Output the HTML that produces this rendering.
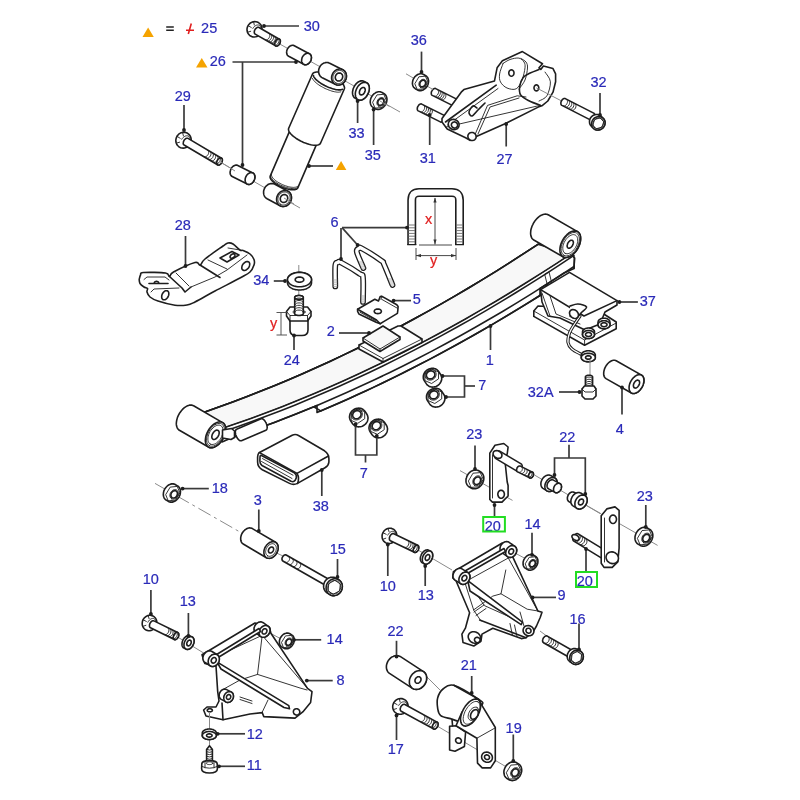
<!DOCTYPE html>
<html><head><meta charset="utf-8"><style>
html,body{margin:0;padding:0;background:#fff;width:800px;height:800px;overflow:hidden}
svg{display:block;will-change:transform}
.lb{font-family:"Liberation Sans",sans-serif;font-size:14.5px;stroke-width:0.2px}
.ld{fill:none;stroke:#3a3a3a;stroke-width:1.7}
.o{fill:#fff;stroke:#1e1e1e;stroke-width:1.6;stroke-linejoin:round;stroke-linecap:round}
.g{fill:#f8f8f8;stroke:#1e1e1e;stroke-width:1.6;stroke-linejoin:round;stroke-linecap:round}
.n{fill:none;stroke:#1e1e1e;stroke-width:1.6;stroke-linejoin:round;stroke-linecap:round}
.t{fill:none;stroke:#1e1e1e;stroke-width:0.9;stroke-linecap:round}
.c{fill:none;stroke:#8a8a8a;stroke-width:1}
</style></head><body>
<svg width="800" height="800" viewBox="0 0 800 800">
<path d="M278.0,43.0 L400.0,112.0" class="c"/>
<path d="M220.0,162.0 L300.0,208.0" class="c"/>
<path d="M250.6,36.1 L251.8,36.6 L253.0,36.9 L254.3,37.0 L255.7,36.8 L256.9,36.5 L258.1,35.9 L259.2,35.1 L260.1,34.1 L260.9,33.0 L261.5,31.8 L261.9,30.4 L262.0,29.1 L261.9,27.8 L261.6,26.5 L261.1,25.3 L260.3,24.2 L259.4,23.3 L258.4,22.5 L257.2,22.0 L256.0,21.7 L254.7,21.6 L253.3,21.8 L252.1,22.1 L250.9,22.7 L249.8,23.5 L248.9,24.5 L248.1,25.6 L247.5,26.8 L247.1,28.2 L247.0,29.5 L247.1,30.8 L247.4,32.1 L247.9,33.3 L248.7,34.4 L249.6,35.3 L250.6,36.1 Z" class="o" />
<path d="M247.6,32.2 L250.7,31.3" class="t" />
<path d="M248.2,25.7 L251.3,27.5" class="t" />
<path d="M253.6,21.9 L254.3,25.0" class="t" />
<path d="M259.9,32.4 L260.4,31.6 L260.7,30.8 L260.9,29.9 L261.0,29.1 L261.0,28.2 L260.8,27.5 L260.6,26.8 L260.3,26.2 L259.8,25.7 L259.3,25.3 L258.7,25.1 L258.1,24.9 L257.4,25.0 L256.7,25.1 L256.0,25.4 L255.3,25.8 L254.6,26.3 L254.0,26.9 L253.4,27.6 L252.9,28.4" class="t" />
<path d="M255.2,34.1 L275.6,45.8 L275.8,46.0 L276.1,46.0 L276.4,46.0 L276.7,46.0 L277.0,46.0 L277.3,45.9 L277.6,45.7 L277.9,45.5 L278.2,45.3 L278.5,45.0 L278.8,44.7 L279.1,44.4 L279.4,44.1 L279.6,43.7 L279.8,43.3 L280.0,42.9 L280.1,42.5 L280.2,42.1 L280.3,41.7 L280.3,41.4 L280.3,41.0 L280.3,40.6 L280.2,40.3 L280.1,40.0 L280.0,39.7 L279.8,39.5 L279.6,39.3 L279.4,39.2 L259.0,27.5 L258.8,27.3 L258.5,27.3 L258.2,27.2 L257.9,27.3 L257.6,27.3 L257.3,27.4 L257.0,27.6 L256.7,27.8 L256.4,28.0 L256.1,28.3 L255.8,28.6 L255.5,28.9 L255.2,29.2 L255.0,29.6 L254.8,30.0 L254.6,30.4 L254.5,30.8 L254.4,31.2 L254.3,31.6 L254.3,31.9 L254.3,32.3 L254.3,32.7 L254.4,33.0 L254.5,33.3 L254.6,33.6 L254.8,33.8 L255.0,34.0 L255.2,34.1 Z" class="o" />
<path d="M275.6,45.8 L275.9,46.0 L276.3,46.0 L276.7,46.0 L277.2,45.9 L277.6,45.7 L278.1,45.4 L278.5,45.1 L278.9,44.7 L279.3,44.2 L279.6,43.7 L279.9,43.2 L280.1,42.6 L280.2,42.0 L280.3,41.5 L280.3,41.0 L280.3,40.5 L280.2,40.1 L280.0,39.7 L279.7,39.4 L279.4,39.2 L279.1,39.0 L278.7,39.0 L278.3,39.0 L277.8,39.1 L277.4,39.3 L276.9,39.6 L276.5,39.9 L276.1,40.3 L275.7,40.8 L275.4,41.3 L275.1,41.8 L274.9,42.4 L274.8,43.0 L274.7,43.5 L274.7,44.0 L274.7,44.5 L274.8,44.9 L275.0,45.3 L275.3,45.6 L275.6,45.8 Z" class="o" />
<path d="M265.6,39.7 L266.4,39.8 L267.4,39.5 L268.4,38.8 L269.2,37.7 L269.7,36.5 L269.8,35.3 L269.6,34.3 L269.0,33.6" class="t"/>
<path d="M267.4,40.7 L268.3,40.9 L269.2,40.6 L270.2,39.8 L271.0,38.8 L271.5,37.5 L271.7,36.3 L271.4,35.3 L270.9,34.7" class="t"/>
<path d="M269.2,41.8 L270.1,41.9 L271.1,41.6 L272.0,40.9 L272.8,39.8 L273.4,38.6 L273.5,37.4 L273.3,36.4 L272.7,35.7" class="t"/>
<path d="M271.1,42.8 L271.9,43.0 L272.9,42.7 L273.9,42.0 L274.7,40.9 L275.2,39.7 L275.4,38.4 L275.1,37.4 L274.5,36.8" class="t"/>
<path d="M272.9,43.9 L273.8,44.0 L274.7,43.7 L275.7,43.0 L276.5,41.9 L277.0,40.7 L277.2,39.5 L277.0,38.5 L276.4,37.9" class="t"/>
<path d="M274.8,44.9 L275.6,45.1 L276.6,44.8 L277.6,44.1 L278.4,43.0 L278.9,41.8 L279.0,40.5 L278.8,39.5 L278.2,38.9" class="t"/>
<path d="M288.7,56.3 L303.7,64.3 L304.1,64.5 L304.6,64.6 L305.1,64.7 L305.7,64.7 L306.2,64.6 L306.8,64.5 L307.3,64.2 L307.8,64.0 L308.4,63.6 L308.9,63.2 L309.3,62.7 L309.7,62.2 L310.1,61.7 L310.5,61.1 L310.8,60.5 L311.0,59.9 L311.2,59.3 L311.3,58.6 L311.4,58.0 L311.4,57.4 L311.3,56.8 L311.2,56.2 L311.0,55.6 L310.8,55.1 L310.5,54.7 L310.1,54.3 L309.8,54.0 L309.3,53.7 L294.3,45.7 L293.9,45.5 L293.4,45.4 L292.9,45.3 L292.3,45.3 L291.8,45.4 L291.2,45.5 L290.7,45.8 L290.2,46.0 L289.6,46.4 L289.1,46.8 L288.7,47.3 L288.3,47.8 L287.9,48.3 L287.5,48.9 L287.2,49.5 L287.0,50.1 L286.8,50.7 L286.7,51.4 L286.6,52.0 L286.6,52.6 L286.7,53.2 L286.8,53.8 L287.0,54.4 L287.2,54.9 L287.5,55.3 L287.9,55.7 L288.2,56.0 L288.7,56.3 Z" class="o" />
<path d="M303.7,64.3 L304.3,64.6 L305.0,64.7 L305.8,64.7 L306.5,64.5 L307.3,64.2 L308.1,63.8 L308.8,63.3 L309.4,62.6 L310.0,61.9 L310.5,61.1 L310.9,60.3 L311.1,59.4 L311.3,58.5 L311.4,57.6 L311.3,56.8 L311.1,56.0 L310.8,55.2 L310.4,54.6 L309.9,54.1 L309.3,53.7 L308.7,53.4 L308.0,53.3 L307.2,53.3 L306.5,53.5 L305.7,53.8 L304.9,54.2 L304.2,54.7 L303.6,55.4 L303.0,56.1 L302.5,56.9 L302.1,57.7 L301.9,58.6 L301.7,59.5 L301.6,60.4 L301.7,61.2 L301.9,62.0 L302.2,62.8 L302.6,63.4 L303.1,63.9 L303.7,64.3 Z" class="o" />
<path d="M322.8,129.9 L297.8,187.9 L297.4,188.5 L296.9,188.9 L296.3,189.3 L295.5,189.5 L294.5,189.7 L293.4,189.8 L292.2,189.8 L290.9,189.7 L289.5,189.4 L288.0,189.1 L286.5,188.7 L284.9,188.2 L283.4,187.7 L281.8,187.1 L280.3,186.4 L278.8,185.6 L277.4,184.8 L276.1,184.0 L274.8,183.1 L273.7,182.2 L272.7,181.4 L271.9,180.5 L271.2,179.7 L270.6,178.8 L270.3,178.1 L270.1,177.3 L270.1,176.7 L270.2,176.1 L295.2,118.1 Z" class="o" />
<path d="M271.5,174.5 L271.5,175.1 L271.6,175.8 L271.9,176.5 L272.3,177.2 L272.9,178.0 L273.6,178.8 L274.4,179.6 L275.4,180.4 L276.4,181.2 L277.6,182.0 L278.8,182.7 L280.1,183.4 L281.4,184.1 L282.8,184.8 L284.2,185.3 L285.6,185.8 L287.1,186.3 L288.5,186.7 L289.8,187.0 L291.1,187.2 L292.3,187.3 L293.5,187.4 L294.5,187.3 L295.5,187.2 L296.3,187.0 L297.0,186.7 L297.6,186.4 L298.1,185.9" class="t" />
<path d="M270.7,175.6 L270.7,176.2 L270.8,176.8 L271.1,177.6 L271.6,178.3 L272.1,179.1 L272.9,179.9 L273.7,180.7 L274.7,181.5 L275.8,182.3 L276.9,183.1 L278.2,183.9 L279.5,184.6 L280.9,185.3 L282.3,185.9 L283.7,186.5 L285.2,187.1 L286.6,187.5 L288.1,187.9 L289.4,188.2 L290.8,188.4 L292.0,188.6 L293.2,188.6 L294.3,188.6 L295.2,188.5 L296.1,188.3 L296.8,188.0 L297.4,187.7 L297.8,187.3" class="t" />
<path d="M344.3,89.0 L344.5,88.3 L344.5,87.5 L344.3,86.7 L343.9,85.7 L343.4,84.7 L342.6,83.7 L341.6,82.7 L340.5,81.6 L339.2,80.5 L337.8,79.5 L336.3,78.4 L334.6,77.4 L332.9,76.5 L331.2,75.6 L329.4,74.8 L327.6,74.1 L325.8,73.5 L324.0,72.9 L322.3,72.5 L320.7,72.2 L319.1,72.0 L317.7,72.0 L316.4,72.0 L315.3,72.2 L314.3,72.5 L313.5,72.9 L312.9,73.4 L312.5,74.0 L288.7,128.2 L288.5,128.9 L288.5,129.7 L288.7,130.5 L289.1,131.5 L289.6,132.5 L290.4,133.5 L291.4,134.5 L292.5,135.6 L293.8,136.7 L295.2,137.7 L296.7,138.8 L298.4,139.8 L300.1,140.7 L301.8,141.6 L303.6,142.4 L305.4,143.1 L307.2,143.7 L309.0,144.3 L310.7,144.7 L312.3,145.0 L313.9,145.2 L315.3,145.2 L316.6,145.2 L317.7,145.0 L318.7,144.7 L319.5,144.3 L320.1,143.8 L320.5,143.2 Z" class="o" />
<path d="M313.5,75.6 L313.6,76.2 L313.9,76.9 L314.3,77.6 L314.9,78.3 L315.6,79.1 L316.4,79.9 L317.3,80.7 L318.3,81.5 L319.5,82.4 L320.7,83.2 L322.0,84.0 L323.3,84.7 L324.7,85.5 L326.2,86.2 L327.6,86.9 L329.1,87.5 L330.6,88.0 L332.0,88.5 L333.4,88.9 L334.8,89.3 L336.0,89.6 L337.3,89.8 L338.4,89.9 L339.4,89.9 L340.4,89.9 L341.2,89.8 L341.9,89.6 L342.5,89.3" class="n" />
<path d="M312.5,78.5 L312.8,79.1 L313.2,79.7 L313.7,80.4 L314.3,81.1 L315.0,81.9 L315.8,82.6 L316.8,83.4 L317.8,84.2 L318.8,84.9 L320.0,85.7 L321.2,86.4 L322.5,87.1 L323.8,87.8 L325.1,88.5 L326.5,89.1 L327.8,89.6 L329.2,90.2 L330.5,90.6 L331.8,91.1 L333.1,91.4 L334.3,91.7 L335.5,91.9 L336.6,92.1 L337.6,92.2 L338.6,92.2 L339.4,92.1 L340.2,92.0 L340.8,91.8" class="t" />
<path d="M322.3,77.8 L335.3,84.3 L336.1,84.6 L336.9,84.9 L337.7,85.0 L338.5,85.0 L339.3,84.9 L340.1,84.7 L341.0,84.5 L341.7,84.1 L342.5,83.6 L343.2,83.1 L343.9,82.5 L344.5,81.8 L345.0,81.0 L345.4,80.2 L345.8,79.4 L346.1,78.5 L346.3,77.6 L346.4,76.7 L346.4,75.8 L346.3,74.9 L346.1,74.1 L345.9,73.3 L345.5,72.5 L345.1,71.8 L344.6,71.1 L344.0,70.6 L343.4,70.1 L342.7,69.7 L329.7,63.2 L328.9,62.9 L328.1,62.6 L327.3,62.5 L326.5,62.5 L325.7,62.6 L324.9,62.8 L324.0,63.0 L323.3,63.4 L322.5,63.9 L321.8,64.4 L321.1,65.0 L320.5,65.7 L320.0,66.5 L319.6,67.3 L319.2,68.1 L318.9,69.0 L318.7,69.9 L318.6,70.8 L318.6,71.7 L318.7,72.6 L318.9,73.4 L319.1,74.2 L319.5,75.0 L319.9,75.7 L320.4,76.4 L321.0,76.9 L321.6,77.4 L322.3,77.8 Z" class="o" />
<path d="M335.3,84.3 L336.4,84.7 L337.5,85.0 L338.7,85.0 L339.8,84.8 L341.0,84.5 L342.1,83.9 L343.1,83.2 L344.0,82.3 L344.8,81.3 L345.4,80.2 L345.9,79.0 L346.3,77.8 L346.4,76.5 L346.4,75.3 L346.1,74.1 L345.8,73.0 L345.2,71.9 L344.5,71.0 L343.6,70.3 L342.7,69.7 L341.6,69.3 L340.5,69.0 L339.3,69.0 L338.2,69.2 L337.0,69.5 L335.9,70.1 L334.9,70.8 L334.0,71.7 L333.2,72.7 L332.6,73.8 L332.1,75.0 L331.7,76.2 L331.6,77.5 L331.6,78.7 L331.9,79.9 L332.2,81.0 L332.8,82.1 L333.5,83.0 L334.4,83.7 L335.3,84.3 Z" class="o" />
<path d="M336.0,83.0 L336.9,83.4 L337.8,83.5 L338.7,83.6 L339.7,83.4 L340.6,83.1 L341.5,82.7 L342.3,82.1 L343.1,81.4 L343.7,80.5 L344.3,79.6 L344.7,78.7 L345.0,77.7 L345.1,76.6 L345.0,75.6 L344.9,74.6 L344.5,73.7 L344.1,72.8 L343.5,72.1 L342.8,71.5 L342.0,71.0 L341.1,70.6 L340.2,70.5 L339.3,70.4 L338.3,70.6 L337.4,70.9 L336.5,71.3 L335.7,71.9 L334.9,72.6 L334.3,73.5 L333.7,74.4 L333.3,75.3 L333.0,76.3 L332.9,77.4 L333.0,78.4 L333.1,79.4 L333.5,80.3 L333.9,81.2 L334.5,81.9 L335.2,82.5 L336.0,83.0 Z" class="t" />
<path d="M337.2,80.7 L337.8,80.9 L338.5,81.0 L339.3,80.9 L340.0,80.7 L340.7,80.4 L341.3,79.9 L341.8,79.3 L342.2,78.6 L342.5,77.9 L342.7,77.1 L342.7,76.3 L342.6,75.5 L342.3,74.8 L341.9,74.2 L341.4,73.7 L340.8,73.3 L340.2,73.1 L339.5,73.0 L338.7,73.1 L338.0,73.3 L337.3,73.6 L336.7,74.1 L336.2,74.7 L335.8,75.4 L335.5,76.1 L335.3,76.9 L335.3,77.7 L335.4,78.5 L335.7,79.2 L336.1,79.8 L336.6,80.3 L337.2,80.7 Z" class="o" />
<path d="M267.1,198.7 L280.1,205.7 L280.8,206.1 L281.6,206.3 L282.4,206.4 L283.2,206.5 L284.1,206.4 L284.9,206.3 L285.7,206.0 L286.5,205.7 L287.3,205.2 L288.0,204.7 L288.7,204.1 L289.3,203.4 L289.9,202.7 L290.3,201.9 L290.7,201.1 L291.0,200.2 L291.3,199.3 L291.4,198.4 L291.4,197.5 L291.4,196.7 L291.2,195.8 L291.0,195.0 L290.7,194.2 L290.3,193.5 L289.8,192.8 L289.2,192.2 L288.6,191.7 L287.9,191.3 L274.9,184.3 L274.2,183.9 L273.4,183.7 L272.6,183.6 L271.8,183.5 L270.9,183.6 L270.1,183.7 L269.3,184.0 L268.5,184.3 L267.7,184.8 L267.0,185.3 L266.3,185.9 L265.7,186.6 L265.1,187.3 L264.7,188.1 L264.3,188.9 L264.0,189.8 L263.7,190.7 L263.6,191.6 L263.6,192.5 L263.6,193.3 L263.8,194.2 L264.0,195.0 L264.3,195.8 L264.7,196.5 L265.2,197.2 L265.8,197.8 L266.4,198.3 L267.1,198.7 Z" class="o" />
<path d="M280.1,205.7 L281.2,206.2 L282.3,206.4 L283.4,206.5 L284.6,206.3 L285.7,206.0 L286.8,205.5 L287.9,204.8 L288.8,204.0 L289.7,203.0 L290.3,201.9 L290.9,200.7 L291.2,199.5 L291.4,198.3 L291.4,197.0 L291.2,195.8 L290.9,194.7 L290.3,193.6 L289.7,192.7 L288.8,191.9 L287.9,191.3 L286.8,190.8 L285.7,190.6 L284.6,190.5 L283.4,190.7 L282.3,191.0 L281.2,191.5 L280.1,192.2 L279.2,193.0 L278.3,194.0 L277.7,195.1 L277.1,196.3 L276.8,197.5 L276.6,198.7 L276.6,200.0 L276.8,201.2 L277.1,202.3 L277.7,203.4 L278.3,204.3 L279.2,205.1 L280.1,205.7 Z" class="o" />
<path d="M280.8,204.4 L281.7,204.8 L282.6,205.0 L283.5,205.0 L284.5,204.9 L285.4,204.7 L286.3,204.2 L287.2,203.7 L288.0,203.0 L288.6,202.2 L289.2,201.3 L289.6,200.3 L289.9,199.3 L290.1,198.3 L290.1,197.3 L289.9,196.3 L289.6,195.4 L289.2,194.5 L288.6,193.7 L288.0,193.1 L287.2,192.6 L286.3,192.2 L285.4,192.0 L284.5,192.0 L283.5,192.1 L282.6,192.3 L281.7,192.8 L280.8,193.3 L280.0,194.0 L279.4,194.8 L278.8,195.7 L278.4,196.7 L278.1,197.7 L277.9,198.7 L277.9,199.7 L278.1,200.7 L278.4,201.6 L278.8,202.5 L279.4,203.3 L280.0,203.9 L280.8,204.4 Z" class="t" />
<path d="M282.1,202.1 L282.7,202.4 L283.4,202.5 L284.1,202.4 L284.9,202.3 L285.6,201.9 L286.2,201.5 L286.7,200.9 L287.2,200.2 L287.5,199.5 L287.7,198.7 L287.7,197.9 L287.6,197.2 L287.4,196.4 L287.0,195.8 L286.5,195.3 L285.9,194.9 L285.3,194.6 L284.6,194.5 L283.9,194.6 L283.1,194.7 L282.4,195.1 L281.8,195.5 L281.3,196.1 L280.8,196.8 L280.5,197.5 L280.3,198.3 L280.3,199.1 L280.4,199.8 L280.6,200.6 L281.0,201.2 L281.5,201.7 L282.1,202.1 Z" class="o" />
<path d="M284.0,198.0 L294.0,204.0" class="c"/>
<path d="M355.3,98.3 L358.1,99.7 L358.7,100.0 L359.4,100.1 L360.1,100.1 L360.9,100.1 L361.7,99.9 L362.4,99.6 L363.2,99.2 L364.0,98.7 L364.7,98.1 L365.5,97.4 L366.1,96.6 L366.8,95.8 L367.3,94.9 L367.8,94.0 L368.3,93.0 L368.7,92.0 L368.9,91.0 L369.1,90.0 L369.3,89.0 L369.3,88.1 L369.2,87.2 L369.1,86.3 L368.8,85.5 L368.5,84.7 L368.1,84.1 L367.7,83.5 L367.1,83.1 L366.5,82.7 L363.7,81.3 L363.1,81.0 L362.4,80.9 L361.7,80.9 L360.9,80.9 L360.1,81.1 L359.4,81.4 L358.6,81.8 L357.8,82.3 L357.1,82.9 L356.3,83.6 L355.7,84.4 L355.0,85.2 L354.5,86.1 L354.0,87.0 L353.5,88.0 L353.1,89.0 L352.9,90.0 L352.7,91.0 L352.5,92.0 L352.5,92.9 L352.6,93.8 L352.7,94.7 L353.0,95.5 L353.3,96.3 L353.7,96.9 L354.1,97.5 L354.7,97.9 L355.3,98.3 Z" class="o" />
<path d="M358.1,99.7 L359.0,100.0 L360.0,100.1 L361.0,100.0 L362.1,99.7 L363.2,99.2 L364.3,98.4 L365.3,97.5 L366.3,96.5 L367.1,95.3 L367.8,94.0 L368.4,92.6 L368.9,91.2 L369.2,89.8 L369.3,88.4 L369.2,87.2 L369.0,86.0 L368.6,84.9 L368.1,84.0 L367.4,83.2 L366.5,82.7 L365.6,82.4 L364.6,82.3 L363.6,82.4 L362.5,82.7 L361.4,83.2 L360.3,84.0 L359.3,84.9 L358.3,85.9 L357.5,87.1 L356.8,88.4 L356.2,89.8 L355.7,91.2 L355.4,92.6 L355.3,94.0 L355.4,95.2 L355.6,96.4 L356.0,97.5 L356.5,98.4 L357.2,99.2 L358.1,99.7 Z" class="o" />
<path d="M360.5,94.8 L361.0,94.9 L361.5,94.9 L362.1,94.8 L362.7,94.5 L363.2,94.2 L363.8,93.6 L364.2,93.0 L364.6,92.4 L364.9,91.6 L365.1,90.9 L365.2,90.2 L365.2,89.5 L365.1,88.9 L364.8,88.3 L364.5,87.9 L364.1,87.6 L363.6,87.5 L363.1,87.5 L362.5,87.6 L361.9,87.9 L361.4,88.2 L360.8,88.8 L360.4,89.4 L360.0,90.0 L359.7,90.8 L359.5,91.5 L359.4,92.2 L359.4,92.9 L359.5,93.5 L359.8,94.1 L360.1,94.5 L360.5,94.8 Z" class="o" />
<path d="M373.1,107.5 L375.1,108.7 L375.8,109.0 L376.5,109.3 L377.3,109.4 L378.1,109.5 L378.9,109.4 L379.7,109.2 L380.5,109.0 L381.4,108.6 L382.1,108.1 L382.9,107.6 L383.6,107.0 L384.3,106.3 L384.9,105.5 L385.4,104.7 L385.9,103.8 L386.3,102.9 L386.6,102.0 L386.8,101.1 L386.9,100.2 L387.0,99.3 L386.9,98.4 L386.7,97.5 L386.5,96.7 L386.2,96.0 L385.8,95.3 L385.3,94.7 L384.7,94.2 L384.1,93.7 L382.1,92.5 L381.4,92.2 L380.7,91.9 L379.9,91.8 L379.1,91.7 L378.3,91.8 L377.5,92.0 L376.7,92.2 L375.8,92.6 L375.1,93.1 L374.3,93.6 L373.6,94.2 L372.9,94.9 L372.3,95.7 L371.8,96.5 L371.3,97.4 L370.9,98.3 L370.6,99.2 L370.4,100.1 L370.3,101.0 L370.2,101.9 L370.3,102.8 L370.5,103.7 L370.7,104.5 L371.0,105.2 L371.4,105.9 L371.9,106.5 L372.5,107.0 L373.1,107.5 Z" class="o" />
<path d="M375.4,108.1 L382.2,107.5 L386.4,100.5 L383.8,94.3 L377.0,94.9 L372.8,101.9 Z" class="t" />
<path d="M378.4,105.9 L379.3,106.3 L380.3,106.3 L381.3,106.1 L382.3,105.5 L383.2,104.8 L383.9,103.8 L384.4,102.7 L384.7,101.5 L384.7,100.4 L384.4,99.4 L383.9,98.5 L383.2,97.9 L382.3,97.6 L381.3,97.5 L380.3,97.8 L379.3,98.3 L378.4,99.1 L377.7,100.0 L377.2,101.2 L376.9,102.3 L376.9,103.4 L377.2,104.5 L377.7,105.3 L378.4,105.9 Z" class="t" />
<path d="M378.9,105.0 L379.6,105.3 L380.4,105.3 L381.2,105.1 L382.0,104.7 L382.6,104.1 L383.2,103.4 L383.6,102.5 L383.8,101.6 L383.8,100.8 L383.6,100.0 L383.2,99.3 L382.7,98.8 L382.0,98.6 L381.2,98.5 L380.4,98.7 L379.6,99.1 L379.0,99.7 L378.4,100.5 L378.0,101.3 L377.8,102.2 L377.8,103.1 L378.0,103.9 L378.4,104.5 L378.9,105.0 Z" class="n" />
<path d="M380.0,101.0 L389.5,106.5" class="c"/>
<path d="M179.4,147.1 L180.6,147.7 L181.9,148.0 L183.2,148.1 L184.6,148.0 L185.9,147.6 L187.1,147.0 L188.3,146.2 L189.2,145.2 L190.0,144.1 L190.6,142.8 L191.0,141.5 L191.2,140.1 L191.1,138.7 L190.8,137.4 L190.3,136.2 L189.6,135.1 L188.6,134.1 L187.6,133.3 L186.4,132.7 L185.1,132.4 L183.8,132.3 L182.4,132.4 L181.1,132.8 L179.9,133.4 L178.7,134.2 L177.8,135.2 L177.0,136.3 L176.4,137.6 L176.0,138.9 L175.8,140.3 L175.9,141.7 L176.2,143.0 L176.7,144.2 L177.4,145.3 L178.4,146.3 L179.4,147.1 Z" class="o" />
<path d="M176.4,143.1 L179.6,142.2" class="t" />
<path d="M177.1,136.4 L180.2,138.3" class="t" />
<path d="M182.6,132.6 L183.4,135.8" class="t" />
<path d="M189.0,143.4 L189.4,142.6 L189.8,141.7 L190.0,140.9 L190.1,140.0 L190.1,139.2 L190.0,138.4 L189.7,137.7 L189.4,137.1 L189.0,136.6 L188.4,136.2 L187.8,135.9 L187.2,135.8 L186.5,135.8 L185.8,135.9 L185.0,136.2 L184.3,136.6 L183.6,137.1 L182.9,137.7 L182.3,138.4 L181.8,139.2" class="t" />
<path d="M184.1,145.0 L217.5,164.8 L217.8,164.9 L218.0,165.0 L218.3,165.0 L218.6,165.0 L218.9,165.0 L219.3,164.9 L219.6,164.7 L219.9,164.5 L220.2,164.3 L220.5,164.0 L220.8,163.7 L221.1,163.4 L221.3,163.1 L221.6,162.7 L221.8,162.3 L221.9,162.0 L222.1,161.6 L222.2,161.2 L222.3,160.8 L222.3,160.4 L222.3,160.0 L222.3,159.7 L222.3,159.3 L222.2,159.0 L222.0,158.8 L221.9,158.5 L221.7,158.3 L221.5,158.2 L188.0,138.4 L187.8,138.3 L187.5,138.2 L187.3,138.2 L187.0,138.2 L186.6,138.3 L186.3,138.4 L186.0,138.5 L185.7,138.7 L185.4,138.9 L185.1,139.2 L184.8,139.5 L184.5,139.8 L184.2,140.1 L184.0,140.5 L183.8,140.9 L183.6,141.3 L183.5,141.7 L183.4,142.1 L183.3,142.5 L183.2,142.8 L183.2,143.2 L183.3,143.6 L183.3,143.9 L183.4,144.2 L183.5,144.5 L183.7,144.7 L183.9,144.9 L184.1,145.0 Z" class="o" />
<path d="M217.5,164.8 L217.9,165.0 L218.3,165.0 L218.7,165.0 L219.1,164.9 L219.6,164.7 L220.0,164.4 L220.5,164.1 L220.9,163.7 L221.2,163.2 L221.6,162.7 L221.8,162.2 L222.1,161.6 L222.2,161.1 L222.3,160.5 L222.3,160.0 L222.3,159.5 L222.2,159.1 L222.0,158.7 L221.8,158.4 L221.5,158.2 L221.1,158.0 L220.7,158.0 L220.3,158.0 L219.9,158.1 L219.4,158.3 L219.0,158.6 L218.5,158.9 L218.1,159.3 L217.8,159.8 L217.4,160.3 L217.2,160.8 L216.9,161.4 L216.8,161.9 L216.7,162.5 L216.7,163.0 L216.7,163.5 L216.8,163.9 L217.0,164.3 L217.2,164.6 L217.5,164.8 Z" class="o" />
<path d="M204.4,156.6 L205.2,156.8 L206.2,156.5 L207.2,155.7 L208.0,154.7 L208.5,153.5 L208.7,152.3 L208.5,151.3 L207.9,150.6" class="t"/>
<path d="M206.7,158.0 L207.6,158.2 L208.5,157.9 L209.5,157.1 L210.3,156.1 L210.9,154.9 L211.0,153.6 L210.8,152.6 L210.2,152.0" class="t"/>
<path d="M209.0,159.3 L209.9,159.5 L210.9,159.2 L211.9,158.5 L212.7,157.5 L213.2,156.2 L213.4,155.0 L213.2,154.0 L212.6,153.4" class="t"/>
<path d="M211.4,160.7 L212.2,160.9 L213.2,160.6 L214.2,159.9 L215.0,158.8 L215.5,157.6 L215.7,156.4 L215.5,155.4 L214.9,154.8" class="t"/>
<path d="M213.7,162.1 L214.6,162.3 L215.6,162.0 L216.5,161.3 L217.3,160.2 L217.9,159.0 L218.1,157.8 L217.8,156.8 L217.3,156.1" class="t"/>
<path d="M216.1,163.5 L216.9,163.7 L217.9,163.4 L218.9,162.7 L219.7,161.6 L220.2,160.4 L220.4,159.2 L220.2,158.2 L219.6,157.5" class="t"/>
<path d="M232.2,176.5 L247.2,184.0 L247.7,184.2 L248.2,184.4 L248.7,184.4 L249.2,184.4 L249.8,184.3 L250.3,184.1 L250.9,183.8 L251.4,183.5 L251.9,183.2 L252.4,182.7 L252.9,182.2 L253.3,181.7 L253.7,181.1 L254.0,180.5 L254.3,179.9 L254.5,179.2 L254.7,178.6 L254.8,177.9 L254.9,177.3 L254.9,176.6 L254.8,176.0 L254.7,175.4 L254.5,174.9 L254.2,174.4 L253.9,173.9 L253.6,173.5 L253.2,173.2 L252.8,173.0 L237.8,165.5 L237.3,165.3 L236.8,165.1 L236.3,165.1 L235.8,165.1 L235.2,165.2 L234.7,165.4 L234.1,165.7 L233.6,166.0 L233.1,166.3 L232.6,166.8 L232.1,167.3 L231.7,167.8 L231.3,168.4 L231.0,169.0 L230.7,169.6 L230.5,170.3 L230.3,170.9 L230.2,171.6 L230.1,172.2 L230.1,172.9 L230.2,173.5 L230.3,174.1 L230.5,174.6 L230.8,175.1 L231.1,175.6 L231.4,176.0 L231.8,176.3 L232.2,176.5 Z" class="o" />
<path d="M247.2,184.0 L247.9,184.3 L248.6,184.4 L249.4,184.4 L250.1,184.2 L250.9,183.8 L251.6,183.4 L252.3,182.8 L253.0,182.1 L253.5,181.4 L254.0,180.5 L254.4,179.6 L254.7,178.7 L254.8,177.8 L254.9,176.9 L254.8,176.0 L254.6,175.2 L254.3,174.5 L253.9,173.8 L253.4,173.3 L252.8,173.0 L252.1,172.7 L251.4,172.6 L250.6,172.6 L249.9,172.8 L249.1,173.2 L248.4,173.6 L247.7,174.2 L247.0,174.9 L246.5,175.6 L246.0,176.5 L245.6,177.4 L245.3,178.3 L245.2,179.2 L245.1,180.1 L245.2,181.0 L245.4,181.8 L245.7,182.5 L246.1,183.2 L246.6,183.7 L247.2,184.0 Z" class="o" />
<path d="M219.0,161.0 L235.0,171.0" class="c"/>
<path d="M432.3,95.4 L453.3,105.9 L453.6,106.0 L453.8,106.1 L454.1,106.1 L454.4,106.0 L454.7,105.9 L455.0,105.8 L455.3,105.7 L455.6,105.5 L455.9,105.2 L456.2,104.9 L456.5,104.6 L456.7,104.3 L456.9,103.9 L457.1,103.6 L457.3,103.2 L457.5,102.8 L457.6,102.4 L457.7,102.0 L457.7,101.6 L457.7,101.2 L457.7,100.9 L457.7,100.5 L457.6,100.2 L457.5,99.9 L457.3,99.6 L457.1,99.4 L456.9,99.2 L456.7,99.1 L435.7,88.6 L435.4,88.5 L435.2,88.4 L434.9,88.4 L434.6,88.5 L434.3,88.6 L434.0,88.7 L433.7,88.8 L433.4,89.0 L433.1,89.3 L432.8,89.6 L432.5,89.9 L432.3,90.2 L432.1,90.6 L431.9,90.9 L431.7,91.3 L431.5,91.7 L431.4,92.1 L431.3,92.5 L431.3,92.9 L431.3,93.3 L431.3,93.6 L431.3,94.0 L431.4,94.3 L431.5,94.6 L431.7,94.9 L431.9,95.1 L432.1,95.3 L432.3,95.4 Z" class="o" />
<path d="M434.6,96.1 L435.4,96.2 L436.4,95.9 L437.3,95.1 L438.0,94.0 L438.5,92.8 L438.5,91.6 L438.3,90.6 L437.6,90.0" class="t"/>
<path d="M436.4,97.0 L437.3,97.2 L438.2,96.8 L439.1,96.0 L439.9,94.9 L440.3,93.7 L440.4,92.5 L440.1,91.5 L439.5,90.9" class="t"/>
<path d="M438.2,97.9 L439.1,98.1 L440.1,97.7 L441.0,97.0 L441.7,95.9 L442.1,94.6 L442.2,93.4 L441.9,92.4 L441.3,91.8" class="t"/>
<path d="M440.1,98.9 L440.9,99.0 L441.9,98.7 L442.8,97.9 L443.5,96.8 L444.0,95.5 L444.1,94.3 L443.8,93.3 L443.1,92.7" class="t"/>
<path d="M441.9,99.8 L442.8,99.9 L443.7,99.6 L444.6,98.8 L445.4,97.7 L445.8,96.4 L445.9,95.2 L445.6,94.3 L445.0,93.7" class="t"/>
<path d="M418.3,110.9 L440.3,121.9 L440.6,122.0 L440.8,122.1 L441.1,122.1 L441.4,122.0 L441.7,121.9 L442.0,121.8 L442.3,121.7 L442.6,121.5 L442.9,121.2 L443.2,120.9 L443.5,120.6 L443.7,120.3 L443.9,119.9 L444.1,119.6 L444.3,119.2 L444.5,118.8 L444.6,118.4 L444.7,118.0 L444.7,117.6 L444.7,117.2 L444.7,116.9 L444.7,116.5 L444.6,116.2 L444.5,115.9 L444.3,115.6 L444.1,115.4 L443.9,115.2 L443.7,115.1 L421.7,104.1 L421.4,104.0 L421.2,103.9 L420.9,103.9 L420.6,104.0 L420.3,104.1 L420.0,104.2 L419.7,104.3 L419.4,104.5 L419.1,104.8 L418.8,105.1 L418.5,105.4 L418.3,105.7 L418.1,106.1 L417.9,106.4 L417.7,106.8 L417.5,107.2 L417.4,107.6 L417.3,108.0 L417.3,108.4 L417.3,108.8 L417.3,109.1 L417.3,109.5 L417.4,109.8 L417.5,110.1 L417.7,110.4 L417.9,110.6 L418.1,110.8 L418.3,110.9 Z" class="o" />
<path d="M420.7,111.7 L421.5,111.8 L422.5,111.4 L423.4,110.7 L424.1,109.6 L424.6,108.3 L424.6,107.1 L424.4,106.1 L423.7,105.5" class="t"/>
<path d="M422.6,112.6 L423.5,112.8 L424.4,112.4 L425.3,111.6 L426.1,110.5 L426.5,109.3 L426.6,108.1 L426.3,107.1 L425.7,106.5" class="t"/>
<path d="M424.5,113.6 L425.4,113.7 L426.3,113.4 L427.2,112.6 L428.0,111.5 L428.4,110.2 L428.5,109.0 L428.2,108.1 L427.6,107.5" class="t"/>
<path d="M426.4,114.5 L427.3,114.7 L428.3,114.3 L429.2,113.6 L429.9,112.5 L430.3,111.2 L430.4,110.0 L430.1,109.0 L429.5,108.4" class="t"/>
<path d="M428.4,115.5 L429.2,115.6 L430.2,115.3 L431.1,114.5 L431.8,113.4 L432.3,112.2 L432.3,111.0 L432.1,110.0 L431.4,109.4" class="t"/>
<path d="M406.0,73.8 L433.0,89.5" class="c"/>
<path d="M415.3,88.7 L417.3,89.9 L417.9,90.2 L418.6,90.4 L419.4,90.6 L420.1,90.6 L420.9,90.6 L421.7,90.4 L422.5,90.2 L423.3,89.9 L424.0,89.4 L424.8,88.9 L425.4,88.3 L426.1,87.7 L426.6,87.0 L427.2,86.2 L427.6,85.4 L428.0,84.5 L428.2,83.7 L428.4,82.8 L428.5,81.9 L428.6,81.0 L428.5,80.2 L428.3,79.4 L428.1,78.6 L427.8,77.9 L427.4,77.2 L426.9,76.7 L426.3,76.2 L425.7,75.7 L423.7,74.5 L423.1,74.2 L422.4,74.0 L421.6,73.8 L420.9,73.8 L420.1,73.8 L419.3,74.0 L418.5,74.2 L417.7,74.5 L417.0,75.0 L416.2,75.5 L415.6,76.1 L414.9,76.7 L414.4,77.4 L413.8,78.2 L413.4,79.0 L413.0,79.9 L412.8,80.7 L412.6,81.6 L412.5,82.5 L412.4,83.4 L412.5,84.2 L412.7,85.0 L412.9,85.8 L413.2,86.5 L413.6,87.2 L414.1,87.7 L414.7,88.2 L415.3,88.7 Z" class="o" />
<path d="M417.6,89.4 L424.1,88.8 L428.0,82.2 L425.4,76.2 L418.9,76.8 L415.0,83.4 Z" class="t" />
<path d="M420.4,87.3 L421.3,87.6 L422.2,87.7 L423.2,87.5 L424.2,87.0 L425.0,86.2 L425.7,85.3 L426.2,84.3 L426.4,83.2 L426.4,82.1 L426.2,81.1 L425.6,80.3 L424.9,79.7 L424.1,79.4 L423.1,79.3 L422.1,79.5 L421.2,80.0 L420.3,80.8 L419.6,81.7 L419.1,82.7 L418.9,83.8 L418.9,84.9 L419.2,85.9 L419.7,86.7 L420.4,87.3 Z" class="t" />
<path d="M420.9,86.4 L421.6,86.7 L422.3,86.7 L423.1,86.6 L423.8,86.2 L424.5,85.6 L425.0,84.9 L425.4,84.1 L425.6,83.3 L425.6,82.4 L425.3,81.7 L425.0,81.0 L424.4,80.6 L423.8,80.3 L423.0,80.3 L422.3,80.4 L421.5,80.8 L420.9,81.4 L420.3,82.1 L420.0,82.9 L419.8,83.7 L419.8,84.6 L420.0,85.3 L420.4,86.0 L420.9,86.4 Z" class="n" />
<path d="M442.0,118.5 L461.2,92.2 L463.9,89.6 L494.5,80.9 L497.1,67.8 L502.4,60.8 L522.4,51.6 L542.5,63.8 L539.0,67.8 L540.8,69.5 L543.4,66.0 L553.0,68.6 L555.6,73.9 L555.6,81.8 L553.0,92.2 L547.8,101.0 L542.5,105.4 L538.2,107.1 L505.0,123.8 L475.2,136.9 L470.0,140.4 L465.6,137.8 L447.2,129.0 L442.0,122.0 Z" class="o" />
<path d="M503.1,63.4 C504.2,62.8 507.4,60.4 510.0,59.5 C512.6,58.6 516.6,57.7 518.9,58.1 C521.2,58.5 523.0,60.4 524.0,62.0 C525.0,63.6 525.3,64.8 525.0,67.8 C524.7,70.8 523.5,76.5 522.0,80.0 C520.5,83.5 518.8,87.4 516.2,88.8 C513.8,90.1 509.6,89.1 507.0,88.0 C504.4,86.9 501.7,84.3 500.5,82.0 C499.3,79.7 499.2,77.1 499.6,74.0 C500.0,70.9 502.5,65.2 503.1,63.4" class="t"/>
<path d="M521.0,58.5 C521.8,59.1 524.9,60.4 526.0,62.0 C527.1,63.6 527.7,65.0 527.5,68.0 C527.3,71.0 526.4,76.5 525.0,80.0 C523.6,83.5 520.0,87.5 519.0,89.0" class="t"/>
<path d="M514.0,73.0 L513.9,74.0 L513.5,74.9 L512.9,75.6 L512.2,76.0 L511.4,76.2 L510.6,76.0 L509.9,75.6 L509.3,74.9 L508.9,74.0 L508.8,73.0 L508.9,72.0 L509.3,71.1 L509.9,70.4 L510.6,70.0 L511.4,69.8 L512.2,70.0 L512.9,70.4 L513.5,71.1 L513.9,72.0 L514.0,73.0 Z" class="n" />
<path d="M539.0,69.5 C537.5,70.1 532.9,71.7 530.2,73.0 C527.6,74.3 525.0,75.2 523.2,77.4 C521.5,79.6 520.2,83.2 519.8,86.1 C519.3,89.0 519.0,92.4 520.6,94.9 C522.2,97.4 526.0,99.2 529.4,101.0 C532.8,102.8 538.9,104.7 540.8,105.4" class="n"/>
<path d="M545.0,72.1 C545.9,73.7 550.1,77.8 550.4,81.8 C550.7,85.7 548.8,92.5 546.9,95.8 C545.0,99.0 540.3,100.1 539.0,101.0" class="t"/>
<path d="M538.8,87.9 L538.7,88.8 L538.3,89.7 L537.8,90.3 L537.1,90.8 L536.4,90.9 L535.7,90.8 L535.0,90.3 L534.5,89.7 L534.1,88.8 L534.0,87.9 L534.1,87.0 L534.5,86.1 L535.0,85.5 L535.7,85.0 L536.4,84.9 L537.1,85.0 L537.8,85.5 L538.3,86.1 L538.7,87.0 L538.8,87.9 Z" class="n" />
<path d="M536.4,87.9 L563.6,102.0" class="c"/>
<path d="M445.5,122.0 L496.2,85.2" class="n" />
<path d="M447.5,125.0 L498.0,88.5" class="t" />
<path d="M445.5,127.2 L540.0,105.4" class="t" />
<path d="M475.2,134.2 L487.5,105.4 L517.2,95.8 L526.0,97.0" class="t" />
<path d="M478.0,134.0 L490.0,107.0 L519.0,98.0" class="t" />
<path d="M485.0,103.0 C483.8,104.2 480.2,107.8 478.0,110.0 C475.8,112.2 473.5,115.7 472.0,116.0 C470.5,116.3 468.8,113.7 469.0,112.0 C469.2,110.3 471.7,106.7 473.0,106.0 C474.3,105.3 476.3,107.7 477.0,108.0" class="n"/>
<path d="M458.5,127.2 L457.7,128.3 L456.6,129.1 L455.3,129.5 L453.9,129.6 L452.5,129.4 L451.2,128.8 L450.0,128.0 L449.1,126.9 L448.5,125.6 L448.3,124.3 L448.4,123.0 L448.9,121.8 L449.7,120.7 L450.8,119.9 L452.1,119.5 L453.5,119.4 L454.9,119.6 L456.2,120.2 L457.4,121.0 L458.3,122.1 L458.9,123.4 L459.1,124.7 L459.0,126.0 L458.5,127.2 Z" class="o" />
<path d="M457.3,126.6 L456.7,127.3 L455.9,127.8 L454.9,128.1 L453.9,128.0 L453.0,127.6 L452.2,127.0 L451.7,126.2 L451.4,125.2 L451.4,124.3 L451.7,123.4 L452.3,122.7 L453.1,122.2 L454.1,121.9 L455.1,122.0 L456.0,122.4 L456.8,123.0 L457.3,123.8 L457.6,124.8 L457.6,125.7 L457.3,126.6 Z" class="n" />
<path d="M475.7,138.6 L474.9,139.6 L473.8,140.2 L472.5,140.5 L471.2,140.5 L470.0,140.0 L469.0,139.2 L468.2,138.1 L467.9,136.8 L467.9,135.6 L468.3,134.4 L469.1,133.4 L470.2,132.8 L471.5,132.5 L472.8,132.5 L474.0,133.0 L475.0,133.8 L475.8,134.9 L476.1,136.2 L476.1,137.4 L475.7,138.6 Z" class="o" />
<path d="M561.9,105.4 L590.3,119.9 L590.5,120.0 L590.8,120.0 L591.1,120.1 L591.4,120.0 L591.7,119.9 L592.0,119.8 L592.3,119.7 L592.6,119.5 L592.9,119.2 L593.2,119.0 L593.4,118.6 L593.7,118.3 L593.9,118.0 L594.1,117.6 L594.3,117.2 L594.5,116.8 L594.6,116.4 L594.7,116.0 L594.7,115.6 L594.7,115.2 L594.7,114.9 L594.7,114.5 L594.6,114.2 L594.5,113.9 L594.3,113.7 L594.2,113.4 L594.0,113.3 L593.7,113.1 L565.3,98.6 L565.1,98.5 L564.8,98.5 L564.5,98.4 L564.2,98.5 L563.9,98.6 L563.6,98.7 L563.3,98.8 L563.0,99.0 L562.7,99.3 L562.4,99.5 L562.2,99.9 L561.9,100.2 L561.7,100.5 L561.5,100.9 L561.3,101.3 L561.1,101.7 L561.0,102.1 L560.9,102.5 L560.9,102.9 L560.9,103.3 L560.9,103.6 L560.9,104.0 L561.0,104.3 L561.1,104.6 L561.3,104.8 L561.4,105.1 L561.6,105.2 L561.9,105.4 Z" class="o" />
<path d="M563.5,105.8 L564.3,105.9 L565.3,105.6 L566.2,104.8 L566.9,103.7 L567.4,102.5 L567.5,101.3 L567.2,100.3 L566.6,99.7" class="t"/>
<path d="M565.6,106.9 L566.4,107.0 L567.4,106.7 L568.3,105.9 L569.1,104.8 L569.5,103.6 L569.6,102.4 L569.3,101.4 L568.7,100.8" class="t"/>
<path d="M567.7,107.9 L568.6,108.1 L569.5,107.7 L570.5,107.0 L571.2,105.9 L571.7,104.6 L571.7,103.4 L571.5,102.5 L570.8,101.9" class="t"/>
<path d="M569.9,109.0 L570.7,109.2 L571.7,108.8 L572.6,108.1 L573.3,107.0 L573.8,105.7 L573.9,104.5 L573.6,103.5 L573.0,102.9" class="t"/>
<path d="M572.0,110.1 L572.8,110.3 L573.8,109.9 L574.7,109.1 L575.5,108.1 L575.9,106.8 L576.0,105.6 L575.7,104.6 L575.1,104.0" class="t"/>
<path d="M591.2,126.1 L593.4,128.2 L593.9,128.7 L594.5,129.1 L595.1,129.5 L595.8,129.7 L596.5,129.9 L597.3,130.0 L598.0,130.0 L598.8,129.9 L599.5,129.8 L600.3,129.6 L601.0,129.2 L601.6,128.8 L602.3,128.4 L602.9,127.9 L603.4,127.3 L603.8,126.6 L604.2,126.0 L604.6,125.3 L604.8,124.5 L604.9,123.8 L605.0,123.0 L605.0,122.3 L604.9,121.5 L604.7,120.8 L604.5,120.1 L604.1,119.5 L603.7,118.9 L603.2,118.4 L601.1,116.2 L600.6,115.8 L600.0,115.3 L599.3,115.0 L598.7,114.7 L597.9,114.6 L597.2,114.5 L596.5,114.5 L595.7,114.5 L595.0,114.7 L594.2,114.9 L593.5,115.2 L592.8,115.6 L592.2,116.1 L591.6,116.6 L591.1,117.2 L590.6,117.8 L590.2,118.5 L589.9,119.2 L589.7,120.0 L589.5,120.7 L589.5,121.5 L589.5,122.2 L589.6,122.9 L589.7,123.7 L590.0,124.3 L590.3,125.0 L590.8,125.6 L591.2,126.1 Z" class="o" />
<path d="M593.4,128.2 L594.1,128.9 L595.0,129.4 L596.0,129.8 L597.0,130.0 L598.0,130.0 L599.1,129.9 L600.1,129.6 L601.1,129.2 L602.0,128.6 L602.9,127.9 L603.6,127.0 L604.2,126.1 L604.6,125.1 L604.9,124.1 L605.0,123.0 L605.0,122.0 L604.8,121.0 L604.4,120.0 L603.9,119.1 L603.2,118.4 L602.5,117.7 L601.6,117.2 L600.6,116.8 L599.6,116.6 L598.6,116.6 L597.5,116.7 L596.5,117.0 L595.5,117.4 L594.6,118.0 L593.7,118.7 L593.0,119.6 L592.4,120.5 L592.0,121.5 L591.7,122.5 L591.6,123.6 L591.6,124.6 L591.8,125.6 L592.2,126.6 L592.7,127.5 L593.4,128.2 Z" class="o" />
<path d="M594.3,127.3 L595.4,128.1 L596.7,128.6 L598.1,128.7 L599.5,128.4 L600.8,127.8 L601.9,126.9 L602.8,125.8 L603.4,124.5 L603.7,123.1 L603.6,121.7 L603.1,120.4 L602.3,119.3 L601.2,118.5 L599.9,118.0 L598.5,117.9 L597.1,118.2 L595.8,118.8 L594.7,119.7 L593.8,120.8 L593.2,122.1 L592.9,123.5 L593.0,124.9 L593.5,126.2 L594.3,127.3 Z" class="t" />
<path d="M596.5,128.7 L601.9,127.1 L603.7,121.8 L600.1,117.9 L594.7,119.5 L592.9,124.8 Z" class="t" />
<path d="M411.75,245 V200 Q411.75,192.5 419,192.5 H452 Q459.5,192.5 459.5,200 V245" fill="none" stroke="#1e1e1e" stroke-width="9" stroke-linejoin="round"/>
<path d="M411.75,245 V200 Q411.75,192.5 419,192.5 H452 Q459.5,192.5 459.5,200 V245" fill="none" stroke="#fff" stroke-width="5.8" stroke-linejoin="round"/>
<path d="M407.2,244.6 H416.3 M455,244.6 H464" stroke="#1e1e1e" stroke-width="1.4"/>
<path d="M408.5,225.0 H415 M456.3,225.0 H462.8" stroke="#666" stroke-width="0.9"/>
<path d="M408.5,227.8 H415 M456.3,227.8 H462.8" stroke="#666" stroke-width="0.9"/>
<path d="M408.5,230.6 H415 M456.3,230.6 H462.8" stroke="#666" stroke-width="0.9"/>
<path d="M408.5,233.4 H415 M456.3,233.4 H462.8" stroke="#666" stroke-width="0.9"/>
<path d="M408.5,236.2 H415 M456.3,236.2 H462.8" stroke="#666" stroke-width="0.9"/>
<path d="M408.5,239.0 H415 M456.3,239.0 H462.8" stroke="#666" stroke-width="0.9"/>
<path d="M408.5,241.8 H415 M456.3,241.8 H462.8" stroke="#666" stroke-width="0.9"/>
<path d="M435,198 V244.5 M419,245 H452 M416,248 V260 M456,248 V260 M416,255.6 H456" stroke="#333" stroke-width="0.9" fill="none"/>
<path d="M435,197.5 l-1.6,5 h3.2z M435,244.6 l-1.6,-5 h3.2z M416,255.6 l5,-1.6 v3.2z M456,255.6 l-5,-1.6 v3.2z" fill="#333"/>
<path d="M363.4,268.1 C362.3,265.5 357.7,255.5 356.9,252.2 C356.1,248.9 357.9,249.0 358.8,248.4 C359.6,247.8 358.2,246.5 362.0,248.5 C365.8,250.5 377.6,258.0 381.2,260.6 C384.9,263.2 382.1,260.3 384.0,264.4 C385.9,268.5 391.1,281.6 392.5,285.0" fill="none" stroke="#1e1e1e" stroke-width="5.8" stroke-linecap="round" stroke-linejoin="round"/>
<path d="M363.4,268.1 C362.3,265.5 357.7,255.5 356.9,252.2 C356.1,248.9 357.9,249.0 358.8,248.4 C359.6,247.8 358.2,246.5 362.0,248.5 C365.8,250.5 377.6,258.0 381.2,260.6 C384.9,263.2 382.1,260.3 384.0,264.4 C385.9,268.5 391.1,281.6 392.5,285.0" fill="none" stroke="#fff" stroke-width="3.2" stroke-linecap="round" stroke-linejoin="round"/>
<path d="M335.3,286.4 C335.3,282.9 334.8,269.3 335.3,265.3 C335.8,261.3 337.2,263.0 338.1,262.5 C339.1,262.0 337.4,260.6 341.0,262.5 C344.6,264.4 356.0,271.2 359.7,273.8 C363.4,276.2 362.4,272.8 363.0,277.5 C363.6,282.2 363.0,297.8 363.0,301.9" fill="none" stroke="#1e1e1e" stroke-width="5.8" stroke-linecap="round" stroke-linejoin="round"/>
<path d="M335.3,286.4 C335.3,282.9 334.8,269.3 335.3,265.3 C335.8,261.3 337.2,263.0 338.1,262.5 C339.1,262.0 337.4,260.6 341.0,262.5 C344.6,264.4 356.0,271.2 359.7,273.8 C363.4,276.2 362.4,272.8 363.0,277.5 C363.6,282.2 363.0,297.8 363.0,301.9" fill="none" stroke="#fff" stroke-width="3.2" stroke-linecap="round" stroke-linejoin="round"/>
<path d="M361.4,268.1 h4" stroke="#999" stroke-width="0.7"/>
<path d="M360.6,266.1 h4" stroke="#999" stroke-width="0.7"/>
<path d="M359.8,264.0 h4" stroke="#999" stroke-width="0.7"/>
<path d="M359.0,262.0 h4" stroke="#999" stroke-width="0.7"/>
<path d="M390.5,285.0 h4" stroke="#999" stroke-width="0.7"/>
<path d="M389.7,283.0 h4" stroke="#999" stroke-width="0.7"/>
<path d="M388.8,281.0 h4" stroke="#999" stroke-width="0.7"/>
<path d="M388.0,279.0 h4" stroke="#999" stroke-width="0.7"/>
<path d="M333.3,286.4 h4" stroke="#999" stroke-width="0.7"/>
<path d="M333.3,284.3 h4" stroke="#999" stroke-width="0.7"/>
<path d="M333.3,282.1 h4" stroke="#999" stroke-width="0.7"/>
<path d="M333.3,280.0 h4" stroke="#999" stroke-width="0.7"/>
<path d="M361.0,301.9 h4" stroke="#999" stroke-width="0.7"/>
<path d="M361.0,299.9 h4" stroke="#999" stroke-width="0.7"/>
<path d="M361.0,298.0 h4" stroke="#999" stroke-width="0.7"/>
<path d="M361.0,296.0 h4" stroke="#999" stroke-width="0.7"/>
<path d="M357.6,309.2 L374.8,299.3 L378.5,301.0 L380.2,296.5 L381.6,296.2 L396.8,304.8 L398.1,306.5 L397.8,310.6 L397.4,313.4 L380.2,323.7 L376.1,322.3 L358.9,314.0 L357.6,311.3 Z" class="o" />
<path d="M357.6,309.2 L376.5,320.0 L380.2,323.7" class="n" />
<path d="M360.0,312.2 L376.0,321.0" class="t" />
<path d="M382.0,299.5 L397.5,308.3" class="t" />
<path d="M381.6,296.2 L381.0,299.5" class="t" />
<path d="M381.4,311.3 L381.2,312.0 L380.7,312.7 L379.9,313.2 L378.9,313.5 L377.8,313.6 L376.7,313.5 L375.7,313.2 L374.9,312.7 L374.4,312.0 L374.2,311.3 L374.4,310.6 L374.9,309.9 L375.7,309.4 L376.7,309.1 L377.8,309.0 L378.9,309.1 L379.9,309.4 L380.7,309.9 L381.2,310.6 L381.4,311.3 Z" class="n" />
<path d="M205.0,411.9 L218.9,407.0 L232.8,402.0 L246.6,396.7 L260.5,391.3 L274.4,385.7 L288.2,379.9 L302.1,373.9 L316.0,367.8 L329.9,361.4 L343.8,354.9 L357.6,348.2 L371.5,341.3 L385.4,334.2 L399.2,327.0 L413.1,319.5 L427.0,311.9 L440.9,304.1 L454.8,296.1 L468.6,288.0 L482.5,279.6 L496.4,271.1 L510.2,262.3 L524.1,253.4 L538.0,244.3 L572.0,254.0 L574.5,258.0 L574.0,268.5 L564.0,273.0 L556.0,278.2 L548.0,283.4 L540.0,288.5 L540.0,295.5 L528.9,302.4 L517.7,309.3 L506.6,316.0 L495.4,322.6 L484.2,329.1 L473.1,335.5 L461.9,341.8 L450.8,347.9 L439.6,353.9 L428.5,359.9 L417.4,365.6 L406.2,371.3 L395.1,376.9 L383.9,382.3 L372.8,387.6 L361.6,392.8 L350.4,397.9 L339.3,402.9 L328.1,407.7 L317.0,412.4 L317.0,405.4 L306.5,409.8 L296.0,414.0 L285.5,418.1 L275.0,422.2 L264.5,426.1 L254.0,429.9 L243.5,433.6 L233.0,437.2 L222.0,441.9 L222.0,428.4 Z" class="o" />
<path d="M205.0,411.9 L218.9,407.0 L232.8,402.0 L246.6,396.7 L260.5,391.3 L274.4,385.7 L288.2,379.9 L302.1,373.9 L316.0,367.8 L329.9,361.4 L343.8,354.9 L357.6,348.2 L371.5,341.3 L385.4,334.2 L399.2,327.0 L413.1,319.5 L427.0,311.9 L440.9,304.1 L454.8,296.1 L468.6,288.0 L482.5,279.6 L496.4,271.1 L510.2,262.3 L524.1,253.4 L538.0,244.3 L572.0,254.5 L572.0,253.2 L556.7,263.3 L541.4,273.2 L526.1,282.8 L510.8,292.3 L495.5,301.5 L480.2,310.4 L465.0,319.2 L449.7,327.7 L434.4,336.0 L419.1,344.1 L403.8,352.0 L388.5,359.6 L373.2,367.0 L357.9,374.2 L342.6,381.2 L327.3,388.0 L312.0,394.5 L296.8,400.8 L281.5,406.9 L266.2,412.7 L250.9,418.4 L235.6,423.8 L220.3,429.0 L205.0,434.0 Z" class="g" />
<path d="M205.0,411.9 L218.9,407.0 L232.8,402.0 L246.6,396.7 L260.5,391.3 L274.4,385.7 L288.2,379.9 L302.1,373.9 L316.0,367.8 L329.9,361.4 L343.8,354.9 L357.6,348.2 L371.5,341.3 L385.4,334.2 L399.2,327.0 L413.1,319.5 L427.0,311.9 L440.9,304.1 L454.8,296.1 L468.6,288.0 L482.5,279.6 L496.4,271.1 L510.2,262.3 L524.1,253.4 L538.0,244.3" class="n" />
<path d="M210.0,432.4 L225.1,427.4 L240.2,422.2 L255.2,416.8 L270.3,411.2 L285.4,405.3 L300.5,399.3 L315.6,393.0 L330.7,386.5 L345.8,379.8 L360.8,372.9 L375.9,365.7 L391.0,358.4 L406.1,350.8 L421.2,343.0 L436.2,335.0 L451.3,326.8 L466.4,318.4 L481.5,309.7 L496.6,300.8 L511.7,291.8 L526.8,282.4 L541.8,272.9 L556.9,263.2 L572.0,253.2" class="t" />
<path d="M222.0,431.9 L236.7,426.9 L251.3,421.7 L266.0,416.3 L280.7,410.7 L295.3,404.9 L310.0,398.8 L324.7,392.6 L339.3,386.2 L354.0,379.5 L368.7,372.7 L383.3,365.7 L398.0,358.4 L412.7,350.9 L427.3,343.3 L442.0,335.4 L456.7,327.3 L471.3,319.1 L486.0,310.6 L500.7,301.9 L515.3,293.0 L530.0,283.9 L544.7,274.6 L559.3,265.1 L574.0,255.4" class="n" />
<path d="M572.0,254.5 L574.5,258.0 L574.0,268.5" class="n" />
<path d="M233.0,437.2 L247.2,432.3 L261.4,427.2 L275.6,421.9 L289.8,416.4 L304.0,410.8 L318.2,404.9 L332.5,398.8 L346.7,392.6 L360.9,386.1 L375.1,379.5 L389.3,372.7 L403.5,365.7 L417.7,358.5 L431.9,351.1 L446.1,343.5 L460.3,335.7 L474.5,327.7 L488.8,319.5 L503.0,311.2 L517.2,302.6 L531.4,293.9 L545.6,284.9 L559.8,275.8 L574.0,266.5" class="n" />
<path d="M320.0,411.2 L329.2,407.3 L338.3,403.3 L347.5,399.2 L356.7,395.1 L365.8,390.9 L375.0,386.6 L384.2,382.2 L393.3,377.7 L402.5,373.2 L411.7,368.5 L420.8,363.8 L430.0,359.1 L439.2,354.2 L448.3,349.3 L457.5,344.2 L466.7,339.1 L475.8,334.0 L485.0,328.7 L494.2,323.4 L503.3,317.9 L512.5,312.4 L521.7,306.9 L530.8,301.2 L540.0,295.5" class="n" />
<path d="M313.7,406.8 L320.7,410.9" class="n" />
<path d="M540.0,295.5 L548.0,283.4" class="n" />
<path d="M359.0,345.0 L398.0,326.0 L401.0,326.0 L422.0,339.0 L422.0,342.5 L383.0,362.0 L359.0,349.0 Z" class="o" />
<path d="M359.0,345.0 L383.0,358.5 L422.0,339.0" class="t" />
<path d="M383.0,358.5 L383.0,362.0" class="t" />
<path d="M363.0,338.0 L383.0,326.0 L400.0,337.0 L400.0,339.5 L380.0,351.5 L363.0,341.0 Z" class="g" />
<path d="M363.0,338.0 L380.0,349.0 L400.0,337.0" class="t" />
<path d="M380.0,349.0 L380.0,351.5" class="t" />
<path d="M179.4,430.2 L208.4,447.0 L209.3,447.4 L210.2,447.7 L211.2,447.7 L212.3,447.7 L213.4,447.4 L214.5,447.0 L215.6,446.4 L216.8,445.7 L217.9,444.9 L219.0,443.9 L220.0,442.8 L221.0,441.6 L221.9,440.4 L222.8,439.0 L223.5,437.6 L224.2,436.2 L224.7,434.7 L225.1,433.3 L225.4,431.9 L225.6,430.5 L225.7,429.1 L225.6,427.9 L225.4,426.7 L225.0,425.6 L224.6,424.6 L224.0,423.8 L223.4,423.1 L222.6,422.6 L193.6,405.8 L192.7,405.4 L191.8,405.1 L190.8,405.1 L189.7,405.1 L188.6,405.4 L187.5,405.8 L186.4,406.4 L185.2,407.1 L184.1,407.9 L183.0,408.9 L182.0,410.0 L181.0,411.2 L180.1,412.4 L179.2,413.8 L178.5,415.2 L177.8,416.6 L177.3,418.1 L176.9,419.5 L176.6,420.9 L176.4,422.3 L176.3,423.7 L176.4,424.9 L176.6,426.1 L177.0,427.2 L177.4,428.2 L178.0,429.0 L178.6,429.7 L179.4,430.2 Z" class="o" />
<path d="M208.4,447.0 L209.6,447.6 L211.0,447.7 L212.5,447.6 L214.0,447.2 L215.6,446.4 L217.2,445.4 L218.8,444.1 L220.2,442.6 L221.6,440.9 L222.8,439.0 L223.8,437.0 L224.6,435.0 L225.2,433.0 L225.5,431.0 L225.7,429.1 L225.5,427.4 L225.1,425.8 L224.5,424.5 L223.6,423.4 L222.6,422.6 L221.4,422.0 L220.0,421.9 L218.5,422.0 L217.0,422.4 L215.4,423.2 L213.8,424.2 L212.2,425.5 L210.8,427.0 L209.4,428.7 L208.2,430.6 L207.2,432.6 L206.4,434.6 L205.8,436.6 L205.5,438.6 L205.3,440.5 L205.5,442.2 L205.9,443.8 L206.5,445.1 L207.4,446.2 L208.4,447.0 Z" class="o" />
<path d="M210.2,444.0 L211.1,444.4 L212.1,444.5 L213.2,444.4 L214.4,444.1 L215.6,443.5 L216.8,442.8 L217.9,441.8 L219.0,440.6 L220.1,439.4 L221.0,438.0 L221.7,436.5 L222.3,435.0 L222.8,433.4 L223.0,432.0 L223.1,430.5 L223.0,429.2 L222.7,428.1 L222.2,427.0 L221.6,426.2 L220.8,425.6 L219.9,425.2 L218.9,425.1 L217.8,425.2 L216.6,425.5 L215.4,426.1 L214.2,426.8 L213.1,427.8 L212.0,429.0 L210.9,430.2 L210.0,431.6 L209.3,433.1 L208.7,434.6 L208.2,436.2 L208.0,437.6 L207.9,439.1 L208.0,440.4 L208.3,441.5 L208.8,442.6 L209.4,443.4 L210.2,444.0 Z" class="t" />
<path d="M212.9,439.2 L213.5,439.4 L214.1,439.5 L214.8,439.3 L215.5,439.0 L216.3,438.5 L216.9,437.9 L217.6,437.1 L218.1,436.3 L218.6,435.4 L218.9,434.5 L219.1,433.6 L219.2,432.8 L219.1,432.0 L218.9,431.3 L218.5,430.8 L218.1,430.4 L217.5,430.2 L216.9,430.1 L216.2,430.3 L215.5,430.6 L214.7,431.1 L214.1,431.7 L213.4,432.5 L212.9,433.3 L212.4,434.2 L212.1,435.1 L211.9,436.0 L211.8,436.8 L211.9,437.6 L212.1,438.3 L212.5,438.8 L212.9,439.2 Z" class="o" />
<path d="M209.3,445.6 L210.5,446.1 L211.9,446.2 L213.3,446.0 L214.9,445.4 L216.4,444.6 L217.9,443.4 L219.4,442.0 L220.7,440.3 L221.9,438.5 L222.9,436.6 L223.6,434.6 L224.2,432.6 L224.4,430.7 L224.4,428.9 L224.1,427.3 L223.5,425.9 L222.7,424.8 L221.7,424.0 L220.5,423.5 L219.1,423.4 L217.7,423.6 L216.1,424.2 L214.6,425.0 L213.1,426.2 L211.6,427.6 L210.3,429.3 L209.1,431.1 L208.1,433.0 L207.4,435.0 L206.8,437.0 L206.6,438.9 L206.6,440.7 L206.9,442.3 L207.5,443.7 L208.3,444.8 L209.3,445.6 Z" class="t" />
<path d="M533.8,240.0 L563.0,256.8 L563.9,257.2 L564.9,257.4 L565.9,257.5 L567.0,257.4 L568.1,257.1 L569.3,256.7 L570.4,256.1 L571.6,255.4 L572.7,254.5 L573.8,253.5 L574.9,252.4 L575.9,251.2 L576.9,249.9 L577.7,248.5 L578.5,247.0 L579.1,245.6 L579.7,244.1 L580.1,242.6 L580.4,241.1 L580.6,239.7 L580.6,238.3 L580.5,237.0 L580.3,235.8 L580.0,234.7 L579.5,233.7 L579.0,232.9 L578.3,232.2 L577.5,231.6 L548.2,214.8 L547.3,214.4 L546.4,214.2 L545.4,214.1 L544.3,214.2 L543.1,214.5 L542.0,214.9 L540.8,215.5 L539.7,216.2 L538.5,217.1 L537.4,218.1 L536.3,219.2 L535.3,220.4 L534.4,221.7 L533.5,223.1 L532.8,224.6 L532.1,226.0 L531.6,227.5 L531.1,229.0 L530.8,230.5 L530.7,231.9 L530.6,233.3 L530.7,234.6 L530.9,235.8 L531.3,236.9 L531.7,237.9 L532.3,238.7 L533.0,239.4 L533.8,240.0 Z" class="o" />
<path d="M563.0,256.8 L564.3,257.3 L565.7,257.5 L567.2,257.3 L568.8,256.9 L570.4,256.1 L572.0,255.1 L573.6,253.7 L575.1,252.2 L576.5,250.4 L577.7,248.5 L578.7,246.5 L579.6,244.4 L580.2,242.3 L580.5,240.3 L580.6,238.3 L580.5,236.5 L580.1,234.9 L579.4,233.6 L578.5,232.5 L577.5,231.6 L576.2,231.1 L574.8,230.9 L573.3,231.1 L571.7,231.5 L570.1,232.3 L568.5,233.3 L566.9,234.7 L565.4,236.2 L564.0,238.0 L562.8,239.9 L561.8,241.9 L560.9,244.0 L560.3,246.1 L560.0,248.1 L559.9,250.1 L560.0,251.9 L560.4,253.5 L561.1,254.8 L562.0,255.9 L563.0,256.8 Z" class="o" />
<path d="M565.1,253.3 L566.0,253.6 L567.0,253.8 L568.1,253.7 L569.2,253.3 L570.4,252.8 L571.5,252.0 L572.7,251.1 L573.7,249.9 L574.7,248.7 L575.6,247.3 L576.4,245.8 L577.0,244.3 L577.4,242.8 L577.7,241.4 L577.7,240.0 L577.6,238.7 L577.3,237.5 L576.9,236.5 L576.2,235.7 L575.4,235.1 L574.5,234.8 L573.5,234.6 L572.4,234.7 L571.3,235.1 L570.1,235.6 L569.0,236.4 L567.8,237.3 L566.8,238.5 L565.8,239.7 L564.9,241.1 L564.1,242.6 L563.5,244.1 L563.1,245.6 L562.8,247.0 L562.8,248.4 L562.9,249.7 L563.2,250.9 L563.6,251.9 L564.3,252.7 L565.1,253.3 Z" class="t" />
<path d="M568.1,248.0 L568.6,248.2 L569.1,248.2 L569.7,248.1 L570.3,247.8 L570.9,247.4 L571.5,246.8 L572.0,246.2 L572.5,245.5 L572.9,244.7 L573.1,243.9 L573.3,243.2 L573.4,242.4 L573.3,241.8 L573.1,241.2 L572.8,240.8 L572.4,240.4 L571.9,240.2 L571.4,240.2 L570.8,240.3 L570.2,240.6 L569.6,241.0 L569.0,241.6 L568.5,242.2 L568.0,242.9 L567.6,243.7 L567.4,244.5 L567.2,245.2 L567.1,246.0 L567.2,246.6 L567.4,247.2 L567.7,247.6 L568.1,248.0 Z" class="o" />
<path d="M563.9,255.3 L565.2,255.8 L566.5,255.9 L568.1,255.7 L569.6,255.1 L571.2,254.2 L572.8,253.0 L574.3,251.5 L575.6,249.8 L576.8,248.0 L577.8,246.0 L578.6,243.9 L579.1,241.9 L579.4,240.0 L579.3,238.1 L579.0,236.5 L578.4,235.1 L577.6,233.9 L576.6,233.1 L575.3,232.6 L574.0,232.5 L572.4,232.7 L570.9,233.3 L569.3,234.2 L567.7,235.4 L566.2,236.9 L564.9,238.6 L563.7,240.4 L562.7,242.4 L561.9,244.5 L561.4,246.5 L561.1,248.4 L561.2,250.3 L561.5,251.9 L562.1,253.3 L562.9,254.5 L563.9,255.3 Z" class="t" />
<path d="M241.4,440.7 L265.9,430.2 L266.2,430.0 L266.5,429.8 L266.7,429.5 L266.9,429.1 L267.0,428.7 L267.1,428.2 L267.2,427.7 L267.2,427.1 L267.1,426.5 L267.0,425.9 L266.9,425.3 L266.7,424.6 L266.5,424.0 L266.3,423.3 L266.0,422.7 L265.6,422.1 L265.3,421.5 L264.9,421.0 L264.5,420.5 L264.1,420.0 L263.7,419.6 L263.3,419.3 L262.9,419.0 L262.5,418.9 L262.1,418.7 L261.7,418.7 L261.4,418.7 L261.1,418.8 L236.6,429.3 L236.3,429.5 L236.0,429.7 L235.8,430.0 L235.6,430.4 L235.5,430.8 L235.4,431.3 L235.3,431.8 L235.3,432.4 L235.4,433.0 L235.5,433.6 L235.6,434.2 L235.8,434.9 L236.0,435.5 L236.2,436.2 L236.5,436.8 L236.9,437.4 L237.2,438.0 L237.6,438.5 L238.0,439.0 L238.4,439.5 L238.8,439.9 L239.2,440.2 L239.6,440.5 L240.0,440.6 L240.4,440.8 L240.8,440.8 L241.1,440.8 L241.4,440.7 Z" class="o" />
<path d="M222.5,430.0 L231.5,428.5 L234.5,431.0 L234.5,437.5 L231.0,439.5 L222.5,438.0 Z" class="o" />
<path d="M545.0,274.0 L549.0,272.0 L552.0,284.0 L548.0,286.0 Z" class="t" />
<path d="M139.2,279.5 C139.4,278.8 139.8,276.2 140.5,275.0 C141.2,273.8 139.3,272.8 143.5,272.5 C147.7,272.2 161.2,272.3 165.5,273.0 C169.8,273.7 168.2,276.7 169.5,276.5 C170.8,276.3 169.2,274.3 173.5,272.0 C177.8,269.7 190.6,263.7 195.0,262.5 C199.4,261.3 198.3,265.6 200.0,265.0 C201.7,264.4 201.2,262.2 205.0,259.0 C208.8,255.8 219.2,248.7 223.0,246.0 C226.8,243.3 226.3,243.3 228.0,243.0 C229.7,242.7 231.0,242.8 233.0,244.0 C235.0,245.2 238.3,248.9 240.0,250.0 C241.7,251.1 241.3,249.8 243.0,250.5 C244.7,251.2 248.2,252.5 250.0,254.0 C251.8,255.5 253.3,257.7 254.0,259.5 C254.7,261.3 254.7,262.9 254.0,265.0 C253.3,267.1 252.3,269.8 250.0,272.0 C247.7,274.2 245.8,274.8 240.0,278.0 C234.2,281.2 222.5,287.0 215.0,291.0 C207.5,295.0 199.7,299.7 195.0,302.0 C190.3,304.3 190.3,304.5 187.0,305.0 C183.7,305.5 179.8,305.9 175.0,305.2 C170.2,304.5 162.2,302.4 158.0,301.0 C153.8,299.6 151.8,298.5 150.0,297.0 C148.2,295.5 147.4,293.4 147.0,292.0 C146.6,290.6 148.0,289.3 147.5,288.5 C147.0,287.7 145.2,287.8 144.0,287.0 C142.8,286.2 140.8,284.8 140.0,283.5 C139.2,282.2 139.3,280.2 139.2,279.5" class="o"/>
<path d="M169.5,276.5 L182.0,288.0 L185.0,292.0 L191.0,287.0" class="n" />
<path d="M200.0,265.0 L220.0,277.5" class="n" />
<path d="M176.0,273.0 L189.0,286.0" class="t" />
<path d="M191.0,287.0 L215.0,277.0 L227.0,270.0 L247.0,255.0" class="t" />
<path d="M208.0,260.0 L227.0,269.0" class="t" />
<path d="M149.0,283.5 L168.0,283.5" class="n" />
<path d="M144.0,279.5 L147.0,277.0 L165.0,277.0 L169.0,280.0" class="t" />
<path d="M151.0,292.0 L154.0,289.0 L179.0,288.0" class="t" />
<path d="M220.0,258.0 L232.0,251.5 L239.0,255.0 L227.0,262.0 Z" class="n" />
<path d="M234.7,254.3 L235.0,255.0 L234.8,255.8 L234.4,256.7 L233.6,257.4 L232.6,258.0 L231.7,258.2 L230.8,258.1 L230.3,257.7 L230.0,257.0 L230.2,256.2 L230.6,255.3 L231.4,254.6 L232.4,254.0 L233.3,253.8 L234.2,253.9 L234.7,254.3 Z" class="n" />
<path d="M228.0,248.0 L240.0,250.0" class="t" />
<path d="M248.8,262.0 L249.3,262.6 L249.7,263.5 L249.7,264.6 L249.5,265.7 L249.1,266.9 L248.4,268.0 L247.5,268.9 L246.5,269.7 L245.5,270.2 L244.5,270.5 L243.5,270.4 L242.8,270.0 L242.2,269.4 L241.8,268.5 L241.8,267.4 L242.0,266.3 L242.4,265.1 L243.1,264.0 L244.0,263.1 L245.0,262.3 L246.0,261.8 L247.0,261.5 L248.0,261.6 L248.8,262.0 Z" class="n" />
<path d="M167.5,290.9 L168.1,291.4 L168.6,292.2 L168.8,293.2 L168.8,294.3 L168.6,295.5 L168.1,296.7 L167.4,297.8 L166.6,298.7 L165.7,299.4 L164.8,299.7 L163.9,299.8 L163.0,299.6 L162.4,299.1 L161.9,298.3 L161.7,297.3 L161.7,296.2 L161.9,295.0 L162.4,293.8 L163.1,292.7 L163.9,291.8 L164.8,291.1 L165.7,290.8 L166.6,290.7 L167.5,290.9 Z" class="n" />
<path d="M154.3,283.0 L154.4,282.5 L154.7,282.1 L155.2,281.7 L155.8,281.5 L156.5,281.4 L157.2,281.5 L157.8,281.7 L158.3,282.1 L158.6,282.5 L158.7,283.0" class="n" />
<path d="M298.8,265.0 L298.8,300.0" class="c"/>
<path d="M311.5,282.8 L311.5,279.6 L311.4,278.8 L311.2,278.0 L310.8,277.2 L310.3,276.5 L309.7,275.8 L308.9,275.1 L308.0,274.5 L307.0,274.0 L305.9,273.5 L304.7,273.1 L303.5,272.8 L302.2,272.6 L300.8,272.4 L299.5,272.4 L298.2,272.4 L296.8,272.6 L295.5,272.8 L294.3,273.1 L293.1,273.5 L292.0,274.0 L291.0,274.5 L290.1,275.1 L289.3,275.8 L288.7,276.5 L288.2,277.2 L287.8,278.0 L287.6,278.8 L287.5,279.6 L287.5,282.8 L287.6,283.6 L287.8,284.4 L288.2,285.2 L288.7,285.9 L289.3,286.6 L290.1,287.3 L291.0,287.9 L292.0,288.4 L293.1,288.9 L294.3,289.3 L295.5,289.6 L296.8,289.8 L298.2,290.0 L299.5,290.0 L300.8,290.0 L302.2,289.8 L303.5,289.6 L304.7,289.3 L305.9,288.9 L307.0,288.4 L308.0,287.9 L308.9,287.3 L309.7,286.6 L310.3,285.9 L310.8,285.2 L311.2,284.4 L311.4,283.6 L311.5,282.8 Z" class="o" />
<path d="M311.5,279.6 L311.4,278.5 L310.9,277.4 L310.2,276.3 L309.2,275.4 L308.0,274.5 L306.6,273.8 L304.9,273.2 L303.2,272.8 L301.4,272.5 L299.5,272.4 L297.6,272.5 L295.8,272.8 L294.1,273.2 L292.4,273.8 L291.0,274.5 L289.8,275.4 L288.8,276.3 L288.1,277.4 L287.6,278.5 L287.5,279.6 L287.6,280.7 L288.1,281.8 L288.8,282.9 L289.8,283.8 L291.0,284.7 L292.4,285.4 L294.1,286.0 L295.8,286.4 L297.6,286.7 L299.5,286.8 L301.4,286.7 L303.2,286.4 L304.9,286.0 L306.6,285.4 L308.0,284.7 L309.2,283.8 L310.2,282.9 L310.9,281.8 L311.4,280.7 L311.5,279.6 Z" class="o" />
<path d="M303.8,279.6 L303.7,279.1 L303.5,278.6 L303.1,278.2 L302.6,277.8 L301.9,277.4 L301.2,277.2 L300.3,277.1 L299.5,277.0 L298.7,277.1 L297.8,277.2 L297.1,277.4 L296.4,277.8 L295.9,278.2 L295.5,278.6 L295.3,279.1 L295.2,279.6 L295.3,280.1 L295.5,280.6 L295.9,281.0 L296.4,281.4 L297.1,281.8 L297.8,282.0 L298.7,282.1 L299.5,282.2 L300.3,282.1 L301.2,282.0 L301.9,281.8 L302.6,281.4 L303.1,281.0 L303.5,280.6 L303.7,280.1 L303.8,279.6 Z" class="o" />
<path d="M290,320.5 V330 Q290,335.5 296,335.5 H302 Q308,335.5 308,330 V320.5" class="o"/>
<path d="M286.5,311.5 L290.0,307.0 L307.5,307.0 L311.0,311.5 L311.0,316.0 L307.5,321.0 L290.0,321.0 L286.5,316.0 Z" class="o" />
<path d="M286.5,311.5 L290.0,315.5 L307.5,315.5 L311.0,311.5" class="t" />
<path d="M290.0,315.5 L290.0,321.0" class="t" />
<path d="M307.5,315.5 L307.5,321.0" class="t" />
<path d="M305.0,312.0 L304.7,312.8 L303.9,313.5 L302.5,314.1 L300.9,314.5 L299.0,314.6 L297.1,314.5 L295.5,314.1 L294.1,313.5 L293.3,312.8 L293.0,312.0 L293.3,311.2 L294.1,310.5 L295.5,309.9 L297.1,309.5 L299.0,309.4 L300.9,309.5 L302.5,309.9 L303.9,310.5 L304.7,311.2 L305.0,312.0 Z" class="t" />
<path d="M303.3,313.5 L303.3,297.5 L303.3,297.3 L303.2,297.1 L303.1,296.8 L302.9,296.6 L302.6,296.4 L302.4,296.3 L302.0,296.1 L301.7,295.9 L301.3,295.8 L300.9,295.7 L300.4,295.6 L300.0,295.6 L299.5,295.5 L299.0,295.5 L298.5,295.5 L298.0,295.6 L297.6,295.6 L297.1,295.7 L296.7,295.8 L296.3,295.9 L296.0,296.1 L295.6,296.3 L295.4,296.4 L295.1,296.6 L294.9,296.8 L294.8,297.1 L294.7,297.3 L294.7,297.5 L294.7,313.5 L294.7,313.7 L294.8,313.9 L294.9,314.2 L295.1,314.4 L295.4,314.6 L295.6,314.7 L296.0,314.9 L296.3,315.1 L296.7,315.2 L297.1,315.3 L297.6,315.4 L298.0,315.4 L298.5,315.5 L299.0,315.5 L299.5,315.5 L300.0,315.4 L300.4,315.4 L300.9,315.3 L301.3,315.2 L301.7,315.1 L302.0,314.9 L302.4,314.7 L302.6,314.6 L302.9,314.4 L303.1,314.2 L303.2,313.9 L303.3,313.7 L303.3,313.5 Z" class="o" />
<path d="M303.3,297.5 L303.2,297.2 L303.1,296.9 L302.8,296.6 L302.5,296.3 L302.0,296.1 L301.5,295.9 L301.0,295.7 L300.3,295.6 L299.7,295.5 L299.0,295.5 L298.3,295.5 L297.7,295.6 L297.0,295.7 L296.5,295.9 L296.0,296.1 L295.5,296.3 L295.2,296.6 L294.9,296.9 L294.8,297.2 L294.7,297.5 L294.8,297.8 L294.9,298.1 L295.2,298.4 L295.5,298.7 L296.0,298.9 L296.5,299.1 L297.0,299.3 L297.7,299.4 L298.3,299.5 L299.0,299.5 L299.7,299.5 L300.3,299.4 L301.0,299.3 L301.5,299.1 L302.0,298.9 L302.5,298.7 L302.8,298.4 L303.1,298.1 L303.2,297.8 L303.3,297.5 Z" class="o" />
<path d="M302.9,311.9 L302.6,311.2 L301.7,310.6 L300.5,310.2 L299.0,310.1 L297.5,310.2 L296.3,310.6 L295.4,311.2 L295.1,311.9" class="t"/>
<path d="M302.9,309.5 L302.6,308.8 L301.7,308.2 L300.5,307.8 L299.0,307.7 L297.5,307.8 L296.3,308.2 L295.4,308.8 L295.1,309.5" class="t"/>
<path d="M302.9,307.1 L302.6,306.4 L301.7,305.8 L300.5,305.4 L299.0,305.3 L297.5,305.4 L296.3,305.8 L295.4,306.4 L295.1,307.1" class="t"/>
<path d="M302.9,304.7 L302.6,304.0 L301.7,303.4 L300.5,303.0 L299.0,302.9 L297.5,303.0 L296.3,303.4 L295.4,304.0 L295.1,304.7" class="t"/>
<path d="M302.9,302.3 L302.6,301.6 L301.7,301.0 L300.5,300.6 L299.0,300.5 L297.5,300.6 L296.3,301.0 L295.4,301.6 L295.1,302.3" class="t"/>
<path d="M302.9,299.9 L302.6,299.2 L301.7,298.6 L300.5,298.2 L299.0,298.1 L297.5,298.2 L296.3,298.6 L295.4,299.2 L295.1,299.9" class="t"/>
<path d="M281,312.5 V335 M276.5,312.5 H287 M276.5,335 H287" stroke="#444" stroke-width="0.9" fill="none"/>
<path d="M533.8,311.0 L538.0,306.0 L596.0,309.0 L616.2,322.0 L616.2,328.8 L584.6,345.2 L533.8,316.4 Z" class="o" />
<path d="M533.8,311.0 L584.6,340.0 L616.2,323.0" class="t" />
<path d="M584.6,340.0 L584.6,345.2" class="t" />
<path d="M540.6,289.6 L569.5,272.4 L617.0,300.6 L617.0,305.0 L605.0,312.0 L600.0,324.0 L585.0,330.0 L560.0,318.0 L548.0,316.0 L542.0,302.0 Z" class="o" />
<path d="M540.6,289.6 L584.0,316.0 L617.0,300.6" class="n" />
<path d="M542.0,293.0 L550.0,316.0" class="t" />
<path d="M550.0,296.0 L556.0,314.0 L580.0,324.0" class="t" />
<path d="M582.5,332.0 L582.5,334.5 L582.5,334.9 L582.7,335.4 L582.8,335.8 L583.1,336.2 L583.4,336.6 L583.8,337.0 L584.3,337.3 L584.8,337.6 L585.3,337.9 L585.9,338.1 L586.5,338.3 L587.2,338.4 L587.8,338.5 L588.5,338.5 L589.2,338.5 L589.8,338.4 L590.5,338.3 L591.1,338.1 L591.7,337.9 L592.2,337.6 L592.7,337.3 L593.2,337.0 L593.6,336.6 L593.9,336.2 L594.2,335.8 L594.3,335.4 L594.5,334.9 L594.5,334.5 L594.5,332.0 L594.5,331.6 L594.3,331.1 L594.2,330.7 L593.9,330.3 L593.6,329.9 L593.2,329.5 L592.7,329.2 L592.2,328.9 L591.7,328.6 L591.1,328.4 L590.5,328.2 L589.8,328.1 L589.2,328.0 L588.5,328.0 L587.8,328.0 L587.2,328.1 L586.5,328.2 L585.9,328.4 L585.3,328.6 L584.8,328.9 L584.3,329.2 L583.8,329.5 L583.4,329.9 L583.1,330.3 L582.8,330.7 L582.7,331.1 L582.5,331.6 L582.5,332.0 Z" class="o" />
<path d="M582.5,334.5 L582.6,335.1 L582.8,335.7 L583.2,336.3 L583.6,336.9 L584.3,337.3 L585.0,337.7 L585.8,338.1 L586.6,338.3 L587.6,338.5 L588.5,338.5 L589.4,338.5 L590.4,338.3 L591.2,338.1 L592.0,337.7 L592.7,337.3 L593.4,336.9 L593.8,336.3 L594.2,335.7 L594.4,335.1 L594.5,334.5 L594.4,333.9 L594.2,333.3 L593.8,332.7 L593.4,332.1 L592.7,331.7 L592.0,331.3 L591.2,330.9 L590.4,330.7 L589.4,330.5 L588.5,330.5 L587.6,330.5 L586.6,330.7 L585.8,330.9 L585.0,331.3 L584.3,331.7 L583.6,332.1 L583.2,332.7 L582.8,333.3 L582.6,333.9 L582.5,334.5 Z" class="o" />
<path d="M585.5,334.5 L585.6,334.9 L585.7,335.3 L586.0,335.6 L586.4,335.9 L586.8,336.2 L587.4,336.3 L587.9,336.5 L588.5,336.5 L589.1,336.5 L589.6,336.3 L590.2,336.2 L590.6,335.9 L591.0,335.6 L591.3,335.3 L591.4,334.9 L591.5,334.5 L591.4,334.1 L591.3,333.7 L591.0,333.4 L590.6,333.1 L590.2,332.8 L589.6,332.7 L589.1,332.5 L588.5,332.5 L587.9,332.5 L587.4,332.7 L586.8,332.8 L586.4,333.1 L586.0,333.4 L585.7,333.7 L585.6,334.1 L585.5,334.5 Z" class="o" />
<path d="M598.0,322.2 L598.0,324.7 L598.0,325.1 L598.2,325.6 L598.3,326.0 L598.6,326.4 L598.9,326.8 L599.3,327.2 L599.8,327.5 L600.3,327.8 L600.8,328.1 L601.4,328.3 L602.0,328.5 L602.7,328.6 L603.3,328.7 L604.0,328.7 L604.7,328.7 L605.3,328.6 L606.0,328.5 L606.6,328.3 L607.2,328.1 L607.7,327.8 L608.2,327.5 L608.7,327.2 L609.1,326.8 L609.4,326.4 L609.7,326.0 L609.8,325.6 L610.0,325.1 L610.0,324.7 L610.0,322.2 L610.0,321.8 L609.8,321.3 L609.7,320.9 L609.4,320.5 L609.1,320.1 L608.7,319.7 L608.2,319.4 L607.7,319.1 L607.2,318.8 L606.6,318.6 L606.0,318.4 L605.3,318.3 L604.7,318.2 L604.0,318.2 L603.3,318.2 L602.7,318.3 L602.0,318.4 L601.4,318.6 L600.8,318.8 L600.3,319.1 L599.8,319.4 L599.3,319.7 L598.9,320.1 L598.6,320.5 L598.3,320.9 L598.2,321.3 L598.0,321.8 L598.0,322.2 Z" class="o" />
<path d="M598.0,324.7 L598.1,325.3 L598.3,325.9 L598.7,326.5 L599.1,327.1 L599.8,327.5 L600.5,327.9 L601.3,328.3 L602.1,328.5 L603.1,328.7 L604.0,328.7 L604.9,328.7 L605.9,328.5 L606.7,328.3 L607.5,327.9 L608.2,327.5 L608.9,327.1 L609.3,326.5 L609.7,325.9 L609.9,325.3 L610.0,324.7 L609.9,324.1 L609.7,323.5 L609.3,322.9 L608.9,322.3 L608.2,321.9 L607.5,321.5 L606.7,321.1 L605.9,320.9 L604.9,320.7 L604.0,320.7 L603.1,320.7 L602.1,320.9 L601.3,321.1 L600.5,321.5 L599.8,321.9 L599.1,322.3 L598.7,322.9 L598.3,323.5 L598.1,324.1 L598.0,324.7 Z" class="o" />
<path d="M601.0,324.7 L601.1,325.1 L601.2,325.5 L601.5,325.8 L601.9,326.1 L602.3,326.4 L602.9,326.5 L603.4,326.7 L604.0,326.7 L604.6,326.7 L605.1,326.5 L605.7,326.4 L606.1,326.1 L606.5,325.8 L606.8,325.5 L606.9,325.1 L607.0,324.7 L606.9,324.3 L606.8,323.9 L606.5,323.6 L606.1,323.3 L605.7,323.0 L605.1,322.9 L604.6,322.7 L604.0,322.7 L603.4,322.7 L602.9,322.9 L602.3,323.0 L601.9,323.3 L601.5,323.6 L601.2,323.9 L601.1,324.3 L601.0,324.7 Z" class="o" />
<path d="M580.0,316.0 C579.0,317.5 575.8,322.2 574.0,325.0 C572.2,327.8 570.5,330.1 569.5,333.0 C568.5,335.9 567.6,339.8 568.0,342.5 C568.4,345.2 569.9,347.1 572.0,349.0 C574.1,350.9 579.1,353.2 580.5,354.0" fill="none" stroke="#1e1e1e" stroke-width="3.2" stroke-linecap="round" stroke-linejoin="round"/>
<path d="M580.0,316.0 C579.0,317.5 575.8,322.2 574.0,325.0 C572.2,327.8 570.5,330.1 569.5,333.0 C568.5,335.9 567.6,339.8 568.0,342.5 C568.4,345.2 569.9,347.1 572.0,349.0 C574.1,350.9 579.1,353.2 580.5,354.0" fill="none" stroke="#fff" stroke-width="1.2" stroke-linecap="round" stroke-linejoin="round"/>
<path d="M570.0,306.0 C571.3,305.7 575.2,303.8 578.0,304.0 C580.8,304.2 585.8,305.7 586.5,307.0 C587.2,308.3 583.8,310.2 582.0,312.0 C580.2,313.8 578.0,317.3 576.0,318.0 C574.0,318.7 571.0,316.3 570.0,316.0" class="o"/>
<path d="M577.5,317.5 L576.5,318.2 L575.2,318.5 L573.8,318.3 L572.4,317.7 L571.2,316.8 L570.3,315.6 L569.7,314.2 L569.5,312.8 L569.8,311.5 L570.5,310.5 L571.5,309.8 L572.8,309.5 L574.2,309.7 L575.6,310.3 L576.8,311.2 L577.7,312.4 L578.3,313.8 L578.5,315.2 L578.2,316.5 L577.5,317.5 Z" class="o" />
<path d="M581.3,355.0 L581.3,357.5 L581.3,358.0 L581.5,358.4 L581.7,358.9 L582.0,359.3 L582.4,359.7 L582.8,360.1 L583.4,360.5 L583.9,360.8 L584.6,361.1 L585.3,361.3 L586.0,361.5 L586.7,361.6 L587.5,361.7 L588.3,361.7 L589.1,361.7 L589.9,361.6 L590.6,361.5 L591.3,361.3 L592.0,361.1 L592.7,360.8 L593.2,360.5 L593.8,360.1 L594.2,359.7 L594.6,359.3 L594.9,358.9 L595.1,358.4 L595.3,358.0 L595.3,357.5 L595.3,355.0 L595.3,354.5 L595.1,354.1 L594.9,353.6 L594.6,353.2 L594.2,352.8 L593.8,352.4 L593.2,352.0 L592.7,351.7 L592.0,351.4 L591.3,351.2 L590.6,351.0 L589.9,350.9 L589.1,350.8 L588.3,350.8 L587.5,350.8 L586.7,350.9 L586.0,351.0 L585.3,351.2 L584.6,351.4 L583.9,351.7 L583.4,352.0 L582.8,352.4 L582.4,352.8 L582.0,353.2 L581.7,353.6 L581.5,354.1 L581.3,354.5 L581.3,355.0 Z" class="o" />
<path d="M581.3,357.5 L581.4,358.2 L581.6,358.8 L582.1,359.4 L582.6,360.0 L583.4,360.5 L584.2,360.9 L585.1,361.2 L586.1,361.5 L587.2,361.6 L588.3,361.7 L589.4,361.6 L590.5,361.5 L591.5,361.2 L592.4,360.9 L593.2,360.5 L594.0,360.0 L594.5,359.4 L595.0,358.8 L595.2,358.2 L595.3,357.5 L595.2,356.8 L595.0,356.2 L594.5,355.6 L594.0,355.0 L593.2,354.5 L592.4,354.1 L591.5,353.8 L590.5,353.5 L589.4,353.4 L588.3,353.3 L587.2,353.4 L586.1,353.5 L585.1,353.8 L584.2,354.1 L583.4,354.5 L582.6,355.0 L582.1,355.6 L581.6,356.2 L581.4,356.8 L581.3,357.5 Z" class="o" />
<path d="M585.5,357.5 L585.6,357.8 L585.7,358.1 L586.0,358.4 L586.3,358.7 L586.7,358.9 L587.2,359.1 L587.8,359.1 L588.3,359.2 L588.8,359.1 L589.4,359.1 L589.9,358.9 L590.3,358.7 L590.6,358.4 L590.9,358.1 L591.0,357.8 L591.1,357.5 L591.0,357.2 L590.9,356.9 L590.6,356.6 L590.3,356.3 L589.9,356.1 L589.4,355.9 L588.8,355.9 L588.3,355.8 L587.8,355.9 L587.2,355.9 L586.7,356.1 L586.3,356.3 L586.0,356.6 L585.7,356.9 L585.6,357.2 L585.5,357.5 Z" class="o" />
<path d="M590.0,360.0 L590.0,376.0" class="c"/>
<path d="M585.4,377.0 L585.4,388.0 L585.4,388.2 L585.5,388.4 L585.6,388.6 L585.8,388.8 L586.0,389.0 L586.2,389.1 L586.5,389.3 L586.8,389.4 L587.1,389.5 L587.4,389.6 L587.8,389.7 L588.2,389.8 L588.6,389.8 L589.0,389.8 L589.4,389.8 L589.8,389.8 L590.2,389.7 L590.6,389.6 L590.9,389.5 L591.2,389.4 L591.5,389.3 L591.8,389.1 L592.0,389.0 L592.2,388.8 L592.4,388.6 L592.5,388.4 L592.6,388.2 L592.6,388.0 L592.6,377.0 L592.6,376.8 L592.5,376.6 L592.4,376.4 L592.2,376.2 L592.0,376.0 L591.8,375.9 L591.5,375.7 L591.2,375.6 L590.9,375.5 L590.6,375.4 L590.2,375.3 L589.8,375.2 L589.4,375.2 L589.0,375.2 L588.6,375.2 L588.2,375.2 L587.8,375.3 L587.4,375.4 L587.1,375.5 L586.8,375.6 L586.5,375.7 L586.2,375.9 L586.0,376.0 L585.8,376.2 L585.6,376.4 L585.5,376.6 L585.4,376.8 L585.4,377.0 Z" class="o" />
<path d="M592.2,387.4 L592.0,386.8 L591.3,386.3 L590.2,386.0 L589.0,385.8 L587.8,386.0 L586.7,386.3 L586.0,386.8 L585.8,387.4" class="t"/>
<path d="M592.2,385.2 L592.0,384.6 L591.3,384.1 L590.2,383.8 L589.0,383.6 L587.8,383.8 L586.7,384.1 L586.0,384.6 L585.8,385.2" class="t"/>
<path d="M592.2,383.1 L592.0,382.4 L591.3,381.9 L590.2,381.6 L589.0,381.4 L587.8,381.6 L586.7,381.9 L586.0,382.4 L585.8,383.1" class="t"/>
<path d="M592.2,380.9 L592.0,380.2 L591.3,379.7 L590.2,379.4 L589.0,379.2 L587.8,379.4 L586.7,379.7 L586.0,380.2 L585.8,380.9" class="t"/>
<path d="M592.2,378.6 L592.0,378.0 L591.3,377.5 L590.2,377.2 L589.0,377.0 L587.8,377.2 L586.7,377.5 L586.0,378.0 L585.8,378.6" class="t"/>
<path d="M582.0,389.0 L584.5,386.0 L594.0,386.0 L596.0,389.0 L596.0,396.0 L593.0,399.0 L585.0,399.0 L582.0,396.0 Z" class="o" />
<path d="M582.0,389.0 L585.0,392.0 L593.0,392.0 L596.0,389.0" class="t" />
<path d="M606.0,378.6 L631.4,393.0 L632.1,393.3 L632.8,393.5 L633.5,393.5 L634.3,393.5 L635.1,393.3 L636.0,393.0 L636.8,392.6 L637.6,392.1 L638.5,391.5 L639.2,390.8 L640.0,390.0 L640.7,389.1 L641.4,388.2 L642.0,387.2 L642.5,386.2 L643.0,385.1 L643.3,384.1 L643.6,383.0 L643.8,382.0 L643.9,381.0 L643.9,380.0 L643.9,379.1 L643.7,378.2 L643.4,377.4 L643.1,376.7 L642.6,376.1 L642.1,375.6 L641.6,375.2 L616.2,360.8 L615.5,360.5 L614.8,360.3 L614.1,360.3 L613.3,360.3 L612.5,360.5 L611.6,360.8 L610.8,361.2 L610.0,361.7 L609.1,362.3 L608.4,363.0 L607.6,363.8 L606.9,364.7 L606.2,365.6 L605.6,366.6 L605.1,367.6 L604.6,368.7 L604.3,369.7 L604.0,370.8 L603.8,371.8 L603.7,372.8 L603.7,373.8 L603.7,374.7 L603.9,375.6 L604.2,376.4 L604.5,377.1 L605.0,377.7 L605.5,378.2 L606.0,378.6 Z" class="o" />
<path d="M631.4,393.0 L632.4,393.4 L633.4,393.5 L634.5,393.5 L635.6,393.1 L636.8,392.6 L638.0,391.9 L639.1,390.9 L640.2,389.8 L641.1,388.6 L642.0,387.2 L642.7,385.8 L643.3,384.3 L643.7,382.8 L643.9,381.4 L643.9,380.0 L643.8,378.7 L643.5,377.6 L643.0,376.6 L642.4,375.8 L641.6,375.2 L640.6,374.8 L639.6,374.7 L638.5,374.7 L637.4,375.1 L636.2,375.6 L635.0,376.3 L633.9,377.3 L632.8,378.4 L631.9,379.6 L631.0,381.0 L630.3,382.4 L629.7,383.9 L629.3,385.4 L629.1,386.8 L629.1,388.2 L629.2,389.5 L629.5,390.6 L630.0,391.6 L630.6,392.4 L631.4,393.0 Z" class="o" />
<path d="M634.4,387.8 L634.9,388.0 L635.4,388.1 L636.0,387.9 L636.6,387.7 L637.2,387.3 L637.8,386.7 L638.3,386.1 L638.8,385.4 L639.2,384.6 L639.4,383.9 L639.6,383.1 L639.6,382.4 L639.5,381.7 L639.3,381.1 L639.0,380.7 L638.6,380.4 L638.1,380.2 L637.6,380.1 L637.0,380.3 L636.4,380.5 L635.8,380.9 L635.2,381.5 L634.7,382.1 L634.2,382.8 L633.8,383.6 L633.6,384.3 L633.4,385.1 L633.4,385.8 L633.5,386.5 L633.7,387.1 L634.0,387.5 L634.4,387.8 Z" class="o" />
<path d="M440.6,374.5 L438.6,371.5 L438.1,370.8 L437.5,370.2 L436.8,369.7 L436.1,369.2 L435.3,368.8 L434.4,368.6 L433.6,368.4 L432.6,368.3 L431.7,368.4 L430.8,368.5 L429.9,368.7 L429.0,369.0 L428.1,369.4 L427.3,369.9 L426.5,370.5 L425.8,371.1 L425.2,371.8 L424.6,372.6 L424.2,373.4 L423.8,374.2 L423.5,375.1 L423.3,376.0 L423.3,376.9 L423.3,377.7 L423.4,378.6 L423.6,379.4 L424.0,380.2 L424.4,380.9 L426.4,383.9 L426.9,384.6 L427.5,385.2 L428.2,385.7 L428.9,386.2 L429.7,386.6 L430.6,386.8 L431.4,387.0 L432.4,387.1 L433.3,387.0 L434.2,386.9 L435.1,386.7 L436.0,386.4 L436.9,386.0 L437.7,385.5 L438.5,384.9 L439.2,384.3 L439.8,383.6 L440.4,382.8 L440.8,382.0 L441.2,381.2 L441.5,380.3 L441.7,379.4 L441.7,378.5 L441.7,377.7 L441.6,376.8 L441.4,376.0 L441.0,375.2 L440.6,374.5 Z" class="o" />
<path d="M438.1,371.8 L431.4,368.9 L424.8,373.3 L424.9,380.6 L431.6,383.5 L438.2,379.1 Z" class="t" />
<path d="M435.4,371.7 L434.5,370.7 L433.4,370.0 L432.0,369.7 L430.6,369.7 L429.1,370.0 L427.8,370.7 L426.7,371.6 L425.8,372.8 L425.3,374.2 L425.1,375.5 L425.3,376.9 L425.9,378.1 L426.8,379.1 L427.9,379.8 L429.3,380.1 L430.7,380.1 L432.1,379.8 L433.4,379.1 L434.6,378.2 L435.4,377.0 L436.0,375.6 L436.2,374.3 L436.0,372.9 L435.4,371.7 Z" class="t" />
<path d="M434.3,372.5 L433.6,371.7 L432.7,371.2 L431.7,370.9 L430.6,370.9 L429.5,371.1 L428.5,371.7 L427.6,372.4 L426.9,373.3 L426.5,374.3 L426.4,375.4 L426.5,376.4 L427.0,377.3 L427.7,378.1 L428.5,378.6 L429.6,378.9 L430.7,378.9 L431.8,378.7 L432.8,378.1 L433.7,377.4 L434.3,376.5 L434.8,375.5 L434.9,374.4 L434.7,373.4 L434.3,372.5 Z" class="n" />
<path d="M443.8,394.5 L441.8,391.5 L441.3,390.8 L440.7,390.2 L440.0,389.7 L439.3,389.2 L438.5,388.8 L437.6,388.6 L436.8,388.4 L435.8,388.3 L434.9,388.4 L434.0,388.5 L433.1,388.7 L432.2,389.0 L431.3,389.4 L430.5,389.9 L429.7,390.5 L429.0,391.1 L428.4,391.8 L427.8,392.6 L427.4,393.4 L427.0,394.2 L426.7,395.1 L426.5,396.0 L426.5,396.9 L426.5,397.7 L426.6,398.6 L426.8,399.4 L427.2,400.2 L427.6,400.9 L429.6,403.9 L430.1,404.6 L430.7,405.2 L431.4,405.7 L432.1,406.2 L432.9,406.6 L433.8,406.8 L434.6,407.0 L435.6,407.1 L436.5,407.0 L437.4,406.9 L438.3,406.7 L439.2,406.4 L440.1,406.0 L440.9,405.5 L441.7,404.9 L442.4,404.3 L443.0,403.6 L443.6,402.8 L444.0,402.0 L444.4,401.2 L444.7,400.3 L444.9,399.4 L444.9,398.5 L444.9,397.7 L444.8,396.8 L444.6,396.0 L444.2,395.2 L443.8,394.5 Z" class="o" />
<path d="M441.3,391.8 L434.6,388.9 L428.0,393.3 L428.1,400.6 L434.8,403.5 L441.4,399.1 Z" class="t" />
<path d="M438.6,391.7 L437.7,390.7 L436.6,390.0 L435.2,389.7 L433.8,389.7 L432.3,390.0 L431.0,390.7 L429.9,391.6 L429.0,392.8 L428.5,394.2 L428.3,395.5 L428.5,396.9 L429.1,398.1 L430.0,399.1 L431.1,399.8 L432.5,400.1 L433.9,400.1 L435.3,399.8 L436.6,399.1 L437.8,398.2 L438.6,397.0 L439.2,395.6 L439.4,394.3 L439.2,392.9 L438.6,391.7 Z" class="t" />
<path d="M437.5,392.5 L436.8,391.7 L435.9,391.2 L434.9,390.9 L433.8,390.9 L432.7,391.1 L431.7,391.7 L430.8,392.4 L430.1,393.3 L429.7,394.3 L429.6,395.4 L429.7,396.4 L430.2,397.3 L430.9,398.1 L431.7,398.6 L432.8,398.9 L433.9,398.9 L435.0,398.7 L436.0,398.1 L436.9,397.4 L437.5,396.5 L438.0,395.5 L438.1,394.4 L437.9,393.4 L437.5,392.5 Z" class="n" />
<path d="M366.9,414.3 L364.9,411.3 L364.3,410.6 L363.7,410.0 L363.1,409.5 L362.3,409.0 L361.5,408.6 L360.7,408.4 L359.8,408.2 L358.9,408.1 L358.0,408.2 L357.1,408.3 L356.1,408.5 L355.2,408.8 L354.4,409.2 L353.6,409.7 L352.8,410.3 L352.1,410.9 L351.4,411.6 L350.9,412.4 L350.4,413.2 L350.0,414.0 L349.8,414.9 L349.6,415.8 L349.5,416.7 L349.5,417.5 L349.7,418.4 L349.9,419.2 L350.2,420.0 L350.6,420.7 L352.6,423.7 L353.2,424.4 L353.8,425.0 L354.4,425.5 L355.2,426.0 L356.0,426.4 L356.8,426.6 L357.7,426.8 L358.6,426.9 L359.5,426.8 L360.4,426.7 L361.4,426.5 L362.3,426.2 L363.1,425.8 L363.9,425.3 L364.7,424.7 L365.4,424.1 L366.1,423.4 L366.6,422.6 L367.1,421.8 L367.5,421.0 L367.7,420.1 L367.9,419.2 L368.0,418.3 L368.0,417.5 L367.8,416.6 L367.6,415.8 L367.3,415.0 L366.9,414.3 Z" class="o" />
<path d="M364.3,411.6 L357.7,408.7 L351.1,413.1 L351.2,420.4 L357.8,423.3 L364.4,418.9 Z" class="t" />
<path d="M361.6,411.5 L360.8,410.5 L359.6,409.8 L358.3,409.5 L356.8,409.5 L355.4,409.8 L354.1,410.5 L352.9,411.4 L352.1,412.6 L351.5,414.0 L351.4,415.3 L351.6,416.7 L352.1,417.9 L353.0,418.9 L354.2,419.6 L355.5,419.9 L356.9,419.9 L358.4,419.6 L359.7,418.9 L360.8,418.0 L361.7,416.8 L362.2,415.4 L362.4,414.1 L362.2,412.7 L361.6,411.5 Z" class="t" />
<path d="M360.5,412.3 L359.9,411.5 L359.0,411.0 L357.9,410.7 L356.8,410.7 L355.7,410.9 L354.7,411.5 L353.8,412.2 L353.2,413.1 L352.8,414.1 L352.6,415.2 L352.8,416.2 L353.2,417.1 L353.9,417.9 L354.8,418.4 L355.8,418.7 L356.9,418.7 L358.0,418.5 L359.0,417.9 L359.9,417.2 L360.6,416.3 L361.0,415.3 L361.1,414.2 L361.0,413.2 L360.5,412.3 Z" class="n" />
<path d="M386.4,425.3 L384.4,422.3 L383.8,421.6 L383.2,421.0 L382.6,420.5 L381.8,420.0 L381.0,419.6 L380.2,419.4 L379.3,419.2 L378.4,419.1 L377.5,419.2 L376.6,419.3 L375.6,419.5 L374.7,419.8 L373.9,420.2 L373.1,420.7 L372.3,421.3 L371.6,421.9 L370.9,422.6 L370.4,423.4 L369.9,424.2 L369.5,425.0 L369.3,425.9 L369.1,426.8 L369.0,427.7 L369.0,428.5 L369.2,429.4 L369.4,430.2 L369.7,431.0 L370.1,431.7 L372.1,434.7 L372.7,435.4 L373.3,436.0 L373.9,436.5 L374.7,437.0 L375.5,437.4 L376.3,437.6 L377.2,437.8 L378.1,437.9 L379.0,437.8 L379.9,437.7 L380.9,437.5 L381.8,437.2 L382.6,436.8 L383.4,436.3 L384.2,435.7 L384.9,435.1 L385.6,434.4 L386.1,433.6 L386.6,432.8 L387.0,432.0 L387.2,431.1 L387.4,430.2 L387.5,429.3 L387.5,428.5 L387.3,427.6 L387.1,426.8 L386.8,426.0 L386.4,425.3 Z" class="o" />
<path d="M383.8,422.6 L377.2,419.7 L370.6,424.1 L370.7,431.4 L377.3,434.3 L383.9,429.9 Z" class="t" />
<path d="M381.1,422.5 L380.3,421.5 L379.1,420.8 L377.8,420.5 L376.3,420.5 L374.9,420.8 L373.6,421.5 L372.4,422.4 L371.6,423.6 L371.0,425.0 L370.9,426.3 L371.1,427.7 L371.6,428.9 L372.5,429.9 L373.7,430.6 L375.0,430.9 L376.4,430.9 L377.9,430.6 L379.2,429.9 L380.3,429.0 L381.2,427.8 L381.7,426.4 L381.9,425.1 L381.7,423.7 L381.1,422.5 Z" class="t" />
<path d="M380.0,423.3 L379.4,422.5 L378.5,422.0 L377.4,421.7 L376.3,421.7 L375.2,421.9 L374.2,422.5 L373.3,423.2 L372.7,424.1 L372.3,425.1 L372.1,426.2 L372.3,427.2 L372.7,428.1 L373.4,428.9 L374.3,429.4 L375.3,429.7 L376.4,429.7 L377.5,429.5 L378.5,428.9 L379.4,428.2 L380.1,427.3 L380.5,426.3 L380.6,425.2 L380.5,424.2 L380.0,423.3 Z" class="n" />
<path d="M259,452.8 L292.2,435.2 Q295.5,433.8 298.5,435.5 L324.5,450.8 Q328.9,453.8 328.9,458.5 L328.9,462 Q328.6,465.8 325,467.8 L297.5,483.4 Q293.5,485.3 289.5,483.4 L262.3,469.8 Q257.6,467 257.6,462 L257.6,457 Q257.8,454.2 259,452.8 Z" class="o"/>
<path d="M259.6,452.6 L297,473.4 L328.5,456" class="n"/>
<path d="M297,473.4 Q299.8,478 297.5,483.4" class="n"/>
<path d="M261,455.3 L294.3,472.8 Q297,474.6 296.3,477.8 L295,480.6 Q293.6,482.4 291,481.3 L262,465.5 Q259.8,464 259.9,461 L260,457 Q260.2,455.2 261,455.3 Z" class="n"/>
<path d="M262.5,458.6 L293,475.2" class="t"/>
<path d="M261.5,461.5 L292,478.5" class="t"/>
<path d="M155,483.4 L277.5,553.5" stroke="#8a8a8a" stroke-width="1" stroke-dasharray="14,4,3,4" fill="none"/>
<path d="M270.0,550.0 L283.0,556.0" class="c"/>
<path d="M166.3,500.1 L168.3,501.3 L169.0,501.7 L169.7,501.9 L170.5,502.1 L171.3,502.1 L172.2,502.1 L173.0,501.9 L173.9,501.6 L174.7,501.2 L175.5,500.8 L176.3,500.2 L177.0,499.5 L177.7,498.8 L178.3,498.0 L178.9,497.2 L179.4,496.3 L179.8,495.4 L180.1,494.4 L180.3,493.5 L180.4,492.5 L180.5,491.6 L180.4,490.7 L180.3,489.8 L180.0,489.0 L179.7,488.2 L179.3,487.5 L178.8,486.9 L178.2,486.3 L177.5,485.9 L175.5,484.7 L174.8,484.3 L174.1,484.1 L173.3,483.9 L172.5,483.9 L171.6,483.9 L170.8,484.1 L169.9,484.4 L169.1,484.8 L168.3,485.2 L167.5,485.8 L166.8,486.5 L166.1,487.2 L165.5,488.0 L164.9,488.8 L164.4,489.7 L164.0,490.6 L163.7,491.6 L163.5,492.5 L163.4,493.5 L163.3,494.4 L163.4,495.3 L163.5,496.2 L163.8,497.0 L164.1,497.8 L164.5,498.5 L165.0,499.1 L165.6,499.7 L166.3,500.1 Z" class="o" />
<path d="M168.6,500.8 L175.6,500.1 L179.9,492.9 L177.2,486.4 L170.2,487.1 L165.9,494.3 Z" class="t" />
<path d="M171.5,498.7 L172.5,499.1 L173.6,499.1 L174.7,498.8 L175.7,498.3 L176.7,497.4 L177.5,496.4 L178.1,495.2 L178.4,493.9 L178.4,492.7 L178.1,491.6 L177.5,490.7 L176.7,490.0 L175.8,489.6 L174.7,489.6 L173.6,489.8 L172.5,490.4 L171.6,491.3 L170.8,492.3 L170.2,493.5 L169.9,494.8 L169.9,496.0 L170.2,497.1 L170.7,498.0 L171.5,498.7 Z" class="t" />
<path d="M172.1,497.7 L172.9,498.0 L173.7,498.0 L174.5,497.8 L175.4,497.4 L176.1,496.7 L176.7,495.9 L177.2,495.0 L177.4,494.0 L177.4,493.1 L177.2,492.2 L176.7,491.5 L176.1,491.0 L175.4,490.7 L174.6,490.7 L173.7,490.9 L172.9,491.3 L172.2,492.0 L171.5,492.8 L171.1,493.7 L170.9,494.7 L170.9,495.6 L171.1,496.5 L171.5,497.2 L172.1,497.7 Z" class="n" />
<path d="M243.2,544.0 L266.4,557.7 L267.1,558.0 L267.8,558.2 L268.5,558.3 L269.3,558.4 L270.1,558.3 L270.9,558.1 L271.7,557.8 L272.5,557.3 L273.2,556.9 L274.0,556.3 L274.7,555.6 L275.4,554.9 L276.0,554.1 L276.5,553.3 L277.0,552.4 L277.4,551.5 L277.7,550.5 L277.9,549.6 L278.1,548.7 L278.1,547.7 L278.1,546.9 L278.0,546.0 L277.8,545.2 L277.5,544.5 L277.1,543.8 L276.7,543.2 L276.1,542.7 L275.6,542.3 L252.4,528.6 L251.7,528.3 L251.0,528.1 L250.3,528.0 L249.5,527.9 L248.7,528.0 L247.9,528.2 L247.1,528.5 L246.3,529.0 L245.6,529.4 L244.8,530.0 L244.1,530.7 L243.4,531.4 L242.8,532.2 L242.3,533.0 L241.8,533.9 L241.4,534.8 L241.1,535.8 L240.9,536.7 L240.7,537.6 L240.7,538.6 L240.7,539.4 L240.8,540.3 L241.0,541.1 L241.3,541.8 L241.7,542.5 L242.1,543.1 L242.7,543.6 L243.2,544.0 Z" class="o" />
<path d="M266.4,557.7 L267.4,558.1 L268.4,558.3 L269.4,558.3 L270.6,558.1 L271.7,557.8 L272.8,557.2 L273.8,556.4 L274.8,555.5 L275.7,554.4 L276.5,553.3 L277.2,552.0 L277.6,550.7 L278.0,549.4 L278.1,548.1 L278.1,546.9 L277.9,545.7 L277.6,544.6 L277.0,543.7 L276.4,542.9 L275.6,542.3 L274.6,541.9 L273.6,541.7 L272.6,541.7 L271.4,541.9 L270.3,542.2 L269.2,542.8 L268.2,543.6 L267.2,544.5 L266.3,545.6 L265.5,546.7 L264.8,548.0 L264.4,549.3 L264.0,550.6 L263.9,551.9 L263.9,553.1 L264.1,554.3 L264.4,555.4 L265.0,556.3 L265.6,557.1 L266.4,557.7 Z" class="o" />
<path d="M267.6,555.8 L268.3,556.1 L269.0,556.3 L269.8,556.3 L270.7,556.1 L271.5,555.8 L272.3,555.4 L273.1,554.8 L273.9,554.1 L274.5,553.3 L275.1,552.4 L275.6,551.5 L276.0,550.5 L276.2,549.6 L276.4,548.6 L276.3,547.6 L276.2,546.8 L275.9,546.0 L275.5,545.3 L275.0,544.7 L274.4,544.2 L273.7,543.9 L273.0,543.7 L272.2,543.7 L271.3,543.9 L270.5,544.2 L269.7,544.6 L268.9,545.2 L268.1,545.9 L267.5,546.7 L266.9,547.6 L266.4,548.5 L266.0,549.5 L265.8,550.4 L265.6,551.4 L265.7,552.4 L265.8,553.2 L266.1,554.0 L266.5,554.7 L267.0,555.3 L267.6,555.8 Z" class="t" />
<path d="M269.4,552.8 L269.8,552.9 L270.2,553.0 L270.7,553.0 L271.2,552.8 L271.7,552.5 L272.2,552.1 L272.6,551.7 L273.0,551.2 L273.3,550.6 L273.5,550.0 L273.6,549.4 L273.6,548.9 L273.5,548.3 L273.3,547.9 L273.0,547.5 L272.6,547.2 L272.2,547.1 L271.8,547.0 L271.3,547.0 L270.8,547.2 L270.3,547.5 L269.8,547.9 L269.4,548.3 L269.0,548.8 L268.7,549.4 L268.5,550.0 L268.4,550.6 L268.4,551.1 L268.5,551.7 L268.7,552.1 L269.0,552.5 L269.4,552.8 Z" class="o" />
<path d="M282.8,561.0 L329.3,587.5 L329.5,587.6 L329.8,587.6 L330.0,587.6 L330.3,587.6 L330.6,587.6 L330.9,587.5 L331.2,587.4 L331.4,587.2 L331.7,587.0 L332.0,586.8 L332.2,586.5 L332.5,586.2 L332.7,585.9 L332.9,585.6 L333.1,585.3 L333.2,584.9 L333.4,584.6 L333.5,584.2 L333.5,583.9 L333.5,583.5 L333.5,583.2 L333.5,582.9 L333.4,582.6 L333.3,582.3 L333.2,582.1 L333.1,581.9 L332.9,581.7 L332.7,581.5 L286.2,555.0 L286.0,554.9 L285.7,554.9 L285.5,554.9 L285.2,554.9 L284.9,554.9 L284.6,555.0 L284.3,555.1 L284.1,555.3 L283.8,555.5 L283.5,555.7 L283.3,556.0 L283.0,556.3 L282.8,556.6 L282.6,556.9 L282.4,557.2 L282.3,557.6 L282.1,557.9 L282.0,558.3 L282.0,558.6 L282.0,559.0 L282.0,559.3 L282.0,559.6 L282.1,559.9 L282.2,560.2 L282.3,560.4 L282.4,560.6 L282.6,560.8 L282.8,561.0 Z" class="o" />
<path d="M329.3,587.5 L329.6,587.6 L330.0,587.6 L330.4,587.6 L330.8,587.5 L331.2,587.4 L331.6,587.1 L331.9,586.8 L332.3,586.4 L332.6,586.0 L332.9,585.6 L333.2,585.1 L333.3,584.6 L333.5,584.1 L333.5,583.6 L333.5,583.2 L333.5,582.8 L333.4,582.4 L333.2,582.0 L333.0,581.8 L332.7,581.5 L332.4,581.4 L332.0,581.4 L331.6,581.4 L331.2,581.5 L330.8,581.6 L330.4,581.9 L330.1,582.2 L329.7,582.6 L329.4,583.0 L329.1,583.4 L328.8,583.9 L328.7,584.4 L328.5,584.9 L328.5,585.4 L328.5,585.8 L328.5,586.2 L328.6,586.6 L328.8,587.0 L329.0,587.2 L329.3,587.5 Z" class="o" />
<path d="M285.8,562.2 L286.5,562.4 L287.4,562.2 L288.3,561.5 L289.0,560.6 L289.5,559.5 L289.6,558.4 L289.3,557.5 L288.8,556.9" class="t"/>
<path d="M289.5,564.4 L290.3,564.5 L291.2,564.3 L292.0,563.6 L292.7,562.7 L293.2,561.6 L293.3,560.5 L293.1,559.6 L292.5,559.1" class="t"/>
<path d="M293.2,566.5 L294.0,566.7 L294.9,566.4 L295.7,565.8 L296.5,564.8 L296.9,563.7 L297.0,562.6 L296.8,561.7 L296.2,561.2" class="t"/>
<path d="M296.9,568.6 L297.7,568.8 L298.6,568.5 L299.5,567.9 L300.2,566.9 L300.6,565.8 L300.7,564.8 L300.5,563.9 L300.0,563.3" class="t"/>
<path d="M327.0,592.8 L329.5,594.4 L330.3,594.9 L331.1,595.2 L332.0,595.4 L332.9,595.6 L333.8,595.6 L334.7,595.5 L335.6,595.3 L336.5,595.1 L337.4,594.7 L338.2,594.2 L338.9,593.6 L339.7,593.0 L340.3,592.3 L340.9,591.5 L341.3,590.6 L341.7,589.8 L342.0,588.8 L342.2,587.9 L342.3,587.0 L342.3,586.0 L342.2,585.1 L342.0,584.2 L341.7,583.4 L341.3,582.5 L340.8,581.8 L340.2,581.1 L339.6,580.5 L338.9,580.0 L336.3,578.3 L335.6,577.9 L334.7,577.6 L333.9,577.3 L333.0,577.2 L332.1,577.2 L331.2,577.3 L330.3,577.4 L329.4,577.7 L328.5,578.1 L327.7,578.6 L326.9,579.2 L326.2,579.8 L325.6,580.5 L325.0,581.3 L324.5,582.1 L324.2,583.0 L323.9,583.9 L323.7,584.9 L323.6,585.8 L323.6,586.7 L323.7,587.7 L323.9,588.6 L324.2,589.4 L324.6,590.2 L325.1,591.0 L325.7,591.7 L326.3,592.3 L327.0,592.8 Z" class="o" />
<path d="M329.5,594.4 L330.6,595.0 L331.8,595.4 L333.1,595.6 L334.3,595.6 L335.6,595.3 L336.9,594.9 L338.0,594.3 L339.1,593.5 L340.0,592.6 L340.9,591.5 L341.5,590.3 L342.0,589.0 L342.2,587.7 L342.3,586.4 L342.2,585.1 L341.9,583.9 L341.4,582.7 L340.7,581.6 L339.8,580.7 L338.9,580.0 L337.8,579.4 L336.6,579.0 L335.3,578.8 L334.1,578.8 L332.8,579.1 L331.5,579.5 L330.4,580.1 L329.3,580.9 L328.4,581.8 L327.5,582.9 L326.9,584.1 L326.4,585.4 L326.2,586.7 L326.1,588.0 L326.2,589.3 L326.5,590.5 L327.0,591.7 L327.7,592.8 L328.6,593.7 L329.5,594.4 Z" class="o" />
<path d="M330.5,593.0 L332.0,593.7 L333.6,593.9 L335.3,593.7 L337.0,593.1 L338.4,592.0 L339.5,590.6 L340.3,589.0 L340.7,587.3 L340.6,585.5 L340.1,583.9 L339.2,582.5 L337.9,581.4 L336.4,580.7 L334.8,580.5 L333.1,580.7 L331.4,581.3 L330.0,582.4 L328.9,583.8 L328.1,585.4 L327.7,587.1 L327.8,588.9 L328.3,590.5 L329.2,591.9 L330.5,593.0 Z" class="t" />
<path d="M333.5,594.1 L339.6,590.8 L340.3,584.0 L334.9,580.3 L328.8,583.6 L328.1,590.4 Z" class="t" />
<path d="M416.0,548.8 L452.0,570.0" class="c"/>
<path d="M515.0,553.0 L528.0,560.0" class="c"/>
<path d="M540.0,631.0 L548.0,637.0" class="c"/>
<path d="M453.4,571.8 L502.3,543.0 L512.3,544.5 L515.2,551.7 L512.6,556.6 L537.9,611.0 L542.0,612.2 L540.2,617.5 L536.5,626.0 L533.1,631.8 L526.0,637.7 L521.3,638.6 L492.8,628.2 L482.0,634.1 L480.9,641.3 L473.8,646.0 L463.0,642.4 L461.9,634.1 L465.4,628.2 L469.6,612.8 L456.0,580.7 L452.8,578.0 Z" class="o" />
<path d="M466.6,581.0 L508.3,558.0 L537.9,611.0" class="t" />
<path d="M505.8,570.0 L501.0,593.8 L492.8,596.1 L473.8,609.8" class="t" />
<path d="M501.0,593.8 L527.2,609.2 L538.0,611.0" class="t" />
<path d="M465.4,584.2 L473.8,610.4 L481.0,621.0" class="t" />
<path d="M469.0,583.0 L484.4,605.6 L521.0,622.0" class="t" />
<path d="M474.0,612.0 L484.0,605.0" class="t" />
<path d="M476.0,615.5 L486.0,608.5" class="t" />
<path d="M510.0,623.5 L512.5,635.5" class="t" />
<path d="M514.5,625.0 L517.0,636.5" class="t" />
<path d="M520.0,612.0 L524.0,626.0" class="t" />
<path d="M479.7,620.0 L526.0,637.7" class="n" />
<path d="M467.8,580.7 L522.4,622.2 L521.2,624.6 L470.0,591.0 Z" class="o" />
<path d="M501.9,552.7 L507.6,556.7 L508.1,556.9 L508.6,557.2 L509.1,557.3 L509.7,557.4 L510.3,557.4 L510.9,557.3 L511.5,557.2 L512.1,557.0 L512.7,556.7 L513.3,556.3 L513.9,555.9 L514.4,555.4 L514.9,554.9 L515.3,554.4 L515.7,553.8 L516.0,553.2 L516.3,552.5 L516.5,551.9 L516.6,551.2 L516.7,550.5 L516.7,549.9 L516.6,549.3 L516.4,548.7 L516.2,548.1 L516.0,547.6 L515.6,547.1 L515.3,546.7 L514.8,546.3 L509.1,542.3 L508.6,542.1 L508.1,541.8 L507.6,541.7 L507.0,541.6 L506.4,541.6 L505.8,541.7 L505.2,541.8 L504.6,542.0 L504.0,542.3 L503.4,542.7 L502.8,543.1 L502.3,543.6 L501.8,544.1 L501.4,544.6 L501.0,545.2 L500.7,545.8 L500.4,546.5 L500.2,547.1 L500.1,547.8 L500.0,548.5 L500.0,549.1 L500.1,549.7 L500.3,550.3 L500.5,550.9 L500.7,551.4 L501.1,551.9 L501.4,552.3 L501.9,552.7 Z" class="o" />
<path d="M507.6,556.7 L508.3,557.0 L509.0,557.3 L509.8,557.4 L510.7,557.4 L511.5,557.2 L512.4,556.9 L513.2,556.4 L514.0,555.8 L514.7,555.1 L515.3,554.4 L515.8,553.5 L516.2,552.6 L516.5,551.7 L516.6,550.8 L516.7,549.9 L516.5,549.0 L516.3,548.2 L515.9,547.5 L515.4,546.9 L514.8,546.3 L514.1,546.0 L513.4,545.7 L512.6,545.6 L511.7,545.6 L510.9,545.8 L510.0,546.1 L509.2,546.6 L508.4,547.2 L507.7,547.9 L507.1,548.6 L506.6,549.5 L506.2,550.4 L505.9,551.3 L505.8,552.2 L505.7,553.1 L505.9,554.0 L506.1,554.8 L506.5,555.5 L507.0,556.1 L507.6,556.7 Z" class="o" />
<path d="M509.6,553.8 L510.0,554.0 L510.4,554.1 L510.9,554.1 L511.4,554.1 L511.8,553.9 L512.3,553.6 L512.7,553.2 L513.0,552.8 L513.3,552.3 L513.5,551.8 L513.6,551.3 L513.7,550.8 L513.6,550.3 L513.4,549.9 L513.2,549.5 L512.8,549.2 L512.4,549.0 L512.0,548.9 L511.5,548.9 L511.0,548.9 L510.6,549.1 L510.1,549.4 L509.7,549.8 L509.4,550.2 L509.1,550.7 L508.9,551.2 L508.8,551.7 L508.7,552.2 L508.8,552.7 L509.0,553.1 L509.2,553.5 L509.6,553.8 Z" class="o" />
<path d="M465.0,571.0 L504.0,548.5 L505.5,551.5 L466.5,574.0 Z" class="o" />
<path d="M455.0,580.1 L460.9,583.8 L461.4,584.1 L461.9,584.2 L462.5,584.4 L463.1,584.4 L463.7,584.3 L464.3,584.2 L464.9,584.0 L465.5,583.8 L466.1,583.4 L466.7,583.0 L467.2,582.6 L467.7,582.0 L468.2,581.5 L468.6,580.9 L469.0,580.2 L469.3,579.5 L469.6,578.9 L469.7,578.2 L469.9,577.5 L469.9,576.8 L469.9,576.1 L469.8,575.5 L469.6,574.9 L469.4,574.3 L469.1,573.8 L468.8,573.3 L468.4,572.9 L467.9,572.6 L462.0,568.9 L461.5,568.6 L461.0,568.5 L460.4,568.3 L459.8,568.3 L459.2,568.4 L458.6,568.5 L458.0,568.7 L457.4,568.9 L456.8,569.3 L456.2,569.7 L455.7,570.1 L455.2,570.7 L454.7,571.2 L454.3,571.8 L453.9,572.5 L453.6,573.2 L453.3,573.8 L453.2,574.5 L453.0,575.2 L453.0,575.9 L453.0,576.6 L453.1,577.2 L453.3,577.8 L453.5,578.4 L453.8,578.9 L454.1,579.4 L454.5,579.8 L455.0,580.1 Z" class="o" />
<path d="M460.9,583.8 L461.6,584.1 L462.4,584.3 L463.2,584.4 L464.1,584.3 L464.9,584.0 L465.8,583.6 L466.6,583.1 L467.3,582.5 L468.0,581.7 L468.6,580.9 L469.1,579.9 L469.5,579.0 L469.8,578.0 L469.9,577.1 L469.9,576.1 L469.7,575.2 L469.4,574.4 L469.0,573.7 L468.5,573.1 L467.9,572.6 L467.2,572.3 L466.4,572.1 L465.6,572.0 L464.7,572.1 L463.9,572.4 L463.0,572.8 L462.2,573.3 L461.5,573.9 L460.8,574.7 L460.2,575.5 L459.7,576.5 L459.3,577.4 L459.0,578.4 L458.9,579.3 L458.9,580.3 L459.1,581.2 L459.4,582.0 L459.8,582.7 L460.3,583.3 L460.9,583.8 Z" class="o" />
<path d="M462.8,580.7 L463.2,580.9 L463.7,581.0 L464.1,581.0 L464.6,580.8 L465.1,580.6 L465.6,580.3 L466.0,579.9 L466.3,579.4 L466.6,578.9 L466.8,578.3 L466.9,577.8 L466.9,577.3 L466.8,576.8 L466.6,576.3 L466.3,576.0 L466.0,575.7 L465.6,575.5 L465.1,575.4 L464.7,575.4 L464.2,575.6 L463.7,575.8 L463.2,576.1 L462.8,576.5 L462.5,577.0 L462.2,577.5 L462.0,578.1 L461.9,578.6 L461.9,579.1 L462.0,579.6 L462.2,580.1 L462.5,580.4 L462.8,580.7 Z" class="o" />
<path d="M480.2,640.8 L479.3,641.9 L478.0,642.7 L476.6,643.2 L474.9,643.3 L473.3,643.0 L471.8,642.3 L470.4,641.3 L469.3,640.0 L468.6,638.6 L468.2,637.1 L468.3,635.6 L468.8,634.2 L469.7,633.1 L471.0,632.3 L472.4,631.8 L474.1,631.7 L475.7,632.0 L477.2,632.7 L478.6,633.7 L479.7,635.0 L480.4,636.4 L480.8,637.9 L480.7,639.4 L480.2,640.8 Z" class="o" />
<path d="M480.0,641.5 L479.5,642.1 L478.7,642.5 L477.9,642.7 L477.0,642.6 L476.1,642.3 L475.4,641.7 L474.8,640.9 L474.5,640.1 L474.5,639.3 L474.8,638.5 L475.3,637.9 L476.1,637.5 L476.9,637.3 L477.8,637.4 L478.7,637.7 L479.4,638.3 L480.0,639.1 L480.3,639.9 L480.3,640.7 L480.0,641.5 Z" class="n" />
<path d="M533.3,633.5 L532.5,634.5 L531.4,635.3 L530.1,635.7 L528.7,635.8 L527.3,635.6 L526.0,635.1 L524.8,634.2 L523.9,633.1 L523.3,631.8 L523.1,630.5 L523.2,629.2 L523.7,628.0 L524.5,626.9 L525.6,626.1 L526.9,625.7 L528.3,625.6 L529.7,625.8 L531.0,626.4 L532.2,627.2 L533.1,628.3 L533.7,629.6 L533.9,630.9 L533.8,632.2 L533.3,633.5 Z" class="o" />
<path d="M530.8,632.0 L530.3,632.6 L529.6,633.0 L528.9,633.2 L528.1,633.1 L527.3,632.8 L526.7,632.3 L526.2,631.6 L526.0,630.9 L526.0,630.1 L526.2,629.4 L526.7,628.8 L527.4,628.4 L528.1,628.2 L528.9,628.3 L529.7,628.6 L530.3,629.1 L530.8,629.8 L531.0,630.5 L531.0,631.3 L530.8,632.0 Z" class="n" />
<path d="M386.0,542.9 L387.2,543.4 L388.4,543.6 L389.7,543.5 L391.0,543.3 L392.2,542.8 L393.3,542.1 L394.3,541.3 L395.2,540.2 L395.9,539.0 L396.4,537.8 L396.7,536.5 L396.7,535.1 L396.6,533.8 L396.2,532.5 L395.6,531.4 L394.8,530.4 L393.9,529.5 L392.8,528.9 L391.6,528.4 L390.4,528.2 L389.1,528.3 L387.8,528.5 L386.6,529.0 L385.5,529.7 L384.5,530.5 L383.6,531.6 L382.9,532.8 L382.4,534.0 L382.1,535.3 L382.1,536.7 L382.2,538.0 L382.6,539.3 L383.2,540.4 L384.0,541.4 L384.9,542.3 L386.0,542.9 Z" class="o" />
<path d="M382.8,539.4 L385.8,538.2" class="t" />
<path d="M383.1,532.8 L386.2,534.3" class="t" />
<path d="M388.1,528.6 L389.0,531.6" class="t" />
<path d="M394.9,538.6 L395.3,537.7 L395.6,536.9 L395.7,536.0 L395.8,535.2 L395.7,534.4 L395.5,533.6 L395.3,533.0 L394.9,532.4 L394.5,531.9 L393.9,531.6 L393.3,531.4 L392.7,531.3 L392.0,531.4 L391.4,531.6 L390.7,531.9 L390.0,532.4 L389.4,532.9 L388.8,533.6 L388.3,534.3 L387.8,535.1" class="t" />
<path d="M390.4,540.7 L414.3,552.3 L414.6,552.4 L414.8,552.4 L415.1,552.4 L415.4,552.4 L415.7,552.3 L416.0,552.2 L416.3,552.0 L416.6,551.8 L416.9,551.5 L417.2,551.2 L417.5,550.9 L417.7,550.6 L418.0,550.2 L418.2,549.8 L418.3,549.5 L418.5,549.1 L418.6,548.6 L418.7,548.2 L418.7,547.8 L418.7,547.5 L418.7,547.1 L418.7,546.7 L418.6,546.4 L418.5,546.1 L418.3,545.9 L418.1,545.7 L417.9,545.5 L417.7,545.3 L393.8,533.7 L393.5,533.6 L393.3,533.6 L393.0,533.6 L392.7,533.6 L392.4,533.7 L392.1,533.8 L391.8,534.0 L391.5,534.2 L391.2,534.5 L390.9,534.8 L390.6,535.1 L390.4,535.4 L390.1,535.8 L389.9,536.2 L389.8,536.6 L389.6,537.0 L389.5,537.4 L389.4,537.8 L389.4,538.2 L389.4,538.6 L389.4,538.9 L389.4,539.3 L389.5,539.6 L389.6,539.9 L389.8,540.1 L390.0,540.4 L390.2,540.5 L390.4,540.7 Z" class="o" />
<path d="M414.3,552.3 L414.7,552.4 L415.1,552.4 L415.5,552.4 L415.9,552.2 L416.3,552.0 L416.8,551.7 L417.2,551.3 L417.5,550.9 L417.9,550.4 L418.2,549.8 L418.4,549.3 L418.6,548.7 L418.7,548.2 L418.7,547.6 L418.7,547.1 L418.6,546.6 L418.5,546.2 L418.3,545.8 L418.0,545.5 L417.7,545.3 L417.3,545.2 L416.9,545.2 L416.5,545.2 L416.1,545.4 L415.7,545.6 L415.2,545.9 L414.8,546.3 L414.5,546.7 L414.1,547.2 L413.8,547.8 L413.6,548.3 L413.4,548.9 L413.3,549.4 L413.3,550.0 L413.3,550.5 L413.4,551.0 L413.5,551.4 L413.7,551.8 L414.0,552.1 L414.3,552.3 Z" class="o" />
<path d="M404.9,547.3 L405.8,547.4 L406.7,547.0 L407.7,546.2 L408.4,545.1 L408.8,543.8 L408.9,542.6 L408.6,541.6 L408.0,541.0" class="t"/>
<path d="M407.0,548.3 L407.9,548.4 L408.8,548.0 L409.7,547.2 L410.5,546.1 L410.9,544.9 L411.0,543.6 L410.7,542.7 L410.0,542.1" class="t"/>
<path d="M409.1,549.3 L410.0,549.4 L410.9,549.1 L411.8,548.3 L412.6,547.1 L413.0,545.9 L413.1,544.7 L412.8,543.7 L412.1,543.1" class="t"/>
<path d="M411.2,550.3 L412.1,550.4 L413.0,550.1 L413.9,549.3 L414.7,548.1 L415.1,546.9 L415.2,545.7 L414.9,544.7 L414.2,544.1" class="t"/>
<path d="M413.3,551.3 L414.2,551.5 L415.1,551.1 L416.0,550.3 L416.7,549.2 L417.2,547.9 L417.2,546.7 L416.9,545.7 L416.3,545.1" class="t"/>
<path d="M422.4,562.8 L424.4,563.8 L424.8,564.0 L425.4,564.1 L425.9,564.1 L426.5,564.0 L427.0,563.9 L427.6,563.7 L428.2,563.4 L428.8,563.0 L429.3,562.6 L429.8,562.1 L430.3,561.5 L430.8,560.9 L431.2,560.2 L431.6,559.6 L431.9,558.8 L432.2,558.1 L432.4,557.4 L432.6,556.6 L432.6,555.9 L432.7,555.2 L432.6,554.5 L432.5,553.9 L432.3,553.3 L432.1,552.8 L431.8,552.3 L431.5,551.9 L431.1,551.5 L430.6,551.2 L428.6,550.2 L428.2,550.0 L427.6,549.9 L427.1,549.9 L426.5,550.0 L426.0,550.1 L425.4,550.3 L424.8,550.6 L424.2,551.0 L423.7,551.4 L423.2,551.9 L422.7,552.5 L422.2,553.1 L421.8,553.8 L421.4,554.4 L421.1,555.2 L420.8,555.9 L420.6,556.6 L420.4,557.4 L420.4,558.1 L420.3,558.8 L420.4,559.5 L420.5,560.1 L420.7,560.7 L420.9,561.2 L421.2,561.7 L421.5,562.1 L421.9,562.5 L422.4,562.8 Z" class="o" />
<path d="M424.4,563.8 L425.1,564.0 L425.8,564.1 L426.6,564.0 L427.4,563.8 L428.2,563.4 L429.0,562.8 L429.7,562.2 L430.4,561.4 L431.1,560.5 L431.6,559.6 L432.1,558.6 L432.4,557.5 L432.6,556.5 L432.7,555.5 L432.6,554.5 L432.5,553.6 L432.2,552.9 L431.7,552.2 L431.2,551.6 L430.6,551.2 L429.9,551.0 L429.2,550.9 L428.4,551.0 L427.6,551.2 L426.8,551.6 L426.0,552.2 L425.3,552.8 L424.6,553.6 L423.9,554.5 L423.4,555.4 L422.9,556.4 L422.6,557.5 L422.4,558.5 L422.3,559.5 L422.4,560.5 L422.5,561.4 L422.8,562.1 L423.3,562.8 L423.8,563.4 L424.4,563.8 Z" class="o" />
<path d="M426.1,560.3 L426.5,560.4 L426.9,560.5 L427.4,560.4 L427.8,560.1 L428.3,559.8 L428.7,559.4 L429.0,559.0 L429.4,558.4 L429.6,557.9 L429.7,557.3 L429.8,556.7 L429.8,556.2 L429.7,555.7 L429.5,555.3 L429.2,554.9 L428.9,554.7 L428.5,554.6 L428.1,554.5 L427.6,554.6 L427.2,554.9 L426.7,555.2 L426.3,555.6 L426.0,556.0 L425.6,556.6 L425.4,557.1 L425.3,557.7 L425.2,558.3 L425.2,558.8 L425.3,559.3 L425.5,559.7 L425.8,560.1 L426.1,560.3 Z" class="o" />
<path d="M525.6,568.4 L527.4,569.5 L528.0,569.8 L528.6,570.1 L529.3,570.2 L530.0,570.2 L530.7,570.2 L531.4,570.0 L532.2,569.8 L532.9,569.5 L533.6,569.1 L534.3,568.6 L534.9,568.0 L535.5,567.4 L536.0,566.8 L536.5,566.0 L537.0,565.3 L537.3,564.5 L537.6,563.7 L537.8,562.9 L537.9,562.0 L537.9,561.2 L537.9,560.4 L537.8,559.7 L537.6,559.0 L537.3,558.3 L536.9,557.7 L536.5,557.1 L536.0,556.7 L535.4,556.3 L533.6,555.2 L533.0,554.9 L532.4,554.6 L531.7,554.5 L531.0,554.5 L530.3,554.5 L529.6,554.7 L528.8,554.9 L528.1,555.2 L527.4,555.6 L526.7,556.1 L526.1,556.7 L525.5,557.3 L525.0,557.9 L524.5,558.7 L524.0,559.4 L523.7,560.2 L523.4,561.0 L523.2,561.8 L523.1,562.7 L523.1,563.5 L523.1,564.3 L523.2,565.0 L523.4,565.7 L523.7,566.4 L524.1,567.0 L524.5,567.6 L525.0,568.0 L525.6,568.4 Z" class="o" />
<path d="M527.6,569.0 L533.6,568.5 L537.4,562.3 L535.2,556.8 L529.2,557.3 L525.4,563.5 Z" class="t" />
<path d="M530.2,567.3 L531.0,567.6 L531.9,567.7 L532.9,567.4 L533.8,566.9 L534.7,566.2 L535.3,565.3 L535.8,564.3 L536.1,563.2 L536.1,562.2 L535.9,561.2 L535.4,560.4 L534.7,559.8 L533.9,559.5 L533.0,559.4 L532.0,559.7 L531.1,560.2 L530.3,560.9 L529.6,561.8 L529.1,562.8 L528.8,563.9 L528.8,564.9 L529.0,565.9 L529.5,566.7 L530.2,567.3 Z" class="t" />
<path d="M530.7,566.4 L531.3,566.7 L532.1,566.7 L532.8,566.5 L533.5,566.2 L534.2,565.6 L534.7,564.9 L535.1,564.1 L535.3,563.3 L535.3,562.5 L535.1,561.7 L534.7,561.1 L534.2,560.7 L533.6,560.4 L532.9,560.4 L532.1,560.6 L531.4,560.9 L530.8,561.5 L530.2,562.2 L529.9,563.0 L529.7,563.8 L529.6,564.6 L529.8,565.4 L530.2,566.0 L530.7,566.4 Z" class="n" />
<path d="M543.5,642.7 L569.1,657.3 L569.4,657.4 L569.6,657.5 L569.9,657.5 L570.2,657.5 L570.5,657.4 L570.8,657.3 L571.1,657.2 L571.5,657.0 L571.8,656.8 L572.1,656.5 L572.3,656.2 L572.6,655.9 L572.9,655.6 L573.1,655.2 L573.3,654.8 L573.5,654.4 L573.6,654.0 L573.7,653.6 L573.8,653.3 L573.8,652.9 L573.8,652.5 L573.8,652.2 L573.7,651.8 L573.6,651.5 L573.5,651.3 L573.3,651.0 L573.1,650.9 L572.9,650.7 L547.3,636.1 L547.0,636.0 L546.8,635.9 L546.5,635.9 L546.2,635.9 L545.9,636.0 L545.6,636.1 L545.3,636.2 L544.9,636.4 L544.6,636.6 L544.3,636.9 L544.1,637.2 L543.8,637.5 L543.5,637.8 L543.3,638.2 L543.1,638.6 L542.9,639.0 L542.8,639.4 L542.7,639.8 L542.6,640.1 L542.6,640.5 L542.6,640.9 L542.6,641.2 L542.7,641.6 L542.8,641.9 L542.9,642.1 L543.1,642.4 L543.3,642.5 L543.5,642.7 Z" class="o" />
<path d="M545.0,643.1 L545.8,643.3 L546.8,643.0 L547.8,642.3 L548.6,641.2 L549.1,640.0 L549.2,638.8 L549.0,637.8 L548.4,637.2" class="t"/>
<path d="M547.2,644.4 L548.1,644.6 L549.0,644.3 L550.0,643.5 L550.8,642.5 L551.3,641.3 L551.4,640.1 L551.2,639.1 L550.6,638.4" class="t"/>
<path d="M549.5,645.7 L550.3,645.8 L551.3,645.5 L552.2,644.8 L553.0,643.8 L553.5,642.5 L553.7,641.3 L553.4,640.3 L552.9,639.7" class="t"/>
<path d="M551.7,646.9 L552.6,647.1 L553.5,646.8 L554.5,646.1 L555.3,645.0 L555.8,643.8 L555.9,642.6 L555.7,641.6 L555.1,641.0" class="t"/>
<path d="M553.9,648.2 L554.8,648.4 L555.8,648.1 L556.7,647.4 L557.5,646.3 L558.0,645.1 L558.2,643.9 L557.9,642.9 L557.3,642.3" class="t"/>
<path d="M570.0,661.8 L572.5,663.4 L573.1,663.8 L573.8,664.1 L574.5,664.2 L575.3,664.4 L576.0,664.4 L576.8,664.3 L577.5,664.2 L578.3,663.9 L579.0,663.6 L579.7,663.2 L580.4,662.7 L581.0,662.2 L581.5,661.6 L582.0,660.9 L582.4,660.2 L582.7,659.5 L583.0,658.7 L583.2,657.9 L583.3,657.1 L583.3,656.3 L583.2,655.5 L583.1,654.8 L582.8,654.1 L582.5,653.4 L582.1,652.7 L581.6,652.2 L581.1,651.6 L580.5,651.2 L578.0,649.6 L577.4,649.2 L576.7,648.9 L576.0,648.7 L575.2,648.6 L574.5,648.6 L573.7,648.6 L572.9,648.8 L572.2,649.0 L571.5,649.4 L570.8,649.8 L570.1,650.2 L569.5,650.8 L569.0,651.4 L568.5,652.0 L568.1,652.8 L567.7,653.5 L567.5,654.3 L567.3,655.0 L567.2,655.8 L567.2,656.6 L567.3,657.4 L567.4,658.2 L567.7,658.9 L568.0,659.6 L568.4,660.2 L568.9,660.8 L569.4,661.3 L570.0,661.8 Z" class="o" />
<path d="M572.5,663.4 L573.4,663.9 L574.4,664.2 L575.4,664.4 L576.5,664.4 L577.5,664.2 L578.6,663.8 L579.6,663.3 L580.5,662.6 L581.3,661.8 L582.0,660.9 L582.6,659.9 L583.0,658.8 L583.2,657.7 L583.3,656.6 L583.2,655.5 L583.0,654.5 L582.6,653.5 L582.0,652.6 L581.3,651.8 L580.5,651.2 L579.6,650.7 L578.6,650.4 L577.6,650.2 L576.5,650.2 L575.5,650.4 L574.4,650.8 L573.4,651.3 L572.5,652.0 L571.7,652.8 L571.0,653.7 L570.4,654.7 L570.0,655.8 L569.8,656.9 L569.7,658.0 L569.8,659.1 L570.0,660.1 L570.4,661.1 L571.0,662.0 L571.7,662.8 L572.5,663.4 Z" class="o" />
<path d="M573.3,662.2 L574.5,662.8 L575.9,663.0 L577.3,662.8 L578.7,662.2 L579.9,661.4 L580.9,660.2 L581.6,658.8 L581.9,657.4 L581.9,655.9 L581.5,654.5 L580.7,653.3 L579.7,652.4 L578.5,651.8 L577.1,651.6 L575.7,651.8 L574.3,652.4 L573.1,653.2 L572.1,654.4 L571.4,655.8 L571.1,657.2 L571.1,658.7 L571.5,660.1 L572.3,661.3 L573.3,662.2 Z" class="t" />
<path d="M575.8,663.1 L580.9,660.4 L581.6,654.6 L577.2,651.5 L572.1,654.2 L571.4,660.0 Z" class="t" />
<path d="M176.0,636.0 L215.0,660.0" class="c"/>
<path d="M270.0,633.0 L283.0,640.0" class="c"/>
<path d="M202.0,654.8 L255.0,623.0 L269.5,627.4 L270.9,633.2 L307.5,688.4 L312.0,691.6 L310.6,702.5 L302.8,711.9 L295.0,718.1 L263.8,716.6 L262.2,712.6 L250.0,714.0 L223.0,719.7 L206.0,716.0 L203.6,710.0 L207.0,707.0 L216.0,707.0 L219.0,701.0 L217.7,691.6 L216.0,666.0 L204.8,663.4 Z" class="o" />
<path d="M218.4,655.6 L262.2,635.3 L307.5,688.4" class="t" />
<path d="M262.2,635.3 L257.5,674.4 L240.0,680.0 L222.0,690.0" class="t" />
<path d="M257.5,674.4 L300.0,688.0 L307.0,690.0" class="t" />
<path d="M216.9,661.9 L288.8,705.6 L289.5,708.8 L284.0,707.5 L221.0,669.0 Z" class="o" />
<path d="M223.0,719.7 L222.0,703.0" class="n" />
<path d="M262.0,712.6 L268.0,700.0" class="t" />
<path d="M240.0,697.0 L252.0,701.0" class="t" />
<path d="M240.0,699.5 L252.0,703.5" class="t" />
<path d="M255.8,632.9 L260.8,636.5 L261.3,636.8 L261.8,637.0 L262.4,637.2 L262.9,637.3 L263.5,637.3 L264.2,637.2 L264.8,637.1 L265.4,636.9 L266.0,636.6 L266.6,636.3 L267.1,635.8 L267.6,635.4 L268.1,634.9 L268.6,634.3 L268.9,633.7 L269.3,633.1 L269.5,632.5 L269.8,631.8 L269.9,631.2 L270.0,630.5 L270.0,629.9 L269.9,629.2 L269.8,628.6 L269.6,628.1 L269.3,627.5 L269.0,627.1 L268.6,626.6 L268.2,626.3 L263.2,622.7 L262.7,622.4 L262.2,622.2 L261.6,622.0 L261.1,621.9 L260.5,621.9 L259.8,622.0 L259.2,622.1 L258.6,622.3 L258.0,622.6 L257.4,622.9 L256.9,623.4 L256.4,623.8 L255.9,624.3 L255.4,624.9 L255.1,625.5 L254.7,626.1 L254.5,626.7 L254.2,627.4 L254.1,628.0 L254.0,628.7 L254.0,629.3 L254.1,630.0 L254.2,630.6 L254.4,631.1 L254.7,631.7 L255.0,632.1 L255.4,632.6 L255.8,632.9 Z" class="o" />
<path d="M260.8,636.5 L261.5,636.9 L262.3,637.2 L263.1,637.3 L263.9,637.3 L264.8,637.1 L265.6,636.8 L266.4,636.3 L267.2,635.8 L267.9,635.1 L268.6,634.3 L269.1,633.5 L269.5,632.6 L269.8,631.7 L269.9,630.8 L270.0,629.9 L269.9,629.0 L269.6,628.2 L269.3,627.4 L268.8,626.8 L268.2,626.3 L267.5,625.9 L266.7,625.6 L265.9,625.5 L265.1,625.5 L264.2,625.7 L263.4,626.0 L262.6,626.5 L261.8,627.0 L261.1,627.7 L260.4,628.5 L259.9,629.3 L259.5,630.2 L259.2,631.1 L259.1,632.0 L259.0,632.9 L259.1,633.8 L259.4,634.6 L259.7,635.4 L260.2,636.0 L260.8,636.5 Z" class="o" />
<path d="M262.8,633.7 L263.2,633.9 L263.7,634.0 L264.1,634.0 L264.6,634.0 L265.1,633.8 L265.6,633.5 L266.0,633.1 L266.3,632.7 L266.6,632.2 L266.8,631.7 L266.9,631.2 L267.0,630.7 L266.9,630.2 L266.7,629.8 L266.5,629.4 L266.2,629.1 L265.8,628.9 L265.3,628.8 L264.9,628.8 L264.4,628.8 L263.9,629.0 L263.4,629.3 L263.0,629.7 L262.7,630.1 L262.4,630.6 L262.2,631.1 L262.1,631.6 L262.0,632.1 L262.1,632.6 L262.3,633.0 L262.5,633.4 L262.8,633.7 Z" class="o" />
<path d="M215.0,655.5 L259.0,628.5 L260.5,631.5 L216.5,658.5 Z" class="o" />
<path d="M205.0,662.5 L210.3,665.8 L210.8,666.1 L211.4,666.3 L211.9,666.4 L212.5,666.5 L213.2,666.4 L213.8,666.3 L214.4,666.1 L215.0,665.9 L215.6,665.6 L216.2,665.2 L216.8,664.7 L217.3,664.2 L217.7,663.7 L218.2,663.1 L218.5,662.4 L218.8,661.8 L219.0,661.1 L219.2,660.4 L219.3,659.7 L219.3,659.0 L219.3,658.4 L219.2,657.7 L219.0,657.1 L218.8,656.5 L218.5,656.0 L218.1,655.6 L217.7,655.1 L217.2,654.8 L212.0,651.5 L211.4,651.2 L210.9,651.0 L210.3,650.9 L209.7,650.8 L209.1,650.9 L208.5,651.0 L207.8,651.2 L207.2,651.4 L206.6,651.7 L206.0,652.1 L205.5,652.6 L205.0,653.1 L204.5,653.6 L204.1,654.2 L203.7,654.9 L203.4,655.5 L203.2,656.2 L203.0,656.9 L202.9,657.6 L202.9,658.3 L202.9,658.9 L203.1,659.6 L203.2,660.2 L203.5,660.8 L203.8,661.3 L204.1,661.7 L204.6,662.2 L205.0,662.5 Z" class="o" />
<path d="M210.3,665.8 L211.0,666.2 L211.8,666.4 L212.7,666.5 L213.5,666.4 L214.4,666.1 L215.3,665.8 L216.1,665.3 L216.9,664.6 L217.6,663.9 L218.2,663.1 L218.6,662.2 L219.0,661.2 L219.2,660.3 L219.3,659.3 L219.3,658.4 L219.1,657.5 L218.8,656.7 L218.4,655.9 L217.9,655.3 L217.2,654.8 L216.5,654.4 L215.7,654.2 L214.8,654.1 L214.0,654.2 L213.1,654.5 L212.2,654.8 L211.4,655.3 L210.6,656.0 L209.9,656.7 L209.3,657.5 L208.9,658.4 L208.5,659.4 L208.3,660.3 L208.2,661.3 L208.2,662.2 L208.4,663.1 L208.7,663.9 L209.1,664.7 L209.6,665.3 L210.3,665.8 Z" class="o" />
<path d="M212.2,662.8 L212.6,663.0 L213.1,663.1 L213.6,663.1 L214.1,662.9 L214.5,662.7 L215.0,662.4 L215.4,662.0 L215.7,661.5 L216.0,661.0 L216.2,660.5 L216.3,660.0 L216.3,659.4 L216.1,658.9 L215.9,658.5 L215.7,658.1 L215.3,657.8 L214.9,657.6 L214.4,657.5 L213.9,657.5 L213.4,657.7 L213.0,657.9 L212.5,658.2 L212.1,658.6 L211.8,659.1 L211.5,659.6 L211.3,660.1 L211.2,660.6 L211.2,661.2 L211.4,661.7 L211.6,662.1 L211.8,662.5 L212.2,662.8 Z" class="o" />
<path d="M221.3,699.4 L225.9,701.9 L226.4,702.1 L226.9,702.3 L227.4,702.4 L227.9,702.4 L228.5,702.3 L229.0,702.2 L229.6,702.0 L230.1,701.8 L230.6,701.5 L231.1,701.1 L231.5,700.7 L231.9,700.2 L232.3,699.7 L232.6,699.2 L232.9,698.6 L233.1,698.0 L233.3,697.4 L233.4,696.8 L233.4,696.2 L233.4,695.6 L233.3,695.1 L233.2,694.5 L233.0,694.0 L232.8,693.5 L232.5,693.1 L232.1,692.7 L231.7,692.4 L231.3,692.1 L226.7,689.6 L226.2,689.4 L225.7,689.2 L225.2,689.1 L224.7,689.1 L224.1,689.2 L223.6,689.3 L223.0,689.5 L222.5,689.7 L222.0,690.0 L221.5,690.4 L221.1,690.8 L220.7,691.3 L220.3,691.8 L220.0,692.3 L219.7,692.9 L219.5,693.5 L219.3,694.1 L219.2,694.7 L219.2,695.3 L219.2,695.9 L219.3,696.4 L219.4,697.0 L219.6,697.5 L219.8,698.0 L220.1,698.4 L220.5,698.8 L220.9,699.1 L221.3,699.4 Z" class="o" />
<path d="M225.9,701.9 L226.6,702.2 L227.3,702.4 L228.1,702.4 L228.8,702.3 L229.6,702.0 L230.3,701.7 L231.0,701.2 L231.6,700.6 L232.2,699.9 L232.6,699.2 L233.0,698.4 L233.3,697.6 L233.4,696.7 L233.4,695.9 L233.3,695.1 L233.1,694.3 L232.8,693.6 L232.4,693.0 L231.9,692.5 L231.3,692.1 L230.6,691.8 L229.9,691.6 L229.1,691.6 L228.4,691.7 L227.6,692.0 L226.9,692.3 L226.2,692.8 L225.6,693.4 L225.0,694.1 L224.6,694.8 L224.2,695.6 L223.9,696.4 L223.8,697.3 L223.8,698.1 L223.9,698.9 L224.1,699.7 L224.4,700.4 L224.8,701.0 L225.3,701.5 L225.9,701.9 Z" class="o" />
<path d="M227.4,699.2 L227.8,699.4 L228.2,699.4 L228.6,699.4 L229.0,699.3 L229.4,699.1 L229.8,698.8 L230.1,698.4 L230.4,698.0 L230.6,697.5 L230.7,697.1 L230.8,696.6 L230.7,696.1 L230.6,695.7 L230.4,695.3 L230.1,695.0 L229.8,694.8 L229.4,694.6 L229.0,694.6 L228.6,694.6 L228.2,694.7 L227.8,694.9 L227.4,695.2 L227.1,695.6 L226.8,696.0 L226.6,696.5 L226.5,696.9 L226.4,697.4 L226.5,697.9 L226.6,698.3 L226.8,698.7 L227.1,699.0 L227.4,699.2 Z" class="o" />
<path d="M299.5,713.5 L298.9,714.3 L298.0,714.8 L297.0,715.1 L296.0,715.0 L295.1,714.6 L294.2,714.0 L293.7,713.1 L293.4,712.2 L293.4,711.2 L293.7,710.2 L294.3,709.5 L295.2,709.0 L296.2,708.7 L297.2,708.8 L298.2,709.2 L299.0,709.8 L299.5,710.7 L299.8,711.6 L299.8,712.6 L299.5,713.5 Z" class="n" />
<path d="M212.4,710.3 L212.2,710.9 L211.6,711.4 L210.8,711.8 L209.8,711.9 L208.8,711.8 L208.0,711.4 L207.4,710.9 L207.2,710.3 L207.4,709.7 L208.0,709.2 L208.8,708.8 L209.8,708.7 L210.8,708.8 L211.6,709.2 L212.2,709.7 L212.4,710.3 Z" class="n" />
<path d="M146.1,630.0 L147.2,630.4 L148.5,630.7 L149.8,630.7 L151.0,630.4 L152.2,629.9 L153.4,629.2 L154.4,628.4 L155.3,627.3 L156.0,626.2 L156.5,624.9 L156.7,623.6 L156.8,622.2 L156.7,620.9 L156.3,619.7 L155.7,618.5 L154.9,617.5 L154.0,616.7 L152.9,616.0 L151.8,615.6 L150.5,615.3 L149.2,615.3 L148.0,615.6 L146.8,616.1 L145.6,616.8 L144.6,617.6 L143.7,618.7 L143.0,619.8 L142.5,621.1 L142.3,622.4 L142.2,623.8 L142.3,625.1 L142.7,626.3 L143.3,627.5 L144.1,628.5 L145.0,629.3 L146.1,630.0 Z" class="o" />
<path d="M142.9,626.4 L145.9,625.3" class="t" />
<path d="M143.2,619.9 L146.3,621.4" class="t" />
<path d="M148.2,615.7 L149.1,618.7" class="t" />
<path d="M155.0,625.7 L155.4,624.9 L155.7,624.0 L155.8,623.1 L155.9,622.3 L155.8,621.5 L155.6,620.7 L155.4,620.1 L155.0,619.5 L154.6,619.1 L154.1,618.7 L153.5,618.5 L152.8,618.4 L152.2,618.5 L151.5,618.7 L150.8,619.0 L150.1,619.5 L149.5,620.0 L148.9,620.7 L148.4,621.4 L147.9,622.2" class="t" />
<path d="M150.5,627.8 L174.3,639.5 L174.6,639.6 L174.8,639.6 L175.1,639.6 L175.4,639.6 L175.7,639.5 L176.0,639.4 L176.3,639.2 L176.6,639.0 L176.9,638.7 L177.2,638.5 L177.5,638.1 L177.7,637.8 L178.0,637.4 L178.2,637.1 L178.3,636.7 L178.5,636.3 L178.6,635.9 L178.7,635.5 L178.7,635.1 L178.7,634.7 L178.7,634.3 L178.7,634.0 L178.6,633.6 L178.5,633.3 L178.3,633.1 L178.1,632.9 L177.9,632.7 L177.7,632.5 L153.9,620.9 L153.6,620.8 L153.4,620.7 L153.1,620.7 L152.8,620.7 L152.5,620.8 L152.2,621.0 L151.9,621.1 L151.6,621.3 L151.3,621.6 L151.0,621.9 L150.7,622.2 L150.5,622.5 L150.2,622.9 L150.0,623.3 L149.9,623.7 L149.7,624.1 L149.6,624.5 L149.5,624.9 L149.5,625.3 L149.5,625.6 L149.5,626.0 L149.5,626.4 L149.6,626.7 L149.7,627.0 L149.9,627.2 L150.1,627.5 L150.3,627.6 L150.5,627.8 Z" class="o" />
<path d="M174.3,639.5 L174.7,639.6 L175.1,639.6 L175.5,639.6 L175.9,639.4 L176.3,639.2 L176.7,638.9 L177.2,638.5 L177.5,638.1 L177.9,637.6 L178.2,637.1 L178.4,636.5 L178.6,635.9 L178.7,635.4 L178.7,634.8 L178.7,634.3 L178.6,633.8 L178.5,633.4 L178.3,633.0 L178.0,632.8 L177.7,632.5 L177.3,632.4 L176.9,632.4 L176.5,632.4 L176.1,632.6 L175.7,632.8 L175.3,633.1 L174.8,633.5 L174.5,633.9 L174.1,634.4 L173.8,634.9 L173.6,635.5 L173.4,636.1 L173.3,636.6 L173.3,637.2 L173.3,637.7 L173.4,638.2 L173.5,638.6 L173.7,639.0 L174.0,639.2 L174.3,639.5 Z" class="o" />
<path d="M165.0,634.4 L165.8,634.6 L166.8,634.2 L167.7,633.4 L168.4,632.3 L168.9,631.0 L168.9,629.8 L168.6,628.8 L168.0,628.2" class="t"/>
<path d="M167.0,635.5 L167.9,635.6 L168.9,635.2 L169.8,634.4 L170.5,633.3 L170.9,632.0 L171.0,630.8 L170.7,629.8 L170.1,629.2" class="t"/>
<path d="M169.1,636.5 L170.0,636.6 L170.9,636.2 L171.9,635.4 L172.6,634.3 L173.0,633.1 L173.1,631.8 L172.8,630.9 L172.2,630.3" class="t"/>
<path d="M171.2,637.5 L172.1,637.6 L173.0,637.3 L173.9,636.5 L174.7,635.3 L175.1,634.1 L175.2,632.9 L174.9,631.9 L174.3,631.3" class="t"/>
<path d="M173.3,638.5 L174.1,638.7 L175.1,638.3 L176.0,637.5 L176.7,636.4 L177.2,635.1 L177.3,633.9 L177.0,632.9 L176.3,632.3" class="t"/>
<path d="M184.0,648.1 L186.0,649.1 L186.4,649.3 L186.9,649.4 L187.5,649.4 L188.0,649.4 L188.6,649.2 L189.1,649.0 L189.7,648.7 L190.3,648.4 L190.8,647.9 L191.3,647.5 L191.8,646.9 L192.2,646.3 L192.7,645.7 L193.0,645.0 L193.3,644.3 L193.6,643.6 L193.8,642.9 L193.9,642.2 L194.0,641.5 L194.0,640.8 L194.0,640.1 L193.9,639.5 L193.7,638.9 L193.5,638.4 L193.2,637.9 L192.9,637.5 L192.5,637.2 L192.0,636.9 L190.0,635.9 L189.6,635.7 L189.1,635.6 L188.5,635.6 L188.0,635.6 L187.4,635.8 L186.9,636.0 L186.3,636.3 L185.7,636.6 L185.2,637.1 L184.7,637.5 L184.2,638.1 L183.8,638.7 L183.3,639.3 L183.0,640.0 L182.7,640.7 L182.4,641.4 L182.2,642.1 L182.1,642.8 L182.0,643.5 L182.0,644.2 L182.0,644.9 L182.1,645.5 L182.3,646.1 L182.5,646.6 L182.8,647.1 L183.1,647.5 L183.5,647.8 L184.0,648.1 Z" class="o" />
<path d="M186.0,649.1 L186.6,649.3 L187.4,649.4 L188.1,649.3 L188.9,649.1 L189.7,648.7 L190.5,648.2 L191.2,647.6 L191.9,646.8 L192.5,645.9 L193.0,645.0 L193.5,644.0 L193.8,643.0 L194.0,642.0 L194.0,641.1 L194.0,640.1 L193.8,639.3 L193.5,638.5 L193.1,637.8 L192.6,637.3 L192.0,636.9 L191.4,636.7 L190.6,636.6 L189.9,636.7 L189.1,636.9 L188.3,637.3 L187.5,637.8 L186.8,638.4 L186.1,639.2 L185.5,640.1 L185.0,641.0 L184.5,642.0 L184.2,643.0 L184.0,644.0 L184.0,644.9 L184.0,645.9 L184.2,646.7 L184.5,647.5 L184.9,648.2 L185.4,648.7 L186.0,649.1 Z" class="o" />
<path d="M187.6,645.7 L188.0,645.9 L188.4,645.9 L188.9,645.8 L189.3,645.6 L189.7,645.3 L190.1,644.9 L190.5,644.4 L190.8,643.9 L191.0,643.4 L191.2,642.8 L191.3,642.2 L191.2,641.7 L191.1,641.2 L191.0,640.8 L190.7,640.5 L190.4,640.3 L190.0,640.1 L189.6,640.1 L189.1,640.2 L188.7,640.4 L188.3,640.7 L187.9,641.1 L187.5,641.6 L187.2,642.1 L187.0,642.6 L186.8,643.2 L186.7,643.8 L186.8,644.3 L186.9,644.8 L187.0,645.2 L187.3,645.5 L187.6,645.7 Z" class="o" />
<path d="M281.9,647.0 L283.7,648.1 L284.3,648.4 L284.9,648.7 L285.6,648.8 L286.3,648.8 L287.0,648.8 L287.7,648.6 L288.5,648.4 L289.2,648.1 L289.9,647.7 L290.6,647.2 L291.2,646.6 L291.8,646.0 L292.3,645.4 L292.8,644.6 L293.3,643.9 L293.6,643.1 L293.9,642.3 L294.1,641.5 L294.2,640.6 L294.2,639.8 L294.2,639.0 L294.1,638.3 L293.9,637.6 L293.6,636.9 L293.2,636.3 L292.8,635.7 L292.3,635.3 L291.7,634.9 L289.9,633.8 L289.3,633.5 L288.7,633.2 L288.0,633.1 L287.3,633.1 L286.6,633.1 L285.9,633.3 L285.1,633.5 L284.4,633.8 L283.7,634.2 L283.0,634.7 L282.4,635.3 L281.8,635.9 L281.3,636.5 L280.8,637.3 L280.3,638.0 L280.0,638.8 L279.7,639.6 L279.5,640.4 L279.4,641.3 L279.4,642.1 L279.4,642.9 L279.5,643.6 L279.7,644.3 L280.0,645.0 L280.4,645.6 L280.8,646.2 L281.3,646.6 L281.9,647.0 Z" class="o" />
<path d="M283.9,647.6 L289.9,647.1 L293.7,640.9 L291.5,635.4 L285.5,635.9 L281.7,642.1 Z" class="t" />
<path d="M286.5,645.9 L287.3,646.2 L288.2,646.3 L289.2,646.0 L290.1,645.5 L291.0,644.8 L291.6,643.9 L292.1,642.9 L292.4,641.8 L292.4,640.8 L292.2,639.8 L291.7,639.0 L291.0,638.4 L290.2,638.1 L289.3,638.0 L288.3,638.3 L287.4,638.8 L286.6,639.5 L285.9,640.4 L285.4,641.4 L285.1,642.5 L285.1,643.5 L285.3,644.5 L285.8,645.3 L286.5,645.9 Z" class="t" />
<path d="M287.0,645.0 L287.6,645.3 L288.4,645.3 L289.1,645.1 L289.8,644.8 L290.5,644.2 L291.0,643.5 L291.4,642.7 L291.6,641.9 L291.6,641.1 L291.4,640.3 L291.0,639.7 L290.5,639.3 L289.9,639.0 L289.2,639.0 L288.4,639.2 L287.7,639.5 L287.1,640.1 L286.5,640.8 L286.2,641.6 L286.0,642.4 L285.9,643.2 L286.1,644.0 L286.5,644.6 L287.0,645.0 Z" class="n" />
<path d="M209.5,712.0 L209.5,746.0" class="c"/>
<path d="M202.3,733.0 L202.3,735.5 L202.3,735.9 L202.5,736.4 L202.7,736.8 L203.0,737.2 L203.4,737.6 L203.8,738.0 L204.4,738.3 L204.9,738.6 L205.6,738.9 L206.3,739.1 L207.0,739.3 L207.7,739.4 L208.5,739.5 L209.3,739.5 L210.1,739.5 L210.9,739.4 L211.6,739.3 L212.3,739.1 L213.0,738.9 L213.7,738.6 L214.2,738.3 L214.8,738.0 L215.2,737.6 L215.6,737.2 L215.9,736.8 L216.1,736.4 L216.3,735.9 L216.3,735.5 L216.3,733.0 L216.3,732.6 L216.1,732.1 L215.9,731.7 L215.6,731.3 L215.2,730.9 L214.8,730.5 L214.2,730.2 L213.7,729.9 L213.0,729.6 L212.3,729.4 L211.6,729.2 L210.9,729.1 L210.1,729.0 L209.3,729.0 L208.5,729.0 L207.7,729.1 L207.0,729.2 L206.3,729.4 L205.6,729.6 L204.9,729.9 L204.4,730.2 L203.8,730.5 L203.4,730.9 L203.0,731.3 L202.7,731.7 L202.5,732.1 L202.3,732.6 L202.3,733.0 Z" class="o" />
<path d="M202.3,735.5 L202.4,736.1 L202.6,736.7 L203.1,737.3 L203.6,737.9 L204.4,738.3 L205.2,738.7 L206.1,739.1 L207.1,739.3 L208.2,739.5 L209.3,739.5 L210.4,739.5 L211.5,739.3 L212.5,739.1 L213.4,738.7 L214.2,738.3 L215.0,737.9 L215.5,737.3 L216.0,736.7 L216.2,736.1 L216.3,735.5 L216.2,734.9 L216.0,734.3 L215.5,733.7 L215.0,733.1 L214.2,732.7 L213.4,732.3 L212.5,731.9 L211.5,731.7 L210.4,731.5 L209.3,731.5 L208.2,731.5 L207.1,731.7 L206.1,731.9 L205.2,732.3 L204.4,732.7 L203.6,733.1 L203.1,733.7 L202.6,734.3 L202.4,734.9 L202.3,735.5 Z" class="o" />
<path d="M206.5,735.5 L206.6,735.8 L206.7,736.1 L207.0,736.4 L207.3,736.6 L207.7,736.8 L208.2,737.0 L208.8,737.1 L209.3,737.1 L209.8,737.1 L210.4,737.0 L210.9,736.8 L211.3,736.6 L211.6,736.4 L211.9,736.1 L212.0,735.8 L212.1,735.5 L212.0,735.2 L211.9,734.9 L211.6,734.6 L211.3,734.4 L210.9,734.2 L210.4,734.0 L209.8,733.9 L209.3,733.9 L208.8,733.9 L208.2,734.0 L207.7,734.2 L207.3,734.4 L207.0,734.6 L206.7,734.9 L206.6,735.2 L206.5,735.5 Z" class="o" />
<path d="M206.6,762 L206.6,749.5 L209.5,745.8 L212.4,749.5 L212.4,762 Z" class="o"/>
<path d="M206.8,749.5 Q209.5,750.7 212.2,749.5" class="t"/>
<path d="M206.8,751.8 Q209.5,753.0 212.2,751.8" class="t"/>
<path d="M206.8,754.1 Q209.5,755.3 212.2,754.1" class="t"/>
<path d="M206.8,756.4 Q209.5,757.6 212.2,756.4" class="t"/>
<path d="M206.8,758.7 Q209.5,759.9 212.2,758.7" class="t"/>
<path d="M206.8,761.0 Q209.5,762.2 212.2,761.0" class="t"/>
<path d="M201.8,764 Q201.8,760.6 209.5,760.6 Q217.2,760.6 217.2,764 L217.4,768.8 Q217.4,773 209.5,773 Q201.6,773 201.6,768.8 Z" class="o"/>
<path d="M202,766.5 Q209.5,770 217.2,766.5" class="t"/>
<path d="M205,762.5 L205,767.8 M214,762.5 L214,767.8" class="t"/>
<path d="M212.7,763.2 L212.5,763.7 L211.8,764.2 L210.7,764.5 L209.5,764.6 L208.3,764.5 L207.2,764.2 L206.5,763.7 L206.3,763.2 L206.5,762.7 L207.2,762.2 L208.3,761.9 L209.5,761.8 L210.7,761.9 L211.8,762.2 L212.5,762.7 L212.7,763.2 Z" class="t" />
<path d="M423.0,673.0 L440.0,690.0" class="c"/>
<path d="M405.0,707.0 L520.0,775.0" class="c"/>
<path d="M389.5,673.4 L412.5,688.4 L413.3,688.8 L414.2,689.1 L415.1,689.3 L416.0,689.4 L416.9,689.4 L417.9,689.3 L418.9,689.0 L419.8,688.6 L420.8,688.2 L421.7,687.6 L422.5,686.9 L423.3,686.1 L424.0,685.3 L424.7,684.4 L425.3,683.4 L425.7,682.4 L426.1,681.4 L426.4,680.3 L426.6,679.2 L426.6,678.2 L426.6,677.2 L426.4,676.2 L426.2,675.2 L425.8,674.3 L425.4,673.5 L424.8,672.8 L424.2,672.2 L423.5,671.6 L400.5,656.6 L399.7,656.2 L398.8,655.9 L397.9,655.7 L397.0,655.6 L396.1,655.6 L395.1,655.7 L394.1,656.0 L393.2,656.4 L392.2,656.8 L391.3,657.4 L390.5,658.1 L389.7,658.9 L389.0,659.7 L388.3,660.6 L387.7,661.6 L387.3,662.6 L386.9,663.6 L386.6,664.7 L386.4,665.8 L386.4,666.8 L386.4,667.8 L386.6,668.8 L386.8,669.8 L387.2,670.7 L387.6,671.5 L388.2,672.2 L388.8,672.8 L389.5,673.4 Z" class="o" />
<path d="M412.5,688.4 L413.7,689.0 L414.9,689.3 L416.2,689.4 L417.5,689.3 L418.9,689.0 L420.2,688.5 L421.5,687.7 L422.7,686.7 L423.8,685.6 L424.7,684.4 L425.5,683.0 L426.1,681.6 L426.5,680.1 L426.6,678.6 L426.6,677.2 L426.4,675.8 L425.9,674.5 L425.3,673.4 L424.4,672.4 L423.5,671.6 L422.3,671.0 L421.1,670.7 L419.8,670.6 L418.5,670.7 L417.1,671.0 L415.8,671.5 L414.5,672.3 L413.3,673.3 L412.2,674.4 L411.3,675.6 L410.5,677.0 L409.9,678.4 L409.5,679.9 L409.4,681.4 L409.4,682.8 L409.6,684.2 L410.1,685.5 L410.7,686.6 L411.6,687.6 L412.5,688.4 Z" class="o" />
<path d="M416.1,682.9 L416.6,683.2 L417.1,683.3 L417.7,683.3 L418.3,683.2 L418.9,682.9 L419.4,682.5 L419.9,682.1 L420.3,681.5 L420.7,680.9 L420.9,680.3 L421.0,679.6 L421.0,679.0 L420.9,678.4 L420.7,677.9 L420.3,677.4 L419.9,677.1 L419.4,676.8 L418.9,676.7 L418.3,676.7 L417.7,676.8 L417.1,677.1 L416.6,677.5 L416.1,677.9 L415.7,678.5 L415.3,679.1 L415.1,679.7 L415.0,680.4 L415.0,681.0 L415.1,681.6 L415.3,682.1 L415.7,682.6 L416.1,682.9 Z" class="o" />
<path d="M449.6,726.3 L449.6,750.0 L455.0,751.2 L464.4,746.5 L465.6,732.2 L456.0,725.7 Z" class="o" />
<path d="M461.1,742.1 L460.4,742.9 L459.4,743.3 L458.3,743.3 L457.2,742.9 L456.3,742.1 L455.7,741.1 L455.6,740.1 L455.9,739.1 L456.6,738.3 L457.6,737.9 L458.7,737.9 L459.8,738.3 L460.7,739.1 L461.3,740.1 L461.4,741.1 L461.1,742.1 Z" class="n" />
<path d="M460.0,722.0 C458.7,721.5 455.2,720.3 452.0,719.2 C448.8,718.1 443.1,717.4 440.7,715.6 C438.3,713.8 438.2,711.5 437.7,708.5 C437.2,705.5 436.8,701.0 437.7,697.8 C438.6,694.5 440.3,691.1 443.0,689.0 C445.7,686.9 447.8,683.6 453.8,685.3 C459.7,687.0 474.0,696.1 478.8,699.4 C483.5,702.7 483.5,702.2 482.0,705.0 C480.5,707.8 472.0,714.2 470.0,716.0" class="o"/>
<path d="M452.0,719.2 L452.6,726.0" class="n" />
<path d="M481.0,703.8 L495.3,727.5 L495.3,760.8 L490.6,767.9 L482.2,767.9 L477.5,763.1 L476.9,738.2 L466.8,732.2 L456.0,725.7 L462.0,712.0 Z" class="o" />
<path d="M476.9,738.2 L495.0,728.0" class="t" />
<path d="M491.8,760.0 L491.0,761.0 L489.9,761.8 L488.6,762.2 L487.2,762.3 L485.8,762.1 L484.5,761.6 L483.3,760.7 L482.4,759.6 L481.8,758.3 L481.6,757.0 L481.7,755.7 L482.2,754.5 L483.0,753.4 L484.1,752.6 L485.4,752.2 L486.8,752.1 L488.2,752.3 L489.5,752.9 L490.7,753.7 L491.6,754.8 L492.2,756.1 L492.4,757.4 L492.3,758.7 L491.8,760.0 Z" class="n" />
<path d="M489.3,758.5 L488.6,759.2 L487.8,759.5 L486.8,759.5 L485.9,759.2 L485.1,758.6 L484.6,757.7 L484.5,756.8 L484.7,755.9 L485.4,755.2 L486.2,754.9 L487.2,754.9 L488.1,755.2 L488.9,755.8 L489.4,756.7 L489.5,757.6 L489.3,758.5 Z" class="n" />
<path d="M478.1,699.5 L479.1,700.3 L479.8,701.4 L480.3,702.7 L480.6,704.3 L480.7,706.1 L480.5,708.0 L480.0,710.1 L479.3,712.2 L478.4,714.3 L477.4,716.4 L476.1,718.4 L474.7,720.2 L473.2,721.9 L471.7,723.3 L470.1,724.4 L468.5,725.3 L467.0,725.8 L465.6,726.1 L464.2,725.9 L463.1,725.5 L462.1,724.7 L461.4,723.6 L460.9,722.3 L460.6,720.7 L460.5,718.9 L460.7,717.0 L461.2,714.9 L461.9,712.8 L462.8,710.7 L463.8,708.6 L465.1,706.6 L466.5,704.8 L468.0,703.1 L469.5,701.7 L471.1,700.6 L472.7,699.7 L474.2,699.2 L475.6,698.9 L477.0,699.1 L478.1,699.5 Z" class="o" />
<path d="M477.9,701.9 L478.7,702.5 L479.3,703.4 L479.7,704.5 L480.0,705.9 L480.0,707.3 L479.8,709.0 L479.4,710.7 L478.8,712.5 L478.1,714.3 L477.1,716.0 L476.1,717.7 L474.9,719.2 L473.7,720.6 L472.4,721.8 L471.1,722.8 L469.8,723.5 L468.5,724.0 L467.3,724.2 L466.2,724.1 L465.3,723.7 L464.5,723.1 L463.9,722.2 L463.5,721.1 L463.2,719.7 L463.2,718.3 L463.4,716.6 L463.8,714.9 L464.4,713.1 L465.1,711.3 L466.1,709.6 L467.1,707.9 L468.3,706.4 L469.5,705.0 L470.8,703.8 L472.1,702.8 L473.4,702.1 L474.7,701.6 L475.9,701.4 L477.0,701.5 L477.9,701.9 Z" class="t" />
<path d="M477.1,707.6 L477.8,708.2 L478.4,709.0 L478.8,710.1 L478.9,711.3 L478.7,712.7 L478.4,714.1 L477.8,715.4 L477.1,716.7 L476.2,717.9 L475.1,718.9 L474.1,719.7 L472.9,720.2 L471.8,720.4 L470.8,720.4 L469.9,720.0 L469.2,719.4 L468.6,718.6 L468.2,717.5 L468.1,716.3 L468.3,714.9 L468.6,713.5 L469.2,712.2 L469.9,710.9 L470.8,709.7 L471.9,708.7 L472.9,707.9 L474.1,707.4 L475.2,707.2 L476.2,707.2 L477.1,707.6 Z" class="t" />
<path d="M477.0,709.9 L477.7,710.5 L478.1,711.4 L478.3,712.4 L478.2,713.6 L477.9,714.9 L477.3,716.1 L476.6,717.2 L475.6,718.1 L474.6,718.8 L473.6,719.1 L472.7,719.2 L471.8,718.9 L471.1,718.3 L470.7,717.4 L470.5,716.4 L470.6,715.2 L470.9,713.9 L471.5,712.7 L472.2,711.6 L473.2,710.7 L474.2,710.0 L475.2,709.7 L476.1,709.6 L477.0,709.9 Z" class="o" />
<path d="M453.8,685.3 L478.8,699.4 L481.0,703.8" class="n" />
<path d="M396.6,713.4 L397.8,713.9 L399.1,714.2 L400.4,714.3 L401.7,714.1 L403.0,713.7 L404.2,713.1 L405.3,712.2 L406.3,711.2 L407.1,710.1 L407.6,708.8 L408.0,707.4 L408.1,706.1 L408.0,704.7 L407.6,703.4 L407.1,702.2 L406.3,701.1 L405.3,700.1 L404.2,699.4 L403.0,698.9 L401.7,698.6 L400.4,698.5 L399.1,698.7 L397.8,699.1 L396.6,699.7 L395.5,700.6 L394.5,701.6 L393.7,702.7 L393.2,704.0 L392.8,705.4 L392.7,706.7 L392.8,708.1 L393.2,709.4 L393.7,710.6 L394.5,711.7 L395.5,712.7 L396.6,713.4 Z" class="o" />
<path d="M393.4,709.6 L396.5,708.6" class="t" />
<path d="M393.9,702.8 L397.1,704.6" class="t" />
<path d="M399.3,698.8 L400.1,702.0" class="t" />
<path d="M406.0,709.5 L406.4,708.6 L406.7,707.7 L406.9,706.9 L407.0,706.0 L407.0,705.2 L406.8,704.4 L406.6,703.7 L406.2,703.1 L405.8,702.6 L405.2,702.2 L404.6,701.9 L403.9,701.8 L403.2,701.9 L402.5,702.0 L401.8,702.3 L401.1,702.7 L400.4,703.3 L399.7,703.9 L399.2,704.7 L398.7,705.4" class="t" />
<path d="M401.2,711.2 L433.4,728.9 L433.6,729.0 L433.9,729.0 L434.2,729.1 L434.5,729.0 L434.8,729.0 L435.1,728.9 L435.4,728.7 L435.7,728.5 L436.0,728.3 L436.3,728.0 L436.6,727.7 L436.9,727.4 L437.1,727.0 L437.4,726.7 L437.5,726.3 L437.7,725.9 L437.8,725.5 L437.9,725.1 L438.0,724.7 L438.0,724.3 L438.0,723.9 L438.0,723.6 L437.9,723.3 L437.8,723.0 L437.7,722.7 L437.5,722.5 L437.3,722.3 L437.1,722.1 L404.9,704.5 L404.6,704.4 L404.4,704.3 L404.1,704.3 L403.8,704.3 L403.5,704.4 L403.2,704.5 L402.9,704.6 L402.5,704.8 L402.2,705.1 L401.9,705.3 L401.7,705.6 L401.4,706.0 L401.1,706.3 L400.9,706.7 L400.7,707.1 L400.6,707.5 L400.4,707.9 L400.3,708.3 L400.3,708.7 L400.2,709.0 L400.2,709.4 L400.3,709.8 L400.3,710.1 L400.5,710.4 L400.6,710.6 L400.8,710.9 L401.0,711.1 L401.2,711.2 Z" class="o" />
<path d="M433.4,728.9 L433.8,729.0 L434.1,729.1 L434.6,729.0 L435.0,728.9 L435.4,728.7 L435.9,728.4 L436.3,728.1 L436.7,727.6 L437.0,727.2 L437.4,726.7 L437.6,726.1 L437.8,725.6 L438.0,725.0 L438.0,724.4 L438.0,723.9 L438.0,723.4 L437.9,723.0 L437.7,722.6 L437.4,722.3 L437.1,722.1 L436.7,722.0 L436.4,721.9 L435.9,722.0 L435.5,722.1 L435.1,722.3 L434.6,722.6 L434.2,722.9 L433.8,723.4 L433.5,723.8 L433.1,724.3 L432.9,724.9 L432.7,725.4 L432.5,726.0 L432.5,726.6 L432.5,727.1 L432.5,727.6 L432.6,728.0 L432.8,728.4 L433.1,728.7 L433.4,728.9 Z" class="o" />
<path d="M420.7,721.5 L421.5,721.6 L422.5,721.3 L423.5,720.6 L424.3,719.5 L424.7,718.2 L424.9,717.0 L424.6,716.0 L424.0,715.4" class="t"/>
<path d="M423.0,722.7 L423.8,722.9 L424.8,722.6 L425.7,721.8 L426.5,720.7 L427.0,719.5 L427.1,718.3 L426.9,717.3 L426.3,716.6" class="t"/>
<path d="M425.2,723.9 L426.1,724.1 L427.0,723.8 L428.0,723.0 L428.8,721.9 L429.3,720.7 L429.4,719.5 L429.1,718.5 L428.5,717.9" class="t"/>
<path d="M427.5,725.2 L428.3,725.3 L429.3,725.0 L430.2,724.3 L431.0,723.2 L431.5,721.9 L431.6,720.7 L431.4,719.7 L430.8,719.1" class="t"/>
<path d="M429.7,726.4 L430.6,726.6 L431.5,726.3 L432.5,725.5 L433.3,724.4 L433.8,723.2 L433.9,722.0 L433.6,721.0 L433.0,720.3" class="t"/>
<path d="M432.0,727.7 L432.8,727.8 L433.8,727.5 L434.8,726.7 L435.5,725.7 L436.0,724.4 L436.2,723.2 L435.9,722.2 L435.3,721.6" class="t"/>
<path d="M507.1,778.5 L509.1,779.7 L509.8,780.1 L510.6,780.3 L511.4,780.5 L512.3,780.6 L513.1,780.5 L514.0,780.3 L514.9,780.1 L515.8,779.7 L516.6,779.2 L517.4,778.6 L518.2,778.0 L518.9,777.3 L519.6,776.5 L520.1,775.6 L520.6,774.7 L521.0,773.7 L521.3,772.8 L521.6,771.8 L521.7,770.8 L521.7,769.8 L521.6,768.9 L521.4,768.0 L521.2,767.1 L520.8,766.3 L520.4,765.6 L519.8,764.9 L519.2,764.4 L518.5,763.9 L516.5,762.7 L515.8,762.3 L515.0,762.1 L514.2,761.9 L513.3,761.8 L512.5,761.9 L511.6,762.1 L510.7,762.3 L509.8,762.7 L509.0,763.2 L508.2,763.8 L507.4,764.4 L506.7,765.1 L506.0,765.9 L505.5,766.8 L505.0,767.7 L504.6,768.7 L504.3,769.6 L504.0,770.6 L503.9,771.6 L503.9,772.6 L504.0,773.5 L504.2,774.4 L504.4,775.3 L504.8,776.1 L505.2,776.8 L505.8,777.5 L506.4,778.0 L507.1,778.5 Z" class="o" />
<path d="M509.4,779.1 L516.7,778.5 L521.1,771.2 L518.2,764.5 L510.9,765.1 L506.5,772.4 Z" class="t" />
<path d="M512.4,777.0 L513.4,777.4 L514.6,777.5 L515.7,777.2 L516.9,776.7 L517.8,775.8 L518.7,774.7 L519.2,773.5 L519.5,772.2 L519.5,770.9 L519.2,769.8 L518.6,768.8 L517.8,768.1 L516.8,767.7 L515.6,767.7 L514.5,767.9 L513.4,768.5 L512.4,769.4 L511.5,770.4 L511.0,771.7 L510.7,773.0 L510.7,774.2 L511.0,775.4 L511.6,776.3 L512.4,777.0 Z" class="t" />
<path d="M513.1,776.0 L513.8,776.3 L514.7,776.4 L515.6,776.2 L516.4,775.7 L517.2,775.1 L517.8,774.2 L518.3,773.3 L518.5,772.3 L518.5,771.3 L518.2,770.4 L517.8,769.7 L517.2,769.2 L516.4,768.9 L515.5,768.8 L514.6,769.0 L513.8,769.4 L513.0,770.1 L512.4,770.9 L511.9,771.9 L511.7,772.9 L511.7,773.8 L512.0,774.7 L512.4,775.5 L513.1,776.0 Z" class="n" />
<path d="M460.0,470.6 L512.5,500.4" class="c"/>
<path d="M530.0,472.4 L600.0,513.5" class="c"/>
<path d="M582.0,502.8 L601.2,513.8" class="c"/>
<path d="M617.8,522.7 L657.6,545.4" class="c"/>
<path d="M469.1,486.8 L471.1,488.0 L471.8,488.4 L472.6,488.6 L473.5,488.8 L474.3,488.8 L475.2,488.8 L476.1,488.6 L477.0,488.3 L477.9,487.9 L478.7,487.5 L479.5,486.9 L480.3,486.2 L481.0,485.5 L481.6,484.7 L482.2,483.8 L482.7,482.9 L483.1,481.9 L483.4,480.9 L483.7,480.0 L483.8,479.0 L483.8,478.0 L483.8,477.0 L483.6,476.1 L483.3,475.3 L483.0,474.5 L482.5,473.7 L482.0,473.1 L481.4,472.5 L480.7,472.0 L478.7,470.8 L478.0,470.4 L477.2,470.2 L476.3,470.0 L475.5,470.0 L474.6,470.0 L473.7,470.2 L472.8,470.5 L471.9,470.9 L471.1,471.3 L470.3,471.9 L469.5,472.6 L468.8,473.3 L468.2,474.1 L467.6,475.0 L467.1,475.9 L466.7,476.9 L466.4,477.9 L466.1,478.8 L466.0,479.8 L466.0,480.8 L466.0,481.8 L466.2,482.7 L466.5,483.5 L466.8,484.3 L467.3,485.1 L467.8,485.7 L468.4,486.3 L469.1,486.8 Z" class="o" />
<path d="M471.5,487.4 L478.8,486.8 L483.2,479.3 L480.3,472.6 L473.0,473.2 L468.6,480.7 Z" class="t" />
<path d="M474.5,485.3 L475.5,485.7 L476.6,485.7 L477.8,485.5 L478.9,484.9 L479.9,484.0 L480.8,482.9 L481.3,481.7 L481.6,480.4 L481.6,479.1 L481.3,478.0 L480.7,477.0 L479.9,476.3 L478.9,475.9 L477.8,475.8 L476.6,476.1 L475.5,476.7 L474.5,477.6 L473.6,478.6 L473.1,479.9 L472.8,481.2 L472.8,482.5 L473.1,483.6 L473.7,484.6 L474.5,485.3 Z" class="t" />
<path d="M475.1,484.2 L475.9,484.5 L476.8,484.6 L477.7,484.4 L478.5,483.9 L479.3,483.3 L479.9,482.4 L480.4,481.5 L480.6,480.5 L480.6,479.5 L480.4,478.6 L479.9,477.9 L479.3,477.3 L478.5,477.0 L477.6,477.0 L476.7,477.2 L475.9,477.6 L475.1,478.3 L474.5,479.1 L474.0,480.1 L473.8,481.1 L473.8,482.1 L474.0,483.0 L474.5,483.7 L475.1,484.2 Z" class="n" />
<path d="M489.8,453.1 L495.0,445.2 L503.8,443.5 L508.1,447.0 L507.2,454.0 L504.6,457.5 L507.2,482.0 L508.1,485.5 L508.1,496.0 L502.0,502.1 L492.4,502.1 L489.8,499.5 Z" class="o" />
<path d="M492.5,455.0 L492.5,498.0" class="t" />
<path d="M504.4,494.2 L504.2,495.5 L503.8,496.6 L503.0,497.5 L502.1,498.1 L501.1,498.2 L500.1,498.1 L499.2,497.5 L498.4,496.6 L498.0,495.5 L497.8,494.2 L498.0,493.0 L498.4,491.9 L499.2,491.0 L500.1,490.4 L501.1,490.2 L502.1,490.4 L503.0,491.0 L503.8,491.9 L504.2,493.0 L504.4,494.2 Z" class="n" />
<path d="M495.9,458.6 L516.9,471.1 L517.1,471.2 L517.4,471.3 L517.7,471.4 L518.1,471.4 L518.4,471.3 L518.8,471.2 L519.1,471.0 L519.5,470.8 L519.8,470.6 L520.2,470.3 L520.5,470.0 L520.8,469.6 L521.1,469.3 L521.3,468.9 L521.5,468.5 L521.7,468.0 L521.9,467.6 L522.0,467.2 L522.1,466.7 L522.2,466.3 L522.2,465.9 L522.1,465.5 L522.1,465.2 L521.9,464.8 L521.8,464.5 L521.6,464.3 L521.4,464.1 L521.1,463.9 L500.1,451.4 L499.9,451.3 L499.6,451.2 L499.3,451.1 L498.9,451.1 L498.6,451.2 L498.2,451.3 L497.9,451.5 L497.5,451.7 L497.2,451.9 L496.8,452.2 L496.5,452.5 L496.2,452.9 L495.9,453.2 L495.7,453.6 L495.5,454.0 L495.3,454.5 L495.1,454.9 L495.0,455.3 L494.9,455.8 L494.8,456.2 L494.8,456.6 L494.9,457.0 L494.9,457.3 L495.1,457.7 L495.2,458.0 L495.4,458.2 L495.6,458.4 L495.9,458.6 Z" class="o" />
<path d="M517.6,471.9 L529.6,477.9 L529.8,478.0 L530.0,478.0 L530.3,478.0 L530.6,478.0 L530.8,477.9 L531.1,477.9 L531.4,477.7 L531.6,477.6 L531.9,477.4 L532.2,477.1 L532.4,476.9 L532.6,476.6 L532.8,476.3 L533.0,476.0 L533.1,475.7 L533.2,475.3 L533.3,475.0 L533.4,474.6 L533.4,474.3 L533.4,474.0 L533.4,473.7 L533.3,473.4 L533.3,473.1 L533.1,472.8 L533.0,472.6 L532.8,472.4 L532.6,472.3 L532.4,472.1 L520.4,466.1 L520.2,466.0 L520.0,466.0 L519.7,466.0 L519.4,466.0 L519.2,466.1 L518.9,466.1 L518.6,466.3 L518.4,466.4 L518.1,466.6 L517.8,466.9 L517.6,467.1 L517.4,467.4 L517.2,467.7 L517.0,468.0 L516.9,468.3 L516.8,468.7 L516.7,469.0 L516.6,469.4 L516.6,469.7 L516.6,470.0 L516.6,470.3 L516.7,470.6 L516.7,470.9 L516.9,471.2 L517.0,471.4 L517.2,471.6 L517.4,471.7 L517.6,471.9 Z" class="o" />
<path d="M529.6,477.9 L529.9,478.0 L530.2,478.0 L530.6,478.0 L531.0,477.9 L531.4,477.7 L531.8,477.5 L532.1,477.2 L532.4,476.8 L532.7,476.4 L533.0,476.0 L533.2,475.5 L533.3,475.1 L533.4,474.6 L533.4,474.1 L533.4,473.7 L533.3,473.3 L533.2,472.9 L533.0,472.6 L532.7,472.3 L532.4,472.1 L532.1,472.0 L531.8,472.0 L531.4,472.0 L531.0,472.1 L530.6,472.3 L530.2,472.5 L529.9,472.8 L529.6,473.2 L529.3,473.6 L529.0,474.0 L528.8,474.5 L528.7,474.9 L528.6,475.4 L528.6,475.9 L528.6,476.3 L528.7,476.7 L528.8,477.1 L529.0,477.4 L529.3,477.7 L529.6,477.9 Z" class="o" />
<path d="M518.9,472.2 L519.7,472.3 L520.5,472.0 L521.3,471.4 L522.0,470.5 L522.3,469.4 L522.4,468.4 L522.1,467.6 L521.5,467.0" class="t"/>
<path d="M521.3,473.4 L522.1,473.5 L522.9,473.2 L523.7,472.6 L524.4,471.7 L524.7,470.6 L524.8,469.6 L524.5,468.8 L523.9,468.2" class="t"/>
<path d="M523.7,474.6 L524.5,474.7 L525.3,474.4 L526.1,473.8 L526.8,472.9 L527.1,471.8 L527.2,470.8 L526.9,470.0 L526.3,469.4" class="t"/>
<path d="M526.1,475.8 L526.9,475.9 L527.7,475.6 L528.5,475.0 L529.2,474.1 L529.5,473.0 L529.6,472.0 L529.3,471.2 L528.7,470.6" class="t"/>
<path d="M528.5,477.0 L529.3,477.1 L530.1,476.8 L530.9,476.2 L531.6,475.3 L531.9,474.2 L532.0,473.2 L531.7,472.4 L531.1,471.8" class="t"/>
<path d="M501.6,456.9 L500.8,457.7 L499.7,458.2 L498.4,458.4 L497.0,458.2 L495.7,457.6 L494.5,456.7 L493.6,455.6 L493.1,454.4 L493.1,453.2 L493.4,452.1 L494.2,451.3 L495.3,450.8 L496.6,450.6 L498.0,450.8 L499.3,451.4 L500.5,452.3 L501.4,453.4 L501.9,454.6 L501.9,455.8 L501.6,456.9 Z" class="o" />
<path d="M543.0,488.4 L547.0,490.9 L547.6,491.1 L548.2,491.3 L548.8,491.5 L549.4,491.5 L550.1,491.4 L550.8,491.3 L551.5,491.1 L552.2,490.7 L552.8,490.4 L553.5,489.9 L554.1,489.4 L554.7,488.8 L555.2,488.1 L555.7,487.4 L556.1,486.7 L556.4,485.9 L556.7,485.2 L556.9,484.4 L557.1,483.6 L557.1,482.8 L557.1,482.1 L557.0,481.3 L556.8,480.7 L556.6,480.0 L556.3,479.5 L555.9,478.9 L555.5,478.5 L555.0,478.1 L551.0,475.6 L550.4,475.4 L549.8,475.2 L549.2,475.0 L548.6,475.0 L547.9,475.1 L547.2,475.2 L546.5,475.4 L545.8,475.8 L545.2,476.1 L544.5,476.6 L543.9,477.1 L543.3,477.7 L542.8,478.4 L542.3,479.1 L541.9,479.8 L541.6,480.6 L541.3,481.3 L541.1,482.1 L540.9,482.9 L540.9,483.7 L540.9,484.4 L541.0,485.2 L541.2,485.8 L541.4,486.5 L541.7,487.0 L542.1,487.6 L542.5,488.0 L543.0,488.4 Z" class="o" />
<path d="M547.0,490.9 L547.8,491.2 L548.7,491.4 L549.6,491.5 L550.5,491.4 L551.5,491.1 L552.4,490.6 L553.4,490.0 L554.2,489.2 L555.0,488.4 L555.7,487.4 L556.2,486.4 L556.7,485.3 L557.0,484.2 L557.1,483.1 L557.1,482.1 L557.0,481.1 L556.7,480.2 L556.2,479.4 L555.7,478.7 L555.0,478.1 L554.2,477.8 L553.3,477.6 L552.4,477.5 L551.5,477.6 L550.5,477.9 L549.6,478.4 L548.6,479.0 L547.8,479.8 L547.0,480.6 L546.3,481.6 L545.8,482.6 L545.3,483.7 L545.0,484.8 L544.9,485.9 L544.9,486.9 L545.0,487.9 L545.3,488.8 L545.8,489.6 L546.3,490.3 L547.0,490.9 Z" class="o" />
<path d="M548.6,488.9 L555.1,492.4 L555.5,492.6 L555.9,492.7 L556.3,492.7 L556.7,492.7 L557.2,492.6 L557.6,492.5 L558.1,492.3 L558.5,492.1 L558.9,491.8 L559.3,491.4 L559.7,491.1 L560.1,490.6 L560.4,490.2 L560.7,489.7 L560.9,489.2 L561.1,488.7 L561.3,488.2 L561.4,487.6 L561.4,487.1 L561.5,486.6 L561.4,486.1 L561.3,485.6 L561.2,485.2 L561.0,484.8 L560.8,484.4 L560.5,484.1 L560.2,483.8 L559.9,483.6 L553.4,480.1 L553.0,479.9 L552.6,479.8 L552.2,479.8 L551.8,479.8 L551.3,479.9 L550.9,480.0 L550.4,480.2 L550.0,480.4 L549.6,480.7 L549.2,481.1 L548.8,481.4 L548.4,481.9 L548.1,482.3 L547.8,482.8 L547.6,483.3 L547.4,483.8 L547.2,484.3 L547.1,484.9 L547.1,485.4 L547.0,485.9 L547.1,486.4 L547.2,486.9 L547.3,487.3 L547.5,487.7 L547.7,488.1 L548.0,488.4 L548.3,488.7 L548.6,488.9 Z" class="o" />
<path d="M555.1,492.4 L555.7,492.6 L556.2,492.7 L556.8,492.7 L557.4,492.6 L558.1,492.3 L558.7,492.0 L559.2,491.5 L559.8,491.0 L560.3,490.4 L560.7,489.7 L561.0,489.0 L561.2,488.3 L561.4,487.5 L561.5,486.8 L561.4,486.1 L561.3,485.4 L561.1,484.9 L560.7,484.3 L560.3,483.9 L559.9,483.6 L559.3,483.4 L558.8,483.3 L558.2,483.3 L557.6,483.4 L556.9,483.7 L556.3,484.0 L555.8,484.5 L555.2,485.0 L554.7,485.6 L554.3,486.3 L554.0,487.0 L553.8,487.7 L553.6,488.5 L553.5,489.2 L553.6,489.9 L553.7,490.6 L553.9,491.1 L554.3,491.7 L554.7,492.1 L555.1,492.4 Z" class="o" />
<path d="M569.1,501.7 L574.1,504.2 L574.5,504.4 L574.9,504.5 L575.4,504.5 L575.8,504.5 L576.3,504.4 L576.8,504.3 L577.2,504.1 L577.7,503.8 L578.1,503.5 L578.5,503.1 L578.9,502.7 L579.3,502.2 L579.6,501.7 L579.9,501.2 L580.1,500.7 L580.3,500.1 L580.5,499.5 L580.6,499.0 L580.6,498.4 L580.6,497.9 L580.6,497.3 L580.5,496.9 L580.3,496.4 L580.1,496.0 L579.9,495.6 L579.6,495.3 L579.2,495.0 L578.9,494.8 L573.9,492.3 L573.5,492.1 L573.1,492.0 L572.6,492.0 L572.2,492.0 L571.7,492.1 L571.2,492.2 L570.8,492.4 L570.3,492.7 L569.9,493.0 L569.5,493.4 L569.1,493.8 L568.7,494.3 L568.4,494.8 L568.1,495.3 L567.9,495.8 L567.7,496.4 L567.5,497.0 L567.4,497.5 L567.4,498.1 L567.4,498.6 L567.4,499.2 L567.5,499.6 L567.7,500.1 L567.9,500.5 L568.1,500.9 L568.4,501.2 L568.8,501.5 L569.1,501.7 Z" class="o" />
<path d="M573.0,505.9 L577.0,508.4 L577.6,508.6 L578.2,508.8 L578.8,509.0 L579.4,509.0 L580.1,508.9 L580.8,508.8 L581.5,508.6 L582.2,508.2 L582.8,507.9 L583.5,507.4 L584.1,506.9 L584.7,506.3 L585.2,505.6 L585.7,504.9 L586.1,504.2 L586.4,503.4 L586.7,502.7 L586.9,501.9 L587.1,501.1 L587.1,500.3 L587.1,499.6 L587.0,498.8 L586.8,498.2 L586.6,497.5 L586.3,497.0 L585.9,496.4 L585.5,496.0 L585.0,495.6 L581.0,493.1 L580.4,492.9 L579.8,492.7 L579.2,492.5 L578.6,492.5 L577.9,492.6 L577.2,492.7 L576.5,492.9 L575.8,493.3 L575.2,493.6 L574.5,494.1 L573.9,494.6 L573.3,495.2 L572.8,495.9 L572.3,496.6 L571.9,497.3 L571.6,498.1 L571.3,498.8 L571.1,499.6 L570.9,500.4 L570.9,501.2 L570.9,501.9 L571.0,502.7 L571.2,503.3 L571.4,504.0 L571.7,504.5 L572.1,505.1 L572.5,505.5 L573.0,505.9 Z" class="o" />
<path d="M577.0,508.4 L577.8,508.7 L578.7,508.9 L579.6,509.0 L580.5,508.9 L581.5,508.6 L582.4,508.1 L583.4,507.5 L584.2,506.7 L585.0,505.9 L585.7,504.9 L586.2,503.9 L586.7,502.8 L587.0,501.7 L587.1,500.6 L587.1,499.6 L587.0,498.6 L586.7,497.7 L586.2,496.9 L585.7,496.2 L585.0,495.6 L584.2,495.3 L583.3,495.1 L582.4,495.0 L581.5,495.1 L580.5,495.4 L579.6,495.9 L578.6,496.5 L577.8,497.3 L577.0,498.1 L576.3,499.1 L575.8,500.1 L575.3,501.2 L575.0,502.3 L574.9,503.4 L574.9,504.4 L575.0,505.4 L575.3,506.3 L575.8,507.1 L576.3,507.8 L577.0,508.4 Z" class="o" />
<path d="M579.3,504.7 L579.7,504.9 L580.2,504.9 L580.7,504.9 L581.2,504.8 L581.7,504.5 L582.2,504.2 L582.6,503.7 L583.0,503.2 L583.2,502.7 L583.4,502.1 L583.6,501.5 L583.6,501.0 L583.5,500.5 L583.3,500.0 L583.0,499.6 L582.7,499.3 L582.3,499.1 L581.8,499.1 L581.3,499.1 L580.8,499.2 L580.3,499.5 L579.8,499.8 L579.4,500.3 L579.0,500.8 L578.8,501.3 L578.6,501.9 L578.4,502.5 L578.4,503.0 L578.5,503.5 L578.7,504.0 L579.0,504.4 L579.3,504.7 Z" class="o" />
<path d="M573.8,541.1 L600.8,557.6 L601.1,557.7 L601.4,557.8 L601.7,557.9 L602.1,557.9 L602.4,557.8 L602.8,557.7 L603.1,557.6 L603.5,557.4 L603.9,557.1 L604.2,556.9 L604.5,556.6 L604.8,556.2 L605.1,555.9 L605.4,555.5 L605.6,555.0 L605.8,554.6 L606.0,554.2 L606.1,553.8 L606.2,553.3 L606.2,552.9 L606.2,552.5 L606.2,552.1 L606.1,551.7 L606.0,551.4 L605.9,551.1 L605.7,550.8 L605.4,550.6 L605.2,550.4 L578.2,533.9 L577.9,533.8 L577.6,533.7 L577.3,533.6 L576.9,533.6 L576.6,533.7 L576.2,533.8 L575.9,533.9 L575.5,534.1 L575.1,534.4 L574.8,534.6 L574.5,534.9 L574.2,535.3 L573.9,535.6 L573.6,536.0 L573.4,536.5 L573.2,536.9 L573.0,537.3 L572.9,537.7 L572.8,538.2 L572.8,538.6 L572.8,539.0 L572.8,539.4 L572.9,539.8 L573.0,540.1 L573.1,540.4 L573.3,540.7 L573.6,540.9 L573.8,541.1 Z" class="o" />
<path d="M575.4,541.6 L576.4,541.8 L577.5,541.5 L578.6,540.8 L579.5,539.6 L580.1,538.3 L580.3,537.0 L580.0,535.8 L579.3,535.1" class="t"/>
<path d="M577.6,542.9 L578.6,543.2 L579.7,542.9 L580.8,542.1 L581.8,541.0 L582.3,539.7 L582.5,538.3 L582.2,537.2 L581.6,536.5" class="t"/>
<path d="M579.9,544.3 L580.9,544.6 L582.0,544.3 L583.1,543.5 L584.0,542.4 L584.6,541.1 L584.8,539.7 L584.5,538.6 L583.8,537.8" class="t"/>
<path d="M582.1,545.7 L583.1,545.9 L584.2,545.7 L585.3,544.9 L586.3,543.8 L586.8,542.4 L587.0,541.1 L586.7,540.0 L586.1,539.2" class="t"/>
<path d="M578.9,539.5 L578.1,540.2 L577.0,540.5 L575.6,540.3 L574.2,539.7 L573.0,538.8 L572.2,537.6 L571.9,536.5 L572.1,535.5 L572.9,534.8 L574.0,534.5 L575.4,534.7 L576.8,535.3 L578.0,536.2 L578.8,537.4 L579.1,538.5 L578.9,539.5 Z" class="o" />
<path d="M601.2,515.8 L606.8,508.9 L615.0,506.9 L619.1,510.3 L619.1,548.1 L617.8,561.9 L612.2,567.4 L604.0,567.4 L601.2,563.2 Z" class="o" />
<path d="M604.5,518.0 L604.5,562.0" class="t" />
<path d="M616.5,519.2 L616.3,520.5 L615.8,521.7 L615.1,522.6 L614.1,523.2 L613.0,523.5 L611.9,523.2 L610.9,522.6 L610.2,521.7 L609.7,520.5 L609.5,519.2 L609.7,518.0 L610.2,516.8 L610.9,515.9 L611.9,515.3 L613.0,515.0 L614.1,515.3 L615.1,515.9 L615.8,516.8 L616.3,518.0 L616.5,519.2 Z" class="o" />
<path d="M617.8,561.0 L616.8,562.2 L615.6,563.0 L614.1,563.5 L612.5,563.6 L610.9,563.4 L609.4,562.7 L608.0,561.7 L607.0,560.4 L606.3,558.9 L606.0,557.4 L606.2,555.9 L606.7,554.5 L607.7,553.3 L608.9,552.5 L610.4,552.0 L612.0,551.9 L613.6,552.1 L615.1,552.8 L616.5,553.8 L617.5,555.1 L618.2,556.6 L618.5,558.1 L618.3,559.6 L617.8,561.0 Z" class="o" />
<path d="M638.1,544.1 L640.1,545.3 L640.8,545.7 L641.6,546.0 L642.5,546.1 L643.3,546.2 L644.2,546.1 L645.1,546.0 L646.0,545.7 L646.9,545.3 L647.7,544.8 L648.5,544.2 L649.3,543.6 L650.0,542.8 L650.6,542.0 L651.2,541.1 L651.7,540.2 L652.1,539.3 L652.4,538.3 L652.7,537.3 L652.8,536.3 L652.8,535.3 L652.8,534.4 L652.6,533.5 L652.3,532.6 L652.0,531.8 L651.5,531.1 L651.0,530.4 L650.4,529.8 L649.7,529.4 L647.7,528.2 L647.0,527.8 L646.2,527.5 L645.3,527.4 L644.5,527.3 L643.6,527.4 L642.7,527.5 L641.8,527.8 L640.9,528.2 L640.1,528.7 L639.3,529.3 L638.5,529.9 L637.8,530.7 L637.2,531.5 L636.6,532.4 L636.1,533.3 L635.7,534.2 L635.4,535.2 L635.1,536.2 L635.0,537.2 L635.0,538.2 L635.0,539.1 L635.2,540.0 L635.5,540.9 L635.8,541.7 L636.3,542.4 L636.8,543.1 L637.4,543.7 L638.1,544.1 Z" class="o" />
<path d="M640.5,544.8 L647.8,544.1 L652.2,536.7 L649.3,529.9 L642.0,530.6 L637.6,538.0 Z" class="t" />
<path d="M643.5,542.6 L644.5,543.0 L645.6,543.1 L646.8,542.8 L647.9,542.2 L648.9,541.4 L649.8,540.3 L650.3,539.0 L650.6,537.7 L650.6,536.5 L650.3,535.3 L649.7,534.3 L648.9,533.6 L647.9,533.2 L646.8,533.2 L645.6,533.4 L644.5,534.0 L643.5,534.9 L642.6,536.0 L642.1,537.2 L641.8,538.5 L641.8,539.8 L642.1,541.0 L642.7,541.9 L643.5,542.6 Z" class="t" />
<path d="M644.1,541.6 L644.9,541.9 L645.8,541.9 L646.7,541.7 L647.5,541.3 L648.3,540.6 L648.9,539.8 L649.4,538.8 L649.6,537.8 L649.6,536.8 L649.4,536.0 L648.9,535.2 L648.3,534.7 L647.5,534.4 L646.6,534.3 L645.7,534.5 L644.9,535.0 L644.1,535.7 L643.5,536.5 L643.0,537.4 L642.8,538.4 L642.8,539.4 L643.0,540.3 L643.5,541.0 L644.1,541.6 Z" class="n" />
<polyline points="264.0,26.0 299.0,26.0" class="ld"/>
<circle cx="264.0" cy="26.0" r="1.9" fill="#1e1e1e"/>
<polyline points="232.5,62.0 296.0,62.0" class="ld"/>
<circle cx="296.0" cy="62.0" r="1.9" fill="#1e1e1e"/>
<polyline points="242.5,62.0 242.5,165.0" class="ld"/>
<circle cx="242.5" cy="165.0" r="1.9" fill="#1e1e1e"/>
<polyline points="184.0,105.0 184.0,130.0" class="ld"/>
<circle cx="184.0" cy="130.0" r="1.9" fill="#1e1e1e"/>
<polyline points="357.6,101.0 357.6,123.0" class="ld"/>
<circle cx="357.6" cy="101.0" r="1.9" fill="#1e1e1e"/>
<polyline points="373.6,109.6 373.6,145.0" class="ld"/>
<circle cx="373.6" cy="109.6" r="1.9" fill="#1e1e1e"/>
<polyline points="309.0,166.0 333.0,166.0" class="ld"/>
<circle cx="309.0" cy="166.0" r="1.9" fill="#1e1e1e"/>
<polyline points="421.5,51.6 421.5,72.0" class="ld"/>
<circle cx="421.5" cy="72.0" r="1.9" fill="#1e1e1e"/>
<polyline points="429.7,115.0 429.7,145.0" class="ld"/>
<circle cx="429.7" cy="115.0" r="1.9" fill="#1e1e1e"/>
<polyline points="506.2,124.0 506.2,146.5" class="ld"/>
<circle cx="506.2" cy="124.0" r="1.9" fill="#1e1e1e"/>
<polyline points="600.0,93.0 600.0,115.0" class="ld"/>
<circle cx="600.0" cy="115.0" r="1.9" fill="#1e1e1e"/>
<polyline points="342.0,227.6 407.0,227.6" class="ld"/>
<circle cx="407.0" cy="227.6" r="1.9" fill="#1e1e1e"/>
<polyline points="342.0,227.6 357.6,245.0" class="ld"/>
<circle cx="357.6" cy="245.0" r="1.9" fill="#1e1e1e"/>
<polyline points="341.0,228.0 341.0,259.0" class="ld"/>
<circle cx="341.0" cy="259.0" r="1.9" fill="#1e1e1e"/>
<polyline points="393.6,300.6 411.0,300.6" class="ld"/>
<circle cx="393.6" cy="300.6" r="1.9" fill="#1e1e1e"/>
<polyline points="339.0,333.0 369.0,333.0" class="ld"/>
<circle cx="369.0" cy="333.0" r="1.9" fill="#1e1e1e"/>
<polyline points="185.5,236.0 185.5,266.0" class="ld"/>
<circle cx="185.5" cy="266.0" r="1.9" fill="#1e1e1e"/>
<polyline points="273.8,281.0 285.0,281.0" class="ld"/>
<circle cx="285.0" cy="281.0" r="1.9" fill="#1e1e1e"/>
<polyline points="294.0,335.5 294.0,350.0" class="ld"/>
<circle cx="294.0" cy="335.5" r="1.9" fill="#1e1e1e"/>
<polyline points="619.4,302.0 638.0,302.0" class="ld"/>
<circle cx="619.4" cy="302.0" r="1.9" fill="#1e1e1e"/>
<polyline points="559.0,392.0 579.5,392.0" class="ld"/>
<circle cx="579.5" cy="392.0" r="1.9" fill="#1e1e1e"/>
<polyline points="622.0,387.5 622.0,414.5" class="ld"/>
<circle cx="622.0" cy="387.5" r="1.9" fill="#1e1e1e"/>
<polyline points="490.5,326.0 490.5,350.0" class="ld"/>
<circle cx="490.5" cy="326.0" r="1.9" fill="#1e1e1e"/>
<polyline points="442.5,376.0 464.5,376.0 464.5,397.0 446.0,397.0" class="ld"/>
<circle cx="442.5" cy="376.0" r="1.9" fill="#1e1e1e"/>
<circle cx="446.0" cy="397.0" r="1.9" fill="#1e1e1e"/>
<polyline points="464.5,386.0 475.0,386.0" class="ld"/>
<polyline points="355.5,424.5 355.5,455.0 376.8,455.0 376.8,436.0" class="ld"/>
<circle cx="355.5" cy="424.5" r="1.9" fill="#1e1e1e"/>
<circle cx="376.8" cy="436.0" r="1.9" fill="#1e1e1e"/>
<polyline points="365.5,455.0 365.5,462.5" class="ld"/>
<polyline points="321.8,470.0 321.8,496.0" class="ld"/>
<circle cx="321.8" cy="470.0" r="1.9" fill="#1e1e1e"/>
<polyline points="475.0,445.5 475.0,469.0" class="ld"/>
<circle cx="475.0" cy="469.0" r="1.9" fill="#1e1e1e"/>
<polyline points="569.0,444.8 569.0,458.0" class="ld"/>
<polyline points="554.5,475.0 554.5,458.0 585.3,458.0 585.3,494.0" class="ld"/>
<circle cx="554.5" cy="475.0" r="1.9" fill="#1e1e1e"/>
<circle cx="585.3" cy="494.0" r="1.9" fill="#1e1e1e"/>
<polyline points="494.5,505.0 494.5,516.0" class="ld"/>
<circle cx="494.5" cy="505.0" r="1.9" fill="#1e1e1e"/>
<polyline points="645.8,505.0 645.8,527.0" class="ld"/>
<circle cx="645.8" cy="527.0" r="1.9" fill="#1e1e1e"/>
<polyline points="586.0,549.0 586.0,571.0" class="ld"/>
<circle cx="586.0" cy="549.0" r="1.9" fill="#1e1e1e"/>
<polyline points="532.0,532.8 532.0,554.8" class="ld"/>
<circle cx="532.0" cy="554.8" r="1.9" fill="#1e1e1e"/>
<polyline points="532.5,597.4 556.0,597.4" class="ld"/>
<circle cx="532.5" cy="597.4" r="1.9" fill="#1e1e1e"/>
<polyline points="182.6,488.6 208.8,488.6" class="ld"/>
<circle cx="182.6" cy="488.6" r="1.9" fill="#1e1e1e"/>
<polyline points="258.8,509.5 258.8,531.0" class="ld"/>
<circle cx="258.8" cy="531.0" r="1.9" fill="#1e1e1e"/>
<polyline points="337.5,559.0 337.5,577.0" class="ld"/>
<circle cx="337.5" cy="577.0" r="1.9" fill="#1e1e1e"/>
<polyline points="150.9,590.0 150.9,614.0" class="ld"/>
<circle cx="150.9" cy="614.0" r="1.9" fill="#1e1e1e"/>
<polyline points="188.4,613.0 188.4,636.0" class="ld"/>
<circle cx="188.4" cy="636.0" r="1.9" fill="#1e1e1e"/>
<polyline points="294.0,639.8 321.2,639.8" class="ld"/>
<circle cx="294.0" cy="639.8" r="1.9" fill="#1e1e1e"/>
<polyline points="306.8,680.6 332.7,680.6" class="ld"/>
<circle cx="306.8" cy="680.6" r="1.9" fill="#1e1e1e"/>
<polyline points="217.7,733.8 245.0,733.8" class="ld"/>
<circle cx="217.7" cy="733.8" r="1.9" fill="#1e1e1e"/>
<polyline points="219.0,766.3 245.0,766.3" class="ld"/>
<circle cx="219.0" cy="766.3" r="1.9" fill="#1e1e1e"/>
<polyline points="387.8,544.5 387.8,576.0" class="ld"/>
<circle cx="387.8" cy="544.5" r="1.9" fill="#1e1e1e"/>
<polyline points="425.2,566.0 425.2,586.0" class="ld"/>
<circle cx="425.2" cy="566.0" r="1.9" fill="#1e1e1e"/>
<polyline points="579.0,623.6 579.0,649.4" class="ld"/>
<circle cx="579.0" cy="649.4" r="1.9" fill="#1e1e1e"/>
<polyline points="396.5,640.8 396.5,656.6" class="ld"/>
<circle cx="396.5" cy="656.6" r="1.9" fill="#1e1e1e"/>
<polyline points="471.7,676.0 471.7,692.9" class="ld"/>
<circle cx="471.7" cy="692.9" r="1.9" fill="#1e1e1e"/>
<polyline points="396.5,715.4 396.5,740.0" class="ld"/>
<circle cx="396.5" cy="715.4" r="1.9" fill="#1e1e1e"/>
<polyline points="513.3,734.5 513.3,761.0" class="ld"/>
<circle cx="513.3" cy="761.0" r="1.9" fill="#1e1e1e"/>
<text x="201.1" y="33.0" class="lb" style="fill:#2a2ab8;stroke:#2a2ab8">25</text>
<text x="303.8" y="31.0" class="lb" style="fill:#2a2ab8;stroke:#2a2ab8">30</text>
<text x="209.8" y="65.5" class="lb" style="fill:#2a2ab8;stroke:#2a2ab8">26</text>
<text x="174.8" y="100.5" class="lb" style="fill:#2a2ab8;stroke:#2a2ab8">29</text>
<text x="348.4" y="138.0" class="lb" style="fill:#2a2ab8;stroke:#2a2ab8">33</text>
<text x="364.8" y="160.0" class="lb" style="fill:#2a2ab8;stroke:#2a2ab8">35</text>
<text x="410.8" y="45.0" class="lb" style="fill:#2a2ab8;stroke:#2a2ab8">36</text>
<text x="419.8" y="163.0" class="lb" style="fill:#2a2ab8;stroke:#2a2ab8">31</text>
<text x="496.4" y="164.0" class="lb" style="fill:#2a2ab8;stroke:#2a2ab8">27</text>
<text x="590.5" y="87.0" class="lb" style="fill:#2a2ab8;stroke:#2a2ab8">32</text>
<text x="330.4" y="227.0" class="lb" style="fill:#2a2ab8;stroke:#2a2ab8">6</text>
<text x="412.8" y="304.0" class="lb" style="fill:#2a2ab8;stroke:#2a2ab8">5</text>
<text x="326.8" y="336.0" class="lb" style="fill:#2a2ab8;stroke:#2a2ab8">2</text>
<text x="283.8" y="365.0" class="lb" style="fill:#2a2ab8;stroke:#2a2ab8">24</text>
<text x="174.8" y="229.5" class="lb" style="fill:#2a2ab8;stroke:#2a2ab8">28</text>
<text x="253.3" y="285.0" class="lb" style="fill:#2a2ab8;stroke:#2a2ab8">34</text>
<text x="639.8" y="305.6" class="lb" style="fill:#2a2ab8;stroke:#2a2ab8">37</text>
<text x="527.8" y="396.5" class="lb" style="fill:#2a2ab8;stroke:#2a2ab8">32A</text>
<text x="615.8" y="434.0" class="lb" style="fill:#2a2ab8;stroke:#2a2ab8">4</text>
<text x="485.8" y="365.0" class="lb" style="fill:#2a2ab8;stroke:#2a2ab8">1</text>
<text x="478.3" y="389.5" class="lb" style="fill:#2a2ab8;stroke:#2a2ab8">7</text>
<text x="359.8" y="477.5" class="lb" style="fill:#2a2ab8;stroke:#2a2ab8">7</text>
<text x="312.8" y="511.0" class="lb" style="fill:#2a2ab8;stroke:#2a2ab8">38</text>
<text x="466.3" y="439.0" class="lb" style="fill:#2a2ab8;stroke:#2a2ab8">23</text>
<text x="559.3" y="441.5" class="lb" style="fill:#2a2ab8;stroke:#2a2ab8">22</text>
<text x="484.8" y="530.6" class="lb" style="fill:#2a2ab8;stroke:#2a2ab8">20</text>
<text x="636.8" y="501.0" class="lb" style="fill:#2a2ab8;stroke:#2a2ab8">23</text>
<text x="576.8" y="586.0" class="lb" style="fill:#2a2ab8;stroke:#2a2ab8">20</text>
<text x="524.4" y="528.6" class="lb" style="fill:#2a2ab8;stroke:#2a2ab8">14</text>
<text x="557.4" y="600.0" class="lb" style="fill:#2a2ab8;stroke:#2a2ab8">9</text>
<text x="211.8" y="493.0" class="lb" style="fill:#2a2ab8;stroke:#2a2ab8">18</text>
<text x="253.8" y="504.5" class="lb" style="fill:#2a2ab8;stroke:#2a2ab8">3</text>
<text x="329.8" y="553.5" class="lb" style="fill:#2a2ab8;stroke:#2a2ab8">15</text>
<text x="142.8" y="584.0" class="lb" style="fill:#2a2ab8;stroke:#2a2ab8">10</text>
<text x="179.8" y="606.0" class="lb" style="fill:#2a2ab8;stroke:#2a2ab8">13</text>
<text x="326.6" y="644.0" class="lb" style="fill:#2a2ab8;stroke:#2a2ab8">14</text>
<text x="336.4" y="685.0" class="lb" style="fill:#2a2ab8;stroke:#2a2ab8">8</text>
<text x="246.7" y="738.7" class="lb" style="fill:#2a2ab8;stroke:#2a2ab8">12</text>
<text x="246.7" y="770.0" class="lb" style="fill:#2a2ab8;stroke:#2a2ab8">11</text>
<text x="379.8" y="591.0" class="lb" style="fill:#2a2ab8;stroke:#2a2ab8">10</text>
<text x="417.7" y="599.7" class="lb" style="fill:#2a2ab8;stroke:#2a2ab8">13</text>
<text x="569.5" y="623.6" class="lb" style="fill:#2a2ab8;stroke:#2a2ab8">16</text>
<text x="387.5" y="636.0" class="lb" style="fill:#2a2ab8;stroke:#2a2ab8">22</text>
<text x="460.8" y="670.4" class="lb" style="fill:#2a2ab8;stroke:#2a2ab8">21</text>
<text x="387.8" y="753.6" class="lb" style="fill:#2a2ab8;stroke:#2a2ab8">17</text>
<text x="505.6" y="732.7" class="lb" style="fill:#2a2ab8;stroke:#2a2ab8">19</text>
<text x="425" y="224" class="lb" style="fill:#e02020;stroke:#e02020">x</text>
<text x="430" y="265" class="lb" style="fill:#e02020;stroke:#e02020">y</text>
<text x="270" y="327.5" class="lb" style="fill:#e02020;stroke:#e02020">y</text>
<polygon points="142.5,37 148.125,27.5 153.75,37" fill="#f5a300"/>
<path d="M166.2,27 H173.8 M166.2,30.3 H173.8" stroke="#222" stroke-width="1.5" fill="none"/>
<path d="M191.3,23.5 L188.3,34 M186,30.3 H194" stroke="#e02020" stroke-width="1.6" fill="none"/>
<polygon points="196,67.5 201.75,58 207.5,67.5" fill="#f5a300"/>
<polygon points="335.8,170 341.1,161 346.4,170" fill="#f5a300"/>
<rect x="483.2" y="517" width="21.7" height="14.5" fill="none" stroke="#22dd22" stroke-width="2"/>
<rect x="576" y="572" width="21" height="15" fill="none" stroke="#22dd22" stroke-width="2"/>
</svg></body></html>
